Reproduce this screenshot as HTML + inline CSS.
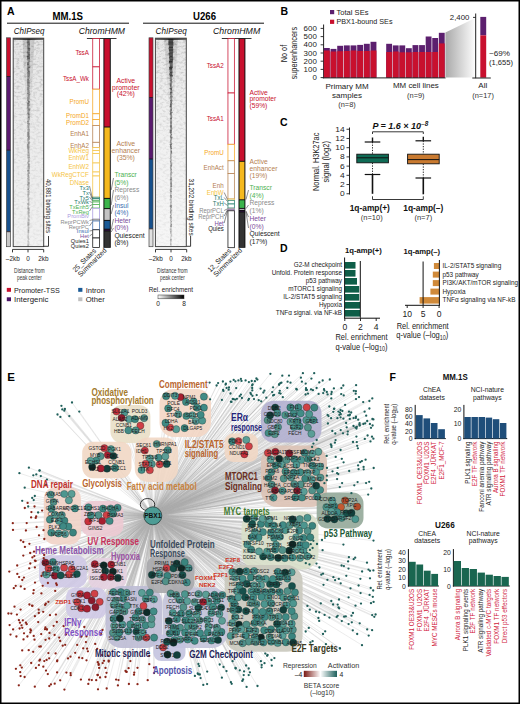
<!DOCTYPE html>
<html><head><meta charset="utf-8"><style>
html,body{margin:0;padding:0;background:#fff;width:520px;height:704px;overflow:hidden}
svg{display:block;font-family:"Liberation Sans",sans-serif}
</style></head><body>
<svg width="520" height="704" viewBox="0 0 520 704" font-family="'Liberation Sans', sans-serif">
<defs><filter id="noise3" x="0" y="0" width="1" height="1" filterUnits="objectBoundingBox">
<feTurbulence type="fractalNoise" baseFrequency="0.3 0.5" numOctaves="2" seed="3" result="t"/>
<feColorMatrix in="t" type="matrix" values="0 0 0 0 0  0 0 0 0 0  0 0 0 0 0  0.55 0 0 0 -0.24"/>
</filter><linearGradient id="nmg3" x1="0" y1="0" x2="0" y2="1"><stop offset="0" stop-color="#fff" stop-opacity="0.8"/><stop offset="0.3" stop-color="#fff" stop-opacity="0.6"/><stop offset="0.6" stop-color="#fff" stop-opacity="0.35"/><stop offset="1" stop-color="#fff" stop-opacity="0.25"/></linearGradient><mask id="nmask3" maskUnits="userSpaceOnUse" x="13.2" y="37.8" width="30.500000000000004" height="208.8"><rect x="13.2" y="37.8" width="30.500000000000004" height="208.8" fill="url(#nmg3)"/></mask><linearGradient id="halo3" x1="0" y1="0" x2="0" y2="1"><stop offset="0" stop-color="#000" stop-opacity="0.13"/><stop offset="1" stop-color="#000" stop-opacity="0"/></linearGradient><linearGradient id="hmtop3" x1="0" y1="0" x2="0" y2="1">
<stop offset="0" stop-color="#000" stop-opacity="0.05"/><stop offset="0.3" stop-color="#000" stop-opacity="0.03"/><stop offset="1" stop-color="#000" stop-opacity="0"/></linearGradient><linearGradient id="topband" x1="0" y1="0" x2="1" y2="0"><stop offset="0" stop-color="#555"/><stop offset="0.45" stop-color="#111"/><stop offset="0.55" stop-color="#111"/><stop offset="1" stop-color="#555"/></linearGradient><filter id="noise7" x="0" y="0" width="1" height="1" filterUnits="objectBoundingBox">
<feTurbulence type="fractalNoise" baseFrequency="0.3 0.5" numOctaves="2" seed="7" result="t"/>
<feColorMatrix in="t" type="matrix" values="0 0 0 0 0  0 0 0 0 0  0 0 0 0 0  0.55 0 0 0 -0.24"/>
</filter><linearGradient id="nmg7" x1="0" y1="0" x2="0" y2="1"><stop offset="0" stop-color="#fff" stop-opacity="0.8"/><stop offset="0.3" stop-color="#fff" stop-opacity="0.6"/><stop offset="0.6" stop-color="#fff" stop-opacity="0.35"/><stop offset="1" stop-color="#fff" stop-opacity="0.25"/></linearGradient><mask id="nmask7" maskUnits="userSpaceOnUse" x="155.4" y="37.8" width="30.900000000000006" height="208.8"><rect x="155.4" y="37.8" width="30.900000000000006" height="208.8" fill="url(#nmg7)"/></mask><linearGradient id="halo7" x1="0" y1="0" x2="0" y2="1"><stop offset="0" stop-color="#000" stop-opacity="0.13"/><stop offset="1" stop-color="#000" stop-opacity="0"/></linearGradient><linearGradient id="hmtop7" x1="0" y1="0" x2="0" y2="1">
<stop offset="0" stop-color="#000" stop-opacity="0.06"/><stop offset="0.3" stop-color="#000" stop-opacity="0.03"/><stop offset="1" stop-color="#000" stop-opacity="0"/></linearGradient><linearGradient id="cbar" x1="0" y1="0" x2="1" y2="0"><stop offset="0" stop-color="#fff"/><stop offset="1" stop-color="#000"/></linearGradient><linearGradient id="trap" x1="0" y1="0" x2="1" y2="0"><stop offset="0" stop-color="#a9a9a9"/><stop offset="1" stop-color="#fcfcfc"/></linearGradient><linearGradient id="beta" x1="0" y1="0" x2="1" y2="0"><stop offset="0" stop-color="#7a1a14"/><stop offset="0.5" stop-color="#ffffff"/><stop offset="1" stop-color="#1d5f5b"/></linearGradient></defs>
<rect x="0" y="0" width="520" height="704" fill="#fff"/>
<path d="M153 516L116.5 411.5M153 516L128.4 430.3M153 516L140.4 425.7M153 516L124.4 412.6M153 516L121.5 417.8M153 516L129.0 419.2M153 516L135.7 430.4M153 516L135.0 419.2M153 516L144.1 418.1M153 516L176.2 429.2M153 516L180.7 397.2M153 516L192.3 415.3M153 516L195.7 421.1M153 516L178.3 414.3M153 516L170.1 427.5M153 516L184.6 428.1M153 516L193.7 401.5M153 516L168.2 408.4M153 516L166.1 396.2M153 516L203.9 407.7M153 516L165.5 422.9M153 516L197.0 407.7M153 516L175.0 395.8M153 516L186.4 416.0M153 516L202.2 420.7M153 516L200.7 414.8M153 516L186.0 401.9M153 516L203.9 396.7M153 516L107.8 454.9M153 516L104.4 448.2M153 516L115.1 467.9M153 516L113.4 456.0M153 516L92.2 466.9M153 516L107.0 468.7M153 516L100.5 456.2M153 516L96.0 460.7M153 516L100.8 468.4M153 516L90.6 460.8M153 516L111.0 449.2M153 516L144.8 450.5M153 516L166.6 463.9M153 516L156.7 444.0M153 516L141.6 470.0M153 516L158.5 457.6M153 516L149.9 458.4M153 516L167.7 450.1M153 516L165.3 456.4M153 516L151.8 464.1M153 516L149.8 470.2M153 516L145.6 463.8M153 516L159.7 464.3M153 516L246.3 439.9M153 516L232.1 441.3M153 516L248.9 446.3M153 516L238.4 441.2M153 516L244.4 454.3M153 516L307.9 427.5M153 516L306.3 420.1M153 516L290.4 407.4M153 516L293.6 413.6M153 516L299.6 426.3M153 516L275.2 407.6M153 516L294.0 427.0M153 516L274.8 434.2M153 516L298.3 407.4M153 516L313.4 420.2M153 516L267.7 420.2M153 516L306.7 407.3M153 516L277.4 413.1M153 516L290.5 421.7M153 516L314.3 407.6M153 516L297.4 420.9M153 516L311.4 433.8M153 516L300.7 413.3M153 516L268.5 433.0M153 516L278.0 427.1M153 516L309.2 414.2M153 516L270.1 415.3M153 516L285.3 415.1M153 516L305.2 478.7M153 516L297.1 490.7M153 516L270.6 459.4M153 516L282.0 464.4M153 516L316.2 471.9M153 516L267.9 452.8M153 516L311.8 479.4M153 516L302.0 497.5M153 516L320.4 477.6M153 516L294.3 484.1M153 516L285.5 471.4M153 516L283.7 478.6M153 516L271.3 472.1M153 516L279.2 458.8M153 516L317.1 496.7M153 516L282.5 490.8M153 516L293.7 472.7M153 516L301.3 460.0M153 516L312.2 490.5M153 516L291.1 477.5M153 516L320.1 466.6M153 516L300.7 484.4M153 516L312.5 465.6M153 516L320.1 490.0M153 516L271.7 484.7M153 516L275.7 465.4M153 516L318.3 451.8M153 516L273.5 497.6M153 516L308.1 459.0M153 516L268.4 478.0M153 516L294.2 459.2M153 516L316.2 485.6M153 516L289.3 453.4M153 516L295.4 497.4M153 516L303.8 491.6M153 516L275.3 451.8M153 516L296.4 464.8M153 516L286.5 460.0M153 516L307.6 472.9M153 516L275.0 490.3M153 516L312.2 453.6M153 516L300.3 472.3M153 516L304.5 452.8M153 516L326.4 507.1M153 516L345.1 500.5M153 516L341.0 507.0M153 516L334.1 506.0M153 516L337.4 512.3M153 516L355.3 519.1M153 516L346.2 513.3M153 516L357.2 506.6M153 516L331.4 511.4M153 516L341.7 517.8M153 516L332.2 500.7M153 516L351.5 512.9M153 516L327.5 518.8M153 516L334.4 519.3M153 516L285.3 530.2M153 516L246.6 518.8M153 516L289.2 550.7M153 516L307.4 517.8M153 516L292.5 557.5M153 516L296.2 550.2M153 516L275.2 549.7M153 516L282.5 550.1M153 516L307.6 530.9M153 516L292.5 544.3M153 516L296.5 524.0M153 516L251.1 549.5M153 516L312.3 525.8M153 516L303.5 550.3M153 516L300.1 558.0M153 516L276.0 544.8M153 516L260.9 523.9M153 516L282.9 525.1M153 516L300.2 545.0M153 516L305.8 545.1M153 516L303.4 537.8M153 516L279.9 536.7M153 516L296.1 537.3M153 516L255.0 532.0M153 516L299.2 530.6M153 516L304.0 525.3M153 516L251.9 537.1M153 516L289.7 525.1M153 516L278.3 531.6M153 516L299.8 519.1M153 516L254.0 518.0M153 516L268.1 524.0M153 516L278.2 557.8M153 516L263.1 556.4M153 516L271.0 532.5M153 516L292.5 519.3M153 516L259.0 551.4M153 516L269.4 519.7M153 516L252.2 524.1M153 516L307.5 556.3M153 516L274.1 538.0M153 516L270.8 557.1M153 516L262.9 532.1M153 516L273.8 525.5M153 516L284.8 558.1M153 516L247.3 544.5M153 516L258.5 537.4M153 516L262.8 518.6M153 516L267.1 551.5M153 516L310.3 537.3M153 516L232.3 571.8M153 516L248.7 641.6M153 516L269.6 637.1M153 516L236.8 590.9M153 516L256.5 604.1M153 516L245.6 635.3M153 516L294.9 592.4M153 516L253.9 585.3M153 516L277.7 643.0M153 516L250.9 577.4M153 516L238.5 609.6M153 516L291.6 572.3M153 516L278.5 616.6M153 516L235.2 617.0M153 516L292.0 636.3M153 516L238.9 624.5M153 516L271.8 591.7M153 516L269.4 611.1M153 516L279.6 629.7M153 516L277.9 571.9M153 516L251.4 591.3M153 516L282.7 635.6M153 516L261.0 585.1M153 516L286.4 605.3M153 516L271.2 641.7M153 516L270.0 584.0M153 516L283.1 623.8M153 516L230.7 635.8M153 516L234.3 603.6M153 516L246.4 624.6M153 516L265.0 592.2M153 516L265.5 578.8M153 516L287.5 591.1M153 516L291.0 598.5M153 516L292.0 586.0M153 516L249.4 630.2M153 516L242.8 591.1M153 516L239.6 571.7M153 516L258.9 578.4M153 516L285.1 572.6M153 516L246.0 611.1M153 516L285.8 617.0M153 516L279.8 577.2M153 516L235.5 630.6M153 516L235.2 577.5M153 516L276.4 584.5M153 516L260.9 622.8M153 516L233.2 609.9M153 516L255.5 630.9M153 516L279.7 592.0M153 516L242.6 578.8M153 516L257.0 591.7M153 516L255.4 611.4M153 516L292.8 629.7M153 516L293.3 642.7M153 516L264.6 616.9M153 516L231.3 598.9M153 516L238.1 597.3M153 516L264.5 604.1M153 516L241.3 629.2M153 516L271.0 629.3M153 516L283.3 609.8M153 516L287.3 578.6M153 516L294.3 616.2M153 516L254.2 571.0M153 516L253.2 597.6M153 516L293.2 603.4M153 516L273.0 579.0M153 516L261.0 637.5M153 516L251.1 603.1M153 516L246.3 571.3M153 516L254.9 637.3M153 516L291.7 623.7M153 516L232.3 623.0M153 516L291.7 611.1M153 516L271.8 617.2M153 516L286.2 630.4M153 516L242.6 643.2M153 516L283.5 597.6M153 516L254.5 623.0M153 516L245.3 597.3M153 516L264.2 630.3M153 516L271.2 603.3M153 516L246.8 583.8M153 516L261.6 597.0M153 516L277.0 623.8M153 516L268.3 597.6M153 516L285.9 642.3M153 516L255.7 641.9M153 516L263.4 642.5M153 516L239.4 585.5M153 516L262.7 611.8M153 516L257.0 617.6M153 516L50.8 494.7M153 516L53.5 502.0M153 516L65.1 533.9M153 516L51.4 508.4M153 516L71.6 493.9M153 516L64.3 494.0M153 516L64.4 520.7M153 516L61.8 515.1M153 516L54.9 514.7M153 516L49.9 519.6M153 516L58.5 533.4M153 516L68.9 500.3M153 516L68.4 526.6M153 516L75.0 508.4M153 516L63.0 526.2M153 516L51.3 532.6M153 516L59.0 521.0M153 516L73.0 532.6M153 516L117.6 507.8M153 516L110.7 508.5M153 516L106.6 515.1M153 516L88.2 521.4M153 516L109.6 521.0M153 516L90.9 515.4M153 516L113.0 513.7M153 516L102.9 508.6M153 516L98.5 515.2M153 516L102.2 521.0M153 516L88.5 507.3M153 516L46.5 574.6M153 516L76.8 574.0M153 516L69.0 574.4M153 516L45.4 562.6M153 516L52.9 562.0M153 516L64.1 567.7M153 516L54.8 575.6M153 516L48.5 568.4M153 516L71.8 569.1M153 516L56.1 569.1M153 516L60.7 575.3M153 516L112.8 571.7M153 516L117.9 577.9M153 516L105.3 571.1M153 516L111.2 564.6M153 516L103.7 565.3M153 516L94.8 564.2M153 516L103.8 577.1M153 516L110.7 577.0M153 516L94.5 593.7M153 516L91.7 600.5M153 516L77.2 602.1M153 516L81.2 608.2M153 516L87.1 595.4M153 516L99.7 601.8M153 516L87.0 608.7M153 516L80.2 594.0M153 516L95.4 607.2M153 516L145.6 625.3M153 516L141.9 592.9M153 516L113.0 632.8M153 516L135.4 617.6M153 516L151.4 624.3M153 516L119.4 606.8M153 516L123.3 598.7M153 516L146.3 637.6M153 516L115.7 600.6M153 516L146.9 612.3M153 516L120.8 592.1M153 516L149.8 592.6M153 516L138.6 611.6M153 516L124.5 611.3M153 516L117.3 611.8M153 516L151.6 618.8M153 516L137.5 625.8M153 516L113.4 592.1M153 516L145.9 598.7M153 516L128.3 631.1M153 516L127.1 605.5M153 516L153.9 599.3M153 516L116.9 637.3M153 516L153.6 611.4M153 516L143.5 605.9M153 516L113.7 604.8M153 516L114.2 625.8M153 516L130.3 624.4M153 516L119.4 632.4M153 516L136.3 631.5M153 516L126.7 592.9M153 516L142.2 619.5M153 516L113.6 618.7M153 516L154.1 637.6M153 516L138.5 637.5M153 516L142.2 632.4M153 516L122.3 624.6M153 516L120.0 618.3M153 516L194.7 640.8M153 516L194.3 626.5M153 516L222.3 595.0M153 516L208.4 601.8M153 516L174.4 640.1M153 516L172.8 612.8M153 516L180.0 639.6M153 516L170.7 593.5M153 516L221.1 607.5M153 516L221.4 631.9M153 516L198.3 607.7M153 516L213.0 606.7M153 516L199.3 620.3M153 516L191.2 620.1M153 516L185.4 620.4M153 516L207.2 619.9M153 516L176.9 619.2M153 516L176.3 595.1M153 516L203.6 638.6M153 516L205.9 594.6M153 516L184.9 594.2M153 516L168.9 621.0M153 516L187.9 626.5M153 516L207.8 632.4M153 516L180.0 627.7M153 516L208.5 626.4M153 516L218.0 640.0M153 516L181.1 613.7M153 516L194.6 602.1M153 516L200.0 633.1M153 516L211.5 640.5M153 516L196.7 614.4M153 516L176.4 632.4M153 516L219.4 613.9M153 516L169.8 633.3M153 516L187.1 601.2M153 516L173.5 627.5M153 516L179.7 600.0M153 516L214.5 594.8M153 516L222.0 620.8M153 516L187.7 639.5M153 516L203.1 602.0M153 516L198.6 594.0M153 516L216.9 600.6M153 516L183.4 607.2M153 516L211.4 613.0M153 516L192.7 633.0M153 516L215.6 633.8M153 516L185.1 632.7M153 516L216.9 627.7M153 516L189.0 613.4M153 516L163.1 647.3M153 516L177.0 655.0M153 516L167.0 641.7M153 516L167.5 654.6M153 516L173.5 642.7M153 516L188.6 568.0M153 516L173.4 568.3M153 516L186.8 582.4M153 516L167.4 575.9M153 516L181.4 568.1M153 516L182.5 575.1M153 516L159.4 574.2M153 516L184.7 562.2M153 516L166.5 568.1M153 516L151.9 574.8M153 516L176.7 563.6M153 516L165.7 581.3M153 516L60.4 416.9M153 516L64.9 409.0M153 516L62.3 409.4M153 516L61.4 405.8M153 516L57.5 414.5M153 516L72.0 402.5M153 516L64.3 410.7M153 516L79.3 411.6M153 516L69.3 416.1M153 516L252.2 388.0M153 516L236.9 398.8M153 516L233.6 399.2M153 516L233.7 379.9M153 516L256.7 395.1M153 516L235.1 399.6M153 516L251.2 394.3M153 516L241.5 380.9M153 516L248.9 382.1M153 516L261.2 401.3M153 516L251.7 381.0M153 516L230.9 401.7M153 516L231.5 401.9M153 516L241.9 398.0M153 516L221.9 399.9M153 516L257.4 379.6M153 516L229.0 387.5M153 516L225.6 384.6M153 516L232.7 399.0M153 516L250.5 393.0M153 516L236.2 388.1M153 516L230.4 381.6M153 516L239.7 396.2M153 516L258.7 400.2M153 516L238.4 380.4M153 516L223.4 390.9M153 516L226.6 387.9M153 516L228.7 389.7M153 516L240.9 378.9M153 516L222.9 381.5M153 516L240.9 394.6M153 516L210.1 399.3M153 516L225.9 383.7M153 516L248.3 400.1M153 516L256.4 378.5M153 516L252.1 385.3M153 516L223.1 389.8M153 516L245.6 380.4M153 516L254.9 381.2M153 516L260.6 388.6M153 516L252.6 384.5M153 516L230.5 393.5M153 516L218.1 383.1M153 516L252.5 395.8M153 516L249.0 398.8M153 516L252.3 390.4M153 516L216.6 385.5M153 516L235.4 381.3M153 516L254.0 399.1M153 516L209.6 382.6M153 516L318.6 393.9M153 516L279.0 384.4M153 516L324.4 390.6M153 516L280.6 393.6M153 516L296.3 388.9M153 516L270.4 373.8M153 516L287.3 387.9M153 516L274.1 394.8M153 516L301.9 381.7M153 516L273.1 395.4M153 516L312.9 390.2M153 516L281.4 382.7M153 516L273.1 387.3M153 516L327.6 394.4M153 516L306.0 389.9M153 516L280.3 383.2M153 516L263.4 392.5M153 516L314.2 373.2M153 516L324.0 389.2M153 516L302.9 373.2M153 516L279.2 393.1M153 516L282.8 397.2M153 516L305.7 383.6M153 516L287.6 381.7M153 516L279.1 384.7M153 516L308.0 393.6M153 516L289.0 375.6M153 516L296.8 389.6M153 516L319.3 382.4M153 516L306.0 388.2M153 516L282.3 375.7M153 516L266.3 397.7M153 516L305.6 394.5M153 516L279.8 390.8M153 516L322.7 380.5M153 516L272.2 392.1M153 516L323.2 393.1M153 516L316.6 388.0M153 516L306.9 390.0M153 516L311.0 389.4M153 516L329.8 379.5M153 516L290.5 382.7M153 516L264.4 390.7M153 516L300.9 377.7M153 516L311.4 378.6M153 516L351.2 412.5M153 516L369.4 408.5M153 516L349.9 414.6M153 516L366.2 415.7M153 516L333.9 388.4M153 516L331.3 394.1M153 516L364.6 411.7M153 516L334.0 408.8M153 516L341.4 388.1M153 516L342.4 411.0M153 516L340.0 412.6M153 516L341.2 394.1M153 516L339.4 414.8M153 516L348.1 415.3M153 516L353.6 418.1M153 516L328.5 416.1M153 516L349.5 415.4M153 516L343.7 395.4M153 516L327.6 414.9M153 516L331.7 392.0M153 516L345.1 404.9M153 516L369.4 401.0M153 516L340.5 410.0M153 516L363.2 402.1M153 516L355.9 391.2M153 516L356.1 385.2M153 516L338.4 411.6M153 516L333.3 411.8M153 516L349.0 411.7M153 516L329.3 406.5M153 516L356.0 399.1M153 516L372.3 398.4M153 516L326.8 392.0M153 516L343.3 385.5M153 516L340.8 414.2M153 516L334.3 408.7M153 516L355.7 393.7M153 516L359.0 397.1M153 516L331.3 398.4M153 516L353.8 390.8M153 516L364.8 438.9M153 516L337.1 473.2M153 516L353.0 442.0M153 516L368.2 494.6M153 516L339.8 487.1M153 516L340.7 430.1M153 516L371.3 488.5M153 516L343.0 433.3M153 516L359.8 425.5M153 516L360.2 462.2M153 516L330.8 444.3M153 516L355.8 418.0M153 516L367.6 435.5M153 516L349.8 418.9M153 516L373.7 468.0M153 516L356.0 416.6M153 516L357.9 448.3M153 516L341.8 458.8M153 516L346.7 427.3M153 516L358.1 465.4M153 516L337.7 467.9M153 516L356.4 436.6M153 516L353.5 426.0M153 516L365.2 423.4M153 516L359.4 424.4M153 516L327.9 423.5M153 516L332.3 431.0M153 516L335.7 456.9M153 516L332.5 471.3M153 516L337.4 418.2M153 516L347.8 431.6M153 516L370.5 441.4M153 516L322.1 468.7M153 516L369.2 481.8M153 516L356.8 426.9M153 516L326.7 455.9M153 516L359.6 423.1M153 516L335.3 433.5M153 516L373.4 438.7M153 516L346.1 423.0M153 516L331.1 418.2M153 516L337.1 479.1M153 516L338.3 474.1M153 516L326.9 475.7M153 516L324.4 483.2M153 516L356.5 428.6M153 516L340.6 450.0M153 516L354.3 485.3M153 516L326.8 480.2M153 516L331.5 447.1M153 516L372.0 436.7M153 516L342.1 483.1M153 516L363.6 466.9M153 516L363.4 424.0M153 516L358.2 419.7M153 516L371.0 427.8M153 516L343.6 462.3M153 516L363.7 469.3M153 516L331.4 445.4M153 516L340.6 417.3M153 516L357.6 482.1M153 516L372.6 425.5M153 516L369.9 424.0M153 516L343.4 418.7M153 516L335.6 440.1M153 516L358.6 469.2M153 516L361.9 461.1M153 516L351.4 493.2M153 516L356.8 442.1M153 516L349.2 471.0M153 516L327.0 467.9M153 516L334.9 442.7M153 516L357.2 445.8M153 516L365.6 459.7M153 516L373.4 419.4M153 516L355.5 427.6M153 516L366.1 483.1M153 516L367.2 421.0M153 516L347.6 434.3M153 516L372.4 419.0M153 516L306.7 459.3M153 516L312.1 447.0M153 516L313.8 464.0M153 516L313.4 465.7M153 516L313.4 443.6M153 516L314.9 459.6M153 516L303.1 452.4M153 516L316.7 440.0M153 516L302.7 458.1M153 516L318.6 449.1M153 516L33.3 475.3M153 516L38.1 512.5M153 516L28.9 467.7M153 516L24.7 487.7M153 516L34.8 496.0M153 516L32.2 497.9M153 516L39.5 470.7M153 516L40.8 476.1M153 516L28.2 506.5M153 516L46.9 479.6M153 516L33.7 500.1M153 516L19.4 473.2M153 516L22.2 500.8M153 516L39.6 470.3M153 516L36.3 474.4M153 516L45.9 484.6M153 516L24.9 546.9M153 516L34.5 506.5M153 516L23.3 555.6M153 516L39.0 535.3M153 516L36.6 527.0M153 516L32.4 557.4M153 516L13.0 529.9M153 516L27.6 502.9M153 516L42.6 550.3M153 516L25.9 530.5M153 516L42.1 510.6M153 516L29.4 543.8M153 516L12.8 523.2M153 516L30.2 553.0M153 516L26.7 523.1M153 516L44.2 555.0M153 516L36.2 516.4M153 516L43.7 558.2M153 516L24.8 508.0M153 516L23.3 542.0M153 516L35.7 517.9M153 516L34.0 551.6M153 516L34.3 556.1M153 516L31.4 512.1M153 516L31.1 517.4M153 516L20.8 540.3M153 516L44.3 539.0M153 516L43.5 530.2M153 516L42.7 585.8M153 516L13.8 588.2M153 516L32.0 605.7M153 516L41.4 593.4M153 516L45.4 627.3M153 516L22.3 627.8M153 516L48.4 601.8M153 516L9.3 571.6M153 516L41.5 576.0M153 516L45.5 572.9M153 516L22.3 580.0M153 516L50.0 615.2M153 516L22.8 620.3M153 516L9.6 625.1M153 516L13.1 629.4M153 516L45.0 629.2M153 516L45.1 604.9M153 516L19.9 622.7M153 516L47.9 583.0M153 516L41.2 634.1M153 516L27.4 636.5M153 516L56.8 585.0M153 516L35.6 561.0M153 516L20.6 609.6M153 516L47.0 629.6M153 516L49.5 632.9M153 516L43.2 611.8M153 516L45.8 603.7M153 516L38.2 622.1M153 516L56.2 583.5M153 516L16.9 614.6M153 516L17.3 573.9M153 516L33.7 590.2M153 516L29.4 604.5M153 516L14.5 606.7M153 516L20.8 586.4M153 516L43.5 572.4M153 516L15.7 585.8M153 516L10.5 634.6M153 516L38.8 613.0M153 516L32.5 605.8M153 516L25.9 622.7M153 516L23.9 577.6M153 516L17.2 565.5M153 516L33.3 593.3M153 516L34.9 567.4M153 516L19.1 577.1M153 516L24.6 588.9M153 516L18.9 620.2M153 516L34.5 639.7M153 516L49.2 638.5M153 516L8.4 613.5M153 516L30.3 632.4M153 516L38.7 609.7M153 516L55.9 614.6M153 516L24.0 633.3M153 516L55.2 590.9M153 516L35.0 582.6M153 516L53.6 625.8M153 516L26.7 624.2M153 516L30.3 563.5M153 516L52.9 575.4M153 516L33.7 635.9M153 516L16.4 636.5M153 516L34.9 560.6M153 516L11.3 613.6M153 516L46.7 629.2M153 516L29.2 568.3M153 516L34.9 616.2M153 516L56.8 622.0M153 516L49.3 686.1M153 516L54.6 635.0M153 516L39.3 646.6M153 516L19.6 628.5M153 516L57.1 661.3M153 516L45.5 639.8M153 516L28.7 650.2M153 516L48.4 653.1M153 516L15.9 668.8M153 516L43.3 666.7M153 516L47.8 674.1M153 516L46.0 670.6M153 516L18.8 685.3M153 516L20.6 676.1M153 516L31.0 630.6M153 516L55.6 653.4M153 516L35.9 667.9M153 516L40.1 659.7M153 516L22.2 650.4M153 516L57.3 660.5M153 516L65.9 634.4M153 516L50.9 684.4M153 516L57.1 672.4M153 516L34.8 686.7M153 516L44.3 661.1M153 516L21.5 625.3M153 516L46.6 659.9M153 516L65.2 644.8M153 516L54.7 683.7M153 516L33.2 651.8M153 516L49.2 658.3M153 516L23.5 639.4M153 516L59.2 637.6M153 516L24.6 677.0M153 516L60.2 680.3M153 516L64.4 689.6M153 516L39.4 660.7M153 516L30.4 629.4M153 516L20.2 672.2M153 516L40.8 646.5M153 516L21.8 667.6M153 516L20.3 665.3M153 516L62.7 645.7M153 516L38.9 665.1M153 516L31.2 663.0M153 516L87.1 648.7M153 516L75.2 652.8M153 516L60.2 641.0M153 516L70.6 673.1M153 516L80.9 679.6M153 516L66.4 672.6M153 516L102.1 655.1M153 516L77.2 644.9M153 516L86.5 636.4M153 516L89.1 679.7M153 516L101.2 634.1M153 516L85.9 642.1M153 516L102.5 630.0M153 516L63.6 626.2M153 516L84.3 627.0M153 516L87.9 651.3M153 516L88.3 683.9M153 516L86.5 660.3M153 516L107.9 655.7M153 516L97.2 648.8M153 516L70.7 675.2M153 516L95.2 643.9M153 516L82.3 658.2M153 516L79.0 657.6M153 516L91.8 680.1M153 516L98.7 664.9M153 516L68.0 658.4M153 516L81.4 636.6M153 516L105.5 667.9M153 516L106.5 672.8M153 516L83.2 648.3M153 516L70.5 656.7M153 516L99.1 667.9M153 516L97.8 662.2M153 516L154.0 667.6M153 516L125.5 670.9M153 516L98.0 689.3M153 516L116.1 679.6M153 516L128.9 684.0M153 516L149.3 664.2M153 516L130.4 661.1M153 516L137.5 667.8M153 516L137.5 684.2M153 516L128.6 668.2M153 516L154.0 673.1M153 516L117.9 685.4M153 516L126.6 671.9M153 516L134.3 672.6M153 516L104.0 660.8M153 516L100.0 677.5M153 516L108.7 661.5M153 516L118.5 680.1M153 516L102.7 663.1M153 516L147.7 680.2M153 516L126.3 671.8M153 516L108.7 660.6M153 516L149.2 655.8M153 516L97.8 675.1M153 516L105.5 677.0M153 516L97.5 675.0M153 516L98.6 664.0M153 516L106.7 688.5M153 516L134.0 674.7M153 516L96.2 680.2M153 516L235.7 668.5M153 516L197.7 673.5M153 516L257.5 686.0M153 516L203.3 684.9M153 516L231.7 683.8M153 516L246.1 665.5M153 516L235.5 667.9M153 516L239.8 670.3M153 516L221.9 677.7M153 516L207.2 671.6M153 516L199.2 666.1M153 516L248.7 675.1M153 516L219.7 664.5M153 516L198.4 674.3M153 516L232.6 661.2M153 516L243.7 675.1M153 516L199.8 674.5M153 516L200.6 678.1M153 516L246.6 686.9M153 516L243.1 679.5M153 516L226.5 671.1M153 516L194.9 675.9M153 516L207.1 684.1M153 516L244.1 671.4M153 516L230.9 682.2M153 516L242.3 680.9M153 516L198.4 664.0M153 516L223.5 667.0M153 516L248.7 668.5M153 516L249.9 672.3M153 516L318.4 618.0M153 516L361.0 603.6M153 516L313.4 540.8M153 516L351.5 615.7M153 516L327.4 579.8M153 516L316.0 611.7M153 516L323.0 634.0M153 516L335.1 580.2M153 516L324.6 614.9M153 516L358.6 585.5M153 516L360.6 593.1M153 516L331.3 601.0M153 516L323.0 573.7M153 516L329.4 617.6M153 516L357.2 634.0M153 516L351.8 622.3M153 516L336.7 616.9M153 516L316.5 563.6M153 516L333.4 577.2M153 516L344.1 616.7M153 516L355.2 557.7M153 516L373.5 540.6M153 516L311.5 556.0M153 516L370.7 587.9M153 516L309.5 564.4M153 516L310.7 544.2M153 516L332.3 648.3M153 516L348.6 597.3M153 516L355.5 605.7M153 516L372.1 630.2M153 516L350.5 588.3M153 516L319.3 612.3M153 516L362.1 571.5M153 516L307.4 605.9M153 516L341.6 565.5M153 516L317.0 544.0M153 516L322.0 540.0M153 516L316.2 649.6M153 516L360.4 578.8M153 516L333.1 604.5M153 516L341.8 621.1M153 516L309.9 549.9M153 516L325.2 631.3M153 516L370.0 578.3M153 516L373.4 570.4M153 516L348.1 561.4M153 516L371.0 603.2M153 516L323.5 584.8M153 516L312.6 548.0M153 516L325.9 644.2M153 516L362.0 645.2M153 516L367.2 629.4M153 516L345.8 616.4M153 516L373.6 601.9M153 516L359.7 623.3M153 516L373.2 590.5M153 516L337.7 604.6M153 516L306.9 552.8M153 516L309.8 609.7M153 516L375.6 614.5M153 516L321.3 574.7M153 516L372.8 596.8M153 516L305.7 631.5M153 516L322.6 550.2M153 516L352.8 630.3M153 516L310.4 642.5M153 516L338.8 578.9M153 516L368.5 569.6M153 516L372.2 615.1M153 516L369.6 594.9M153 516L319.2 620.9M153 516L367.0 562.7M153 516L319.4 567.5M153 516L348.9 557.2M153 516L312.6 641.2M153 516L353.0 613.0M153 516L348.6 624.1M153 516L343.4 544.6M153 516L339.2 608.3M153 516L340.0 648.4M153 516L368.7 635.6M153 516L339.8 648.3M153 516L370.0 570.8M153 516L320.8 603.4M153 516L308.8 627.9M153 516L339.0 599.5M153 516L340.7 583.3M153 516L353.7 559.2M153 516L374.3 616.8M153 516L337.7 615.8M153 516L305.8 563.2M153 516L346.3 575.8M153 516L348.5 568.6M153 516L343.9 566.1M153 516L338.5 607.4M153 516L271.5 660.0M153 516L264.5 663.2M153 516L271.8 665.7M153 516L267.6 654.9M153 516L260.9 661.2M153 516L265.3 653.6M153 516L267.1 655.8M153 516L274.4 658.1M153 516L261.6 667.3M153 516L261.7 664.9" stroke="#b0b0b0" stroke-width="0.3" fill="none" opacity="0.8"/>
<rect x="110.4" y="405.0" width="40.0" height="38.0" rx="11.4" fill="#e9dfc6" opacity="0.9"/>
<rect x="159.5" y="389.0" width="51.5" height="48.0" rx="14.4" fill="#f3d6c4" opacity="0.9"/>
<rect x="82.2" y="441.8" width="49.3" height="36.4" rx="10.9" fill="#f1d7c4" opacity="0.9"/>
<rect x="134.8" y="437.4" width="43.2" height="44.5" rx="13.0" fill="#f1d7c4" opacity="0.9"/>
<rect x="224.6" y="433.5" width="33.4" height="28.5" rx="8.5" fill="#f1d7c4" opacity="0.9"/>
<rect x="261.0" y="400.8" width="60.5" height="41.7" rx="12.5" fill="#b1afcf" opacity="0.9"/>
<rect x="261.0" y="445.5" width="66.0" height="61.5" rx="16.0" fill="#dbc2b5" opacity="0.9"/>
<rect x="316.7" y="492.6" width="46.8" height="35.9" rx="10.8" fill="#93a999" opacity="0.9"/>
<rect x="241.5" y="511.5" width="77.0" height="58.0" rx="16.0" fill="#d8dfc9" opacity="0.9"/>
<rect x="224.6" y="565.0" width="78.0" height="86.8" rx="16.0" fill="#c9c8bc" opacity="0.9"/>
<rect x="43.8" y="487.6" width="37.1" height="56.9" rx="11.1" fill="#f1d3c6" opacity="0.9"/>
<rect x="80.9" y="501.0" width="42.5" height="35.4" rx="10.6" fill="#ecc9d2" opacity="0.9"/>
<rect x="39.0" y="555.3" width="47.8" height="32.3" rx="9.7" fill="#cfc9e6" opacity="0.9"/>
<rect x="88.4" y="558.0" width="38.3" height="31.0" rx="9.3" fill="#e6d0e0" opacity="0.9"/>
<rect x="66.0" y="587.6" width="40.5" height="31.0" rx="9.3" fill="#cfc9e6" opacity="0.9"/>
<rect x="105.5" y="586.0" width="56.5" height="62.0" rx="16.0" fill="#bcbbd4" opacity="0.9"/>
<rect x="162.5" y="587.5" width="65.5" height="60.5" rx="16.0" fill="#c3c3d9" opacity="0.9"/>
<rect x="153.4" y="634.5" width="32.1" height="26.5" rx="7.9" fill="#c3c3df" opacity="0.9"/>
<rect x="146.4" y="555.5" width="48.1" height="37.5" rx="11.2" fill="#a8a8ac" opacity="0.9"/>
<circle cx="60.4" cy="416.9" r="1.15" fill="#1f5f5a"/>
<circle cx="64.9" cy="409.0" r="1.15" fill="#1f5f5a"/>
<circle cx="62.3" cy="409.4" r="1.15" fill="#1f5f5a"/>
<circle cx="61.4" cy="405.8" r="1.15" fill="#1f5f5a"/>
<circle cx="57.5" cy="414.5" r="1.15" fill="#1f5f5a"/>
<circle cx="72.0" cy="402.5" r="1.15" fill="#1f5f5a"/>
<circle cx="64.3" cy="410.7" r="1.15" fill="#1f5f5a"/>
<circle cx="79.3" cy="411.6" r="1.15" fill="#1f5f5a"/>
<circle cx="69.3" cy="416.1" r="1.15" fill="#1f5f5a"/>
<circle cx="252.2" cy="388.0" r="1.15" fill="#1f5f5a"/>
<circle cx="236.9" cy="398.8" r="1.15" fill="#1f5f5a"/>
<circle cx="233.6" cy="399.2" r="1.15" fill="#1f5f5a"/>
<circle cx="233.7" cy="379.9" r="1.15" fill="#1f5f5a"/>
<circle cx="256.7" cy="395.1" r="1.15" fill="#1f5f5a"/>
<circle cx="235.1" cy="399.6" r="1.15" fill="#1f5f5a"/>
<circle cx="251.2" cy="394.3" r="1.15" fill="#1f5f5a"/>
<circle cx="241.5" cy="380.9" r="1.15" fill="#1f5f5a"/>
<circle cx="248.9" cy="382.1" r="1.15" fill="#1f5f5a"/>
<circle cx="261.2" cy="401.3" r="1.15" fill="#1f5f5a"/>
<circle cx="251.7" cy="381.0" r="1.15" fill="#1f5f5a"/>
<circle cx="230.9" cy="401.7" r="1.15" fill="#1f5f5a"/>
<circle cx="231.5" cy="401.9" r="1.15" fill="#1f5f5a"/>
<circle cx="241.9" cy="398.0" r="1.15" fill="#1f5f5a"/>
<circle cx="221.9" cy="399.9" r="1.15" fill="#1f5f5a"/>
<circle cx="257.4" cy="379.6" r="1.15" fill="#1f5f5a"/>
<circle cx="229.0" cy="387.5" r="1.15" fill="#1f5f5a"/>
<circle cx="225.6" cy="384.6" r="1.15" fill="#1f5f5a"/>
<circle cx="232.7" cy="399.0" r="1.15" fill="#1f5f5a"/>
<circle cx="250.5" cy="393.0" r="1.15" fill="#1f5f5a"/>
<circle cx="236.2" cy="388.1" r="1.15" fill="#1f5f5a"/>
<circle cx="230.4" cy="381.6" r="1.15" fill="#1f5f5a"/>
<circle cx="239.7" cy="396.2" r="1.15" fill="#1f5f5a"/>
<circle cx="258.7" cy="400.2" r="1.15" fill="#1f5f5a"/>
<circle cx="238.4" cy="380.4" r="1.15" fill="#1f5f5a"/>
<circle cx="223.4" cy="390.9" r="1.15" fill="#1f5f5a"/>
<circle cx="226.6" cy="387.9" r="1.15" fill="#1f5f5a"/>
<circle cx="228.7" cy="389.7" r="1.15" fill="#1f5f5a"/>
<circle cx="240.9" cy="378.9" r="1.15" fill="#1f5f5a"/>
<circle cx="222.9" cy="381.5" r="1.15" fill="#1f5f5a"/>
<circle cx="240.9" cy="394.6" r="1.15" fill="#1f5f5a"/>
<circle cx="210.1" cy="399.3" r="1.15" fill="#1f5f5a"/>
<circle cx="225.9" cy="383.7" r="1.15" fill="#1f5f5a"/>
<circle cx="248.3" cy="400.1" r="1.15" fill="#1f5f5a"/>
<circle cx="256.4" cy="378.5" r="1.15" fill="#1f5f5a"/>
<circle cx="252.1" cy="385.3" r="1.15" fill="#1f5f5a"/>
<circle cx="223.1" cy="389.8" r="1.15" fill="#1f5f5a"/>
<circle cx="245.6" cy="380.4" r="1.15" fill="#1f5f5a"/>
<circle cx="254.9" cy="381.2" r="1.15" fill="#1f5f5a"/>
<circle cx="260.6" cy="388.6" r="1.15" fill="#1f5f5a"/>
<circle cx="252.6" cy="384.5" r="1.15" fill="#1f5f5a"/>
<circle cx="230.5" cy="393.5" r="1.15" fill="#1f5f5a"/>
<circle cx="218.1" cy="383.1" r="1.15" fill="#1f5f5a"/>
<circle cx="252.5" cy="395.8" r="1.15" fill="#1f5f5a"/>
<circle cx="249.0" cy="398.8" r="1.15" fill="#1f5f5a"/>
<circle cx="252.3" cy="390.4" r="1.15" fill="#1f5f5a"/>
<circle cx="216.6" cy="385.5" r="1.15" fill="#1f5f5a"/>
<circle cx="235.4" cy="381.3" r="1.15" fill="#1f5f5a"/>
<circle cx="254.0" cy="399.1" r="1.15" fill="#1f5f5a"/>
<circle cx="209.6" cy="382.6" r="1.15" fill="#1f5f5a"/>
<circle cx="318.6" cy="393.9" r="1.15" fill="#1f5f5a"/>
<circle cx="279.0" cy="384.4" r="1.15" fill="#1f5f5a"/>
<circle cx="324.4" cy="390.6" r="1.15" fill="#1f5f5a"/>
<circle cx="280.6" cy="393.6" r="1.15" fill="#1f5f5a"/>
<circle cx="296.3" cy="388.9" r="1.15" fill="#1f5f5a"/>
<circle cx="270.4" cy="373.8" r="1.15" fill="#1f5f5a"/>
<circle cx="287.3" cy="387.9" r="1.15" fill="#1f5f5a"/>
<circle cx="274.1" cy="394.8" r="1.15" fill="#1f5f5a"/>
<circle cx="301.9" cy="381.7" r="1.15" fill="#1f5f5a"/>
<circle cx="273.1" cy="395.4" r="1.15" fill="#1f5f5a"/>
<circle cx="312.9" cy="390.2" r="1.15" fill="#1f5f5a"/>
<circle cx="281.4" cy="382.7" r="1.15" fill="#1f5f5a"/>
<circle cx="273.1" cy="387.3" r="1.15" fill="#1f5f5a"/>
<circle cx="327.6" cy="394.4" r="1.15" fill="#1f5f5a"/>
<circle cx="306.0" cy="389.9" r="1.15" fill="#1f5f5a"/>
<circle cx="280.3" cy="383.2" r="1.15" fill="#1f5f5a"/>
<circle cx="263.4" cy="392.5" r="1.15" fill="#1f5f5a"/>
<circle cx="314.2" cy="373.2" r="1.15" fill="#1f5f5a"/>
<circle cx="324.0" cy="389.2" r="1.15" fill="#1f5f5a"/>
<circle cx="302.9" cy="373.2" r="1.15" fill="#1f5f5a"/>
<circle cx="279.2" cy="393.1" r="1.15" fill="#1f5f5a"/>
<circle cx="282.8" cy="397.2" r="1.15" fill="#1f5f5a"/>
<circle cx="305.7" cy="383.6" r="1.15" fill="#1f5f5a"/>
<circle cx="287.6" cy="381.7" r="1.15" fill="#1f5f5a"/>
<circle cx="279.1" cy="384.7" r="1.15" fill="#1f5f5a"/>
<circle cx="308.0" cy="393.6" r="1.15" fill="#1f5f5a"/>
<circle cx="289.0" cy="375.6" r="1.15" fill="#1f5f5a"/>
<circle cx="296.8" cy="389.6" r="1.15" fill="#1f5f5a"/>
<circle cx="319.3" cy="382.4" r="1.15" fill="#1f5f5a"/>
<circle cx="306.0" cy="388.2" r="1.15" fill="#1f5f5a"/>
<circle cx="282.3" cy="375.7" r="1.15" fill="#1f5f5a"/>
<circle cx="266.3" cy="397.7" r="1.15" fill="#1f5f5a"/>
<circle cx="305.6" cy="394.5" r="1.15" fill="#1f5f5a"/>
<circle cx="279.8" cy="390.8" r="1.15" fill="#1f5f5a"/>
<circle cx="322.7" cy="380.5" r="1.15" fill="#1f5f5a"/>
<circle cx="272.2" cy="392.1" r="1.15" fill="#1f5f5a"/>
<circle cx="323.2" cy="393.1" r="1.15" fill="#1f5f5a"/>
<circle cx="316.6" cy="388.0" r="1.15" fill="#1f5f5a"/>
<circle cx="306.9" cy="390.0" r="1.15" fill="#1f5f5a"/>
<circle cx="311.0" cy="389.4" r="1.15" fill="#1f5f5a"/>
<circle cx="329.8" cy="379.5" r="1.15" fill="#1f5f5a"/>
<circle cx="290.5" cy="382.7" r="1.15" fill="#1f5f5a"/>
<circle cx="264.4" cy="390.7" r="1.15" fill="#1f5f5a"/>
<circle cx="300.9" cy="377.7" r="1.15" fill="#1f5f5a"/>
<circle cx="311.4" cy="378.6" r="1.15" fill="#1f5f5a"/>
<circle cx="351.2" cy="412.5" r="1.15" fill="#1f5f5a"/>
<circle cx="369.4" cy="408.5" r="1.15" fill="#1f5f5a"/>
<circle cx="349.9" cy="414.6" r="1.15" fill="#1f5f5a"/>
<circle cx="366.2" cy="415.7" r="1.15" fill="#1f5f5a"/>
<circle cx="333.9" cy="388.4" r="1.15" fill="#1f5f5a"/>
<circle cx="331.3" cy="394.1" r="1.15" fill="#1f5f5a"/>
<circle cx="364.6" cy="411.7" r="1.15" fill="#1f5f5a"/>
<circle cx="334.0" cy="408.8" r="1.15" fill="#1f5f5a"/>
<circle cx="341.4" cy="388.1" r="1.15" fill="#1f5f5a"/>
<circle cx="342.4" cy="411.0" r="1.15" fill="#1f5f5a"/>
<circle cx="340.0" cy="412.6" r="1.15" fill="#1f5f5a"/>
<circle cx="341.2" cy="394.1" r="1.15" fill="#1f5f5a"/>
<circle cx="339.4" cy="414.8" r="1.15" fill="#1f5f5a"/>
<circle cx="348.1" cy="415.3" r="1.15" fill="#1f5f5a"/>
<circle cx="353.6" cy="418.1" r="1.15" fill="#1f5f5a"/>
<circle cx="328.5" cy="416.1" r="1.15" fill="#1f5f5a"/>
<circle cx="349.5" cy="415.4" r="1.15" fill="#1f5f5a"/>
<circle cx="343.7" cy="395.4" r="1.15" fill="#1f5f5a"/>
<circle cx="327.6" cy="414.9" r="1.15" fill="#1f5f5a"/>
<circle cx="331.7" cy="392.0" r="1.15" fill="#1f5f5a"/>
<circle cx="345.1" cy="404.9" r="1.15" fill="#1f5f5a"/>
<circle cx="369.4" cy="401.0" r="1.15" fill="#1f5f5a"/>
<circle cx="340.5" cy="410.0" r="1.15" fill="#1f5f5a"/>
<circle cx="363.2" cy="402.1" r="1.15" fill="#1f5f5a"/>
<circle cx="355.9" cy="391.2" r="1.15" fill="#1f5f5a"/>
<circle cx="356.1" cy="385.2" r="1.15" fill="#1f5f5a"/>
<circle cx="338.4" cy="411.6" r="1.15" fill="#1f5f5a"/>
<circle cx="333.3" cy="411.8" r="1.15" fill="#1f5f5a"/>
<circle cx="349.0" cy="411.7" r="1.15" fill="#1f5f5a"/>
<circle cx="329.3" cy="406.5" r="1.15" fill="#1f5f5a"/>
<circle cx="356.0" cy="399.1" r="1.15" fill="#1f5f5a"/>
<circle cx="372.3" cy="398.4" r="1.15" fill="#1f5f5a"/>
<circle cx="326.8" cy="392.0" r="1.15" fill="#1f5f5a"/>
<circle cx="343.3" cy="385.5" r="1.15" fill="#1f5f5a"/>
<circle cx="340.8" cy="414.2" r="1.15" fill="#1f5f5a"/>
<circle cx="334.3" cy="408.7" r="1.15" fill="#1f5f5a"/>
<circle cx="355.7" cy="393.7" r="1.15" fill="#1f5f5a"/>
<circle cx="359.0" cy="397.1" r="1.15" fill="#1f5f5a"/>
<circle cx="331.3" cy="398.4" r="1.15" fill="#1f5f5a"/>
<circle cx="353.8" cy="390.8" r="1.15" fill="#1f5f5a"/>
<circle cx="364.8" cy="438.9" r="1.15" fill="#1f5f5a"/>
<circle cx="337.1" cy="473.2" r="1.15" fill="#1f5f5a"/>
<circle cx="353.0" cy="442.0" r="1.15" fill="#1f5f5a"/>
<circle cx="368.2" cy="494.6" r="1.15" fill="#1f5f5a"/>
<circle cx="339.8" cy="487.1" r="1.15" fill="#1f5f5a"/>
<circle cx="340.7" cy="430.1" r="1.15" fill="#1f5f5a"/>
<circle cx="371.3" cy="488.5" r="1.15" fill="#1f5f5a"/>
<circle cx="343.0" cy="433.3" r="1.15" fill="#1f5f5a"/>
<circle cx="359.8" cy="425.5" r="1.15" fill="#1f5f5a"/>
<circle cx="360.2" cy="462.2" r="1.15" fill="#1f5f5a"/>
<circle cx="330.8" cy="444.3" r="1.15" fill="#1f5f5a"/>
<circle cx="355.8" cy="418.0" r="1.15" fill="#1f5f5a"/>
<circle cx="367.6" cy="435.5" r="1.15" fill="#1f5f5a"/>
<circle cx="349.8" cy="418.9" r="1.15" fill="#1f5f5a"/>
<circle cx="373.7" cy="468.0" r="1.15" fill="#1f5f5a"/>
<circle cx="356.0" cy="416.6" r="1.15" fill="#1f5f5a"/>
<circle cx="357.9" cy="448.3" r="1.15" fill="#1f5f5a"/>
<circle cx="341.8" cy="458.8" r="1.15" fill="#1f5f5a"/>
<circle cx="346.7" cy="427.3" r="1.15" fill="#1f5f5a"/>
<circle cx="358.1" cy="465.4" r="1.15" fill="#1f5f5a"/>
<circle cx="337.7" cy="467.9" r="1.15" fill="#1f5f5a"/>
<circle cx="356.4" cy="436.6" r="1.15" fill="#1f5f5a"/>
<circle cx="353.5" cy="426.0" r="1.15" fill="#1f5f5a"/>
<circle cx="365.2" cy="423.4" r="1.15" fill="#1f5f5a"/>
<circle cx="359.4" cy="424.4" r="1.15" fill="#1f5f5a"/>
<circle cx="327.9" cy="423.5" r="1.15" fill="#1f5f5a"/>
<circle cx="332.3" cy="431.0" r="1.15" fill="#1f5f5a"/>
<circle cx="335.7" cy="456.9" r="1.15" fill="#1f5f5a"/>
<circle cx="332.5" cy="471.3" r="1.15" fill="#1f5f5a"/>
<circle cx="337.4" cy="418.2" r="1.15" fill="#1f5f5a"/>
<circle cx="347.8" cy="431.6" r="1.15" fill="#1f5f5a"/>
<circle cx="370.5" cy="441.4" r="1.15" fill="#1f5f5a"/>
<circle cx="322.1" cy="468.7" r="1.15" fill="#1f5f5a"/>
<circle cx="369.2" cy="481.8" r="1.15" fill="#1f5f5a"/>
<circle cx="356.8" cy="426.9" r="1.15" fill="#1f5f5a"/>
<circle cx="326.7" cy="455.9" r="1.15" fill="#1f5f5a"/>
<circle cx="359.6" cy="423.1" r="1.15" fill="#1f5f5a"/>
<circle cx="335.3" cy="433.5" r="1.15" fill="#1f5f5a"/>
<circle cx="373.4" cy="438.7" r="1.15" fill="#1f5f5a"/>
<circle cx="346.1" cy="423.0" r="1.15" fill="#1f5f5a"/>
<circle cx="331.1" cy="418.2" r="1.15" fill="#1f5f5a"/>
<circle cx="337.1" cy="479.1" r="1.15" fill="#1f5f5a"/>
<circle cx="338.3" cy="474.1" r="1.15" fill="#1f5f5a"/>
<circle cx="326.9" cy="475.7" r="1.15" fill="#1f5f5a"/>
<circle cx="324.4" cy="483.2" r="1.15" fill="#1f5f5a"/>
<circle cx="356.5" cy="428.6" r="1.15" fill="#1f5f5a"/>
<circle cx="340.6" cy="450.0" r="1.15" fill="#1f5f5a"/>
<circle cx="354.3" cy="485.3" r="1.15" fill="#1f5f5a"/>
<circle cx="326.8" cy="480.2" r="1.15" fill="#1f5f5a"/>
<circle cx="331.5" cy="447.1" r="1.15" fill="#1f5f5a"/>
<circle cx="372.0" cy="436.7" r="1.15" fill="#1f5f5a"/>
<circle cx="342.1" cy="483.1" r="1.15" fill="#1f5f5a"/>
<circle cx="363.6" cy="466.9" r="1.15" fill="#1f5f5a"/>
<circle cx="363.4" cy="424.0" r="1.15" fill="#1f5f5a"/>
<circle cx="358.2" cy="419.7" r="1.15" fill="#1f5f5a"/>
<circle cx="371.0" cy="427.8" r="1.15" fill="#1f5f5a"/>
<circle cx="343.6" cy="462.3" r="1.15" fill="#1f5f5a"/>
<circle cx="363.7" cy="469.3" r="1.15" fill="#1f5f5a"/>
<circle cx="331.4" cy="445.4" r="1.15" fill="#1f5f5a"/>
<circle cx="340.6" cy="417.3" r="1.15" fill="#1f5f5a"/>
<circle cx="357.6" cy="482.1" r="1.15" fill="#1f5f5a"/>
<circle cx="372.6" cy="425.5" r="1.15" fill="#1f5f5a"/>
<circle cx="369.9" cy="424.0" r="1.15" fill="#1f5f5a"/>
<circle cx="343.4" cy="418.7" r="1.15" fill="#1f5f5a"/>
<circle cx="335.6" cy="440.1" r="1.15" fill="#1f5f5a"/>
<circle cx="358.6" cy="469.2" r="1.15" fill="#1f5f5a"/>
<circle cx="361.9" cy="461.1" r="1.15" fill="#1f5f5a"/>
<circle cx="351.4" cy="493.2" r="1.15" fill="#1f5f5a"/>
<circle cx="356.8" cy="442.1" r="1.15" fill="#1f5f5a"/>
<circle cx="349.2" cy="471.0" r="1.15" fill="#1f5f5a"/>
<circle cx="327.0" cy="467.9" r="1.15" fill="#1f5f5a"/>
<circle cx="334.9" cy="442.7" r="1.15" fill="#1f5f5a"/>
<circle cx="357.2" cy="445.8" r="1.15" fill="#1f5f5a"/>
<circle cx="365.6" cy="459.7" r="1.15" fill="#1f5f5a"/>
<circle cx="373.4" cy="419.4" r="1.15" fill="#1f5f5a"/>
<circle cx="355.5" cy="427.6" r="1.15" fill="#1f5f5a"/>
<circle cx="366.1" cy="483.1" r="1.15" fill="#1f5f5a"/>
<circle cx="367.2" cy="421.0" r="1.15" fill="#1f5f5a"/>
<circle cx="347.6" cy="434.3" r="1.15" fill="#1f5f5a"/>
<circle cx="372.4" cy="419.0" r="1.15" fill="#1f5f5a"/>
<circle cx="306.7" cy="459.3" r="1.15" fill="#1f5f5a"/>
<circle cx="312.1" cy="447.0" r="1.15" fill="#1f5f5a"/>
<circle cx="313.8" cy="464.0" r="1.15" fill="#1f5f5a"/>
<circle cx="313.4" cy="465.7" r="1.15" fill="#1f5f5a"/>
<circle cx="313.4" cy="443.6" r="1.15" fill="#1f5f5a"/>
<circle cx="314.9" cy="459.6" r="1.15" fill="#1f5f5a"/>
<circle cx="303.1" cy="452.4" r="1.15" fill="#1f5f5a"/>
<circle cx="316.7" cy="440.0" r="1.15" fill="#1f5f5a"/>
<circle cx="302.7" cy="458.1" r="1.15" fill="#1f5f5a"/>
<circle cx="318.6" cy="449.1" r="1.15" fill="#1f5f5a"/>
<circle cx="33.3" cy="475.3" r="1.15" fill="#1f5f5a"/>
<circle cx="38.1" cy="512.5" r="1.15" fill="#1f5f5a"/>
<circle cx="28.9" cy="467.7" r="1.15" fill="#1f5f5a"/>
<circle cx="24.7" cy="487.7" r="1.15" fill="#1f5f5a"/>
<circle cx="34.8" cy="496.0" r="1.15" fill="#1f5f5a"/>
<circle cx="32.2" cy="497.9" r="1.15" fill="#1f5f5a"/>
<circle cx="39.5" cy="470.7" r="1.15" fill="#1f5f5a"/>
<circle cx="40.8" cy="476.1" r="1.15" fill="#1f5f5a"/>
<circle cx="28.2" cy="506.5" r="1.15" fill="#1f5f5a"/>
<circle cx="46.9" cy="479.6" r="1.15" fill="#1f5f5a"/>
<circle cx="33.7" cy="500.1" r="1.15" fill="#1f5f5a"/>
<circle cx="19.4" cy="473.2" r="1.15" fill="#1f5f5a"/>
<circle cx="22.2" cy="500.8" r="1.15" fill="#1f5f5a"/>
<circle cx="39.6" cy="470.3" r="1.15" fill="#1f5f5a"/>
<circle cx="36.3" cy="474.4" r="1.15" fill="#1f5f5a"/>
<circle cx="45.9" cy="484.6" r="1.15" fill="#1f5f5a"/>
<circle cx="24.9" cy="546.9" r="1.15" fill="#8a2418"/>
<circle cx="34.5" cy="506.5" r="1.15" fill="#8a2418"/>
<circle cx="23.3" cy="555.6" r="1.15" fill="#8a2418"/>
<circle cx="39.0" cy="535.3" r="1.15" fill="#8a2418"/>
<circle cx="36.6" cy="527.0" r="1.15" fill="#8a2418"/>
<circle cx="32.4" cy="557.4" r="1.15" fill="#8a2418"/>
<circle cx="13.0" cy="529.9" r="1.15" fill="#8a2418"/>
<circle cx="27.6" cy="502.9" r="1.15" fill="#8a2418"/>
<circle cx="42.6" cy="550.3" r="1.15" fill="#8a2418"/>
<circle cx="25.9" cy="530.5" r="1.15" fill="#8a2418"/>
<circle cx="42.1" cy="510.6" r="1.15" fill="#8a2418"/>
<circle cx="29.4" cy="543.8" r="1.15" fill="#8a2418"/>
<circle cx="12.8" cy="523.2" r="1.15" fill="#8a2418"/>
<circle cx="30.2" cy="553.0" r="1.15" fill="#8a2418"/>
<circle cx="26.7" cy="523.1" r="1.15" fill="#8a2418"/>
<circle cx="44.2" cy="555.0" r="1.15" fill="#8a2418"/>
<circle cx="36.2" cy="516.4" r="1.15" fill="#8a2418"/>
<circle cx="43.7" cy="558.2" r="1.15" fill="#8a2418"/>
<circle cx="24.8" cy="508.0" r="1.15" fill="#8a2418"/>
<circle cx="23.3" cy="542.0" r="1.15" fill="#8a2418"/>
<circle cx="35.7" cy="517.9" r="1.15" fill="#8a2418"/>
<circle cx="34.0" cy="551.6" r="1.15" fill="#8a2418"/>
<circle cx="34.3" cy="556.1" r="1.15" fill="#8a2418"/>
<circle cx="31.4" cy="512.1" r="1.15" fill="#8a2418"/>
<circle cx="31.1" cy="517.4" r="1.15" fill="#8a2418"/>
<circle cx="20.8" cy="540.3" r="1.15" fill="#8a2418"/>
<circle cx="44.3" cy="539.0" r="1.15" fill="#8a2418"/>
<circle cx="43.5" cy="530.2" r="1.15" fill="#8a2418"/>
<circle cx="42.7" cy="585.8" r="1.15" fill="#8a2418"/>
<circle cx="13.8" cy="588.2" r="1.15" fill="#8a2418"/>
<circle cx="32.0" cy="605.7" r="1.15" fill="#8a2418"/>
<circle cx="41.4" cy="593.4" r="1.15" fill="#8a2418"/>
<circle cx="45.4" cy="627.3" r="1.15" fill="#8a2418"/>
<circle cx="22.3" cy="627.8" r="1.15" fill="#8a2418"/>
<circle cx="48.4" cy="601.8" r="1.15" fill="#8a2418"/>
<circle cx="9.3" cy="571.6" r="1.15" fill="#8a2418"/>
<circle cx="41.5" cy="576.0" r="1.15" fill="#8a2418"/>
<circle cx="45.5" cy="572.9" r="1.15" fill="#8a2418"/>
<circle cx="22.3" cy="580.0" r="1.15" fill="#8a2418"/>
<circle cx="50.0" cy="615.2" r="1.15" fill="#8a2418"/>
<circle cx="22.8" cy="620.3" r="1.15" fill="#8a2418"/>
<circle cx="9.6" cy="625.1" r="1.15" fill="#8a2418"/>
<circle cx="13.1" cy="629.4" r="1.15" fill="#8a2418"/>
<circle cx="45.0" cy="629.2" r="1.15" fill="#8a2418"/>
<circle cx="45.1" cy="604.9" r="1.15" fill="#8a2418"/>
<circle cx="19.9" cy="622.7" r="1.15" fill="#8a2418"/>
<circle cx="47.9" cy="583.0" r="1.15" fill="#8a2418"/>
<circle cx="41.2" cy="634.1" r="1.15" fill="#8a2418"/>
<circle cx="27.4" cy="636.5" r="1.15" fill="#8a2418"/>
<circle cx="56.8" cy="585.0" r="1.15" fill="#8a2418"/>
<circle cx="35.6" cy="561.0" r="1.15" fill="#8a2418"/>
<circle cx="20.6" cy="609.6" r="1.15" fill="#8a2418"/>
<circle cx="47.0" cy="629.6" r="1.15" fill="#8a2418"/>
<circle cx="49.5" cy="632.9" r="1.15" fill="#8a2418"/>
<circle cx="43.2" cy="611.8" r="1.15" fill="#8a2418"/>
<circle cx="45.8" cy="603.7" r="1.15" fill="#8a2418"/>
<circle cx="38.2" cy="622.1" r="1.15" fill="#8a2418"/>
<circle cx="56.2" cy="583.5" r="1.15" fill="#8a2418"/>
<circle cx="16.9" cy="614.6" r="1.15" fill="#8a2418"/>
<circle cx="17.3" cy="573.9" r="1.15" fill="#8a2418"/>
<circle cx="33.7" cy="590.2" r="1.15" fill="#8a2418"/>
<circle cx="29.4" cy="604.5" r="1.15" fill="#8a2418"/>
<circle cx="14.5" cy="606.7" r="1.15" fill="#8a2418"/>
<circle cx="20.8" cy="586.4" r="1.15" fill="#8a2418"/>
<circle cx="43.5" cy="572.4" r="1.15" fill="#8a2418"/>
<circle cx="15.7" cy="585.8" r="1.15" fill="#8a2418"/>
<circle cx="10.5" cy="634.6" r="1.15" fill="#8a2418"/>
<circle cx="38.8" cy="613.0" r="1.15" fill="#8a2418"/>
<circle cx="32.5" cy="605.8" r="1.15" fill="#8a2418"/>
<circle cx="25.9" cy="622.7" r="1.15" fill="#8a2418"/>
<circle cx="23.9" cy="577.6" r="1.15" fill="#8a2418"/>
<circle cx="17.2" cy="565.5" r="1.15" fill="#8a2418"/>
<circle cx="33.3" cy="593.3" r="1.15" fill="#8a2418"/>
<circle cx="34.9" cy="567.4" r="1.15" fill="#8a2418"/>
<circle cx="19.1" cy="577.1" r="1.15" fill="#8a2418"/>
<circle cx="24.6" cy="588.9" r="1.15" fill="#8a2418"/>
<circle cx="18.9" cy="620.2" r="1.15" fill="#8a2418"/>
<circle cx="34.5" cy="639.7" r="1.15" fill="#8a2418"/>
<circle cx="49.2" cy="638.5" r="1.15" fill="#8a2418"/>
<circle cx="8.4" cy="613.5" r="1.15" fill="#8a2418"/>
<circle cx="30.3" cy="632.4" r="1.15" fill="#8a2418"/>
<circle cx="38.7" cy="609.7" r="1.15" fill="#8a2418"/>
<circle cx="55.9" cy="614.6" r="1.15" fill="#8a2418"/>
<circle cx="24.0" cy="633.3" r="1.15" fill="#8a2418"/>
<circle cx="55.2" cy="590.9" r="1.15" fill="#8a2418"/>
<circle cx="35.0" cy="582.6" r="1.15" fill="#8a2418"/>
<circle cx="53.6" cy="625.8" r="1.15" fill="#8a2418"/>
<circle cx="26.7" cy="624.2" r="1.15" fill="#8a2418"/>
<circle cx="30.3" cy="563.5" r="1.15" fill="#8a2418"/>
<circle cx="52.9" cy="575.4" r="1.15" fill="#8a2418"/>
<circle cx="33.7" cy="635.9" r="1.15" fill="#8a2418"/>
<circle cx="16.4" cy="636.5" r="1.15" fill="#8a2418"/>
<circle cx="34.9" cy="560.6" r="1.15" fill="#8a2418"/>
<circle cx="11.3" cy="613.6" r="1.15" fill="#8a2418"/>
<circle cx="46.7" cy="629.2" r="1.15" fill="#8a2418"/>
<circle cx="29.2" cy="568.3" r="1.15" fill="#8a2418"/>
<circle cx="34.9" cy="616.2" r="1.15" fill="#8a2418"/>
<circle cx="56.8" cy="622.0" r="1.15" fill="#8a2418"/>
<circle cx="49.3" cy="686.1" r="1.15" fill="#8a2418"/>
<circle cx="54.6" cy="635.0" r="1.15" fill="#8a2418"/>
<circle cx="39.3" cy="646.6" r="1.15" fill="#8a2418"/>
<circle cx="19.6" cy="628.5" r="1.15" fill="#8a2418"/>
<circle cx="57.1" cy="661.3" r="1.15" fill="#8a2418"/>
<circle cx="45.5" cy="639.8" r="1.15" fill="#8a2418"/>
<circle cx="28.7" cy="650.2" r="1.15" fill="#8a2418"/>
<circle cx="48.4" cy="653.1" r="1.15" fill="#8a2418"/>
<circle cx="15.9" cy="668.8" r="1.15" fill="#8a2418"/>
<circle cx="43.3" cy="666.7" r="1.15" fill="#8a2418"/>
<circle cx="47.8" cy="674.1" r="1.15" fill="#8a2418"/>
<circle cx="46.0" cy="670.6" r="1.15" fill="#8a2418"/>
<circle cx="18.8" cy="685.3" r="1.15" fill="#8a2418"/>
<circle cx="20.6" cy="676.1" r="1.15" fill="#8a2418"/>
<circle cx="31.0" cy="630.6" r="1.15" fill="#8a2418"/>
<circle cx="55.6" cy="653.4" r="1.15" fill="#8a2418"/>
<circle cx="35.9" cy="667.9" r="1.15" fill="#8a2418"/>
<circle cx="40.1" cy="659.7" r="1.15" fill="#8a2418"/>
<circle cx="22.2" cy="650.4" r="1.15" fill="#8a2418"/>
<circle cx="57.3" cy="660.5" r="1.15" fill="#8a2418"/>
<circle cx="65.9" cy="634.4" r="1.15" fill="#8a2418"/>
<circle cx="50.9" cy="684.4" r="1.15" fill="#8a2418"/>
<circle cx="57.1" cy="672.4" r="1.15" fill="#8a2418"/>
<circle cx="34.8" cy="686.7" r="1.15" fill="#8a2418"/>
<circle cx="44.3" cy="661.1" r="1.15" fill="#8a2418"/>
<circle cx="21.5" cy="625.3" r="1.15" fill="#8a2418"/>
<circle cx="46.6" cy="659.9" r="1.15" fill="#8a2418"/>
<circle cx="65.2" cy="644.8" r="1.15" fill="#8a2418"/>
<circle cx="54.7" cy="683.7" r="1.15" fill="#8a2418"/>
<circle cx="33.2" cy="651.8" r="1.15" fill="#8a2418"/>
<circle cx="49.2" cy="658.3" r="1.15" fill="#8a2418"/>
<circle cx="23.5" cy="639.4" r="1.15" fill="#8a2418"/>
<circle cx="59.2" cy="637.6" r="1.15" fill="#8a2418"/>
<circle cx="24.6" cy="677.0" r="1.15" fill="#8a2418"/>
<circle cx="60.2" cy="680.3" r="1.15" fill="#8a2418"/>
<circle cx="64.4" cy="689.6" r="1.15" fill="#8a2418"/>
<circle cx="39.4" cy="660.7" r="1.15" fill="#8a2418"/>
<circle cx="30.4" cy="629.4" r="1.15" fill="#8a2418"/>
<circle cx="20.2" cy="672.2" r="1.15" fill="#8a2418"/>
<circle cx="40.8" cy="646.5" r="1.15" fill="#8a2418"/>
<circle cx="21.8" cy="667.6" r="1.15" fill="#8a2418"/>
<circle cx="20.3" cy="665.3" r="1.15" fill="#8a2418"/>
<circle cx="62.7" cy="645.7" r="1.15" fill="#8a2418"/>
<circle cx="38.9" cy="665.1" r="1.15" fill="#8a2418"/>
<circle cx="31.2" cy="663.0" r="1.15" fill="#8a2418"/>
<circle cx="87.1" cy="648.7" r="1.15" fill="#8a2418"/>
<circle cx="75.2" cy="652.8" r="1.15" fill="#8a2418"/>
<circle cx="60.2" cy="641.0" r="1.15" fill="#8a2418"/>
<circle cx="70.6" cy="673.1" r="1.15" fill="#8a2418"/>
<circle cx="80.9" cy="679.6" r="1.15" fill="#8a2418"/>
<circle cx="66.4" cy="672.6" r="1.15" fill="#8a2418"/>
<circle cx="102.1" cy="655.1" r="1.15" fill="#8a2418"/>
<circle cx="77.2" cy="644.9" r="1.15" fill="#8a2418"/>
<circle cx="86.5" cy="636.4" r="1.15" fill="#8a2418"/>
<circle cx="89.1" cy="679.7" r="1.15" fill="#8a2418"/>
<circle cx="101.2" cy="634.1" r="1.15" fill="#8a2418"/>
<circle cx="85.9" cy="642.1" r="1.15" fill="#8a2418"/>
<circle cx="102.5" cy="630.0" r="1.15" fill="#8a2418"/>
<circle cx="63.6" cy="626.2" r="1.15" fill="#8a2418"/>
<circle cx="84.3" cy="627.0" r="1.15" fill="#8a2418"/>
<circle cx="87.9" cy="651.3" r="1.15" fill="#8a2418"/>
<circle cx="88.3" cy="683.9" r="1.15" fill="#8a2418"/>
<circle cx="86.5" cy="660.3" r="1.15" fill="#8a2418"/>
<circle cx="107.9" cy="655.7" r="1.15" fill="#8a2418"/>
<circle cx="97.2" cy="648.8" r="1.15" fill="#8a2418"/>
<circle cx="70.7" cy="675.2" r="1.15" fill="#8a2418"/>
<circle cx="95.2" cy="643.9" r="1.15" fill="#8a2418"/>
<circle cx="82.3" cy="658.2" r="1.15" fill="#8a2418"/>
<circle cx="79.0" cy="657.6" r="1.15" fill="#8a2418"/>
<circle cx="91.8" cy="680.1" r="1.15" fill="#8a2418"/>
<circle cx="98.7" cy="664.9" r="1.15" fill="#8a2418"/>
<circle cx="68.0" cy="658.4" r="1.15" fill="#8a2418"/>
<circle cx="81.4" cy="636.6" r="1.15" fill="#8a2418"/>
<circle cx="105.5" cy="667.9" r="1.15" fill="#8a2418"/>
<circle cx="106.5" cy="672.8" r="1.15" fill="#8a2418"/>
<circle cx="83.2" cy="648.3" r="1.15" fill="#8a2418"/>
<circle cx="70.5" cy="656.7" r="1.15" fill="#8a2418"/>
<circle cx="99.1" cy="667.9" r="1.15" fill="#8a2418"/>
<circle cx="97.8" cy="662.2" r="1.15" fill="#8a2418"/>
<circle cx="154.0" cy="667.6" r="1.15" fill="#8a2418"/>
<circle cx="125.5" cy="670.9" r="1.15" fill="#8a2418"/>
<circle cx="98.0" cy="689.3" r="1.15" fill="#8a2418"/>
<circle cx="116.1" cy="679.6" r="1.15" fill="#8a2418"/>
<circle cx="128.9" cy="684.0" r="1.15" fill="#8a2418"/>
<circle cx="149.3" cy="664.2" r="1.15" fill="#8a2418"/>
<circle cx="130.4" cy="661.1" r="1.15" fill="#8a2418"/>
<circle cx="137.5" cy="667.8" r="1.15" fill="#8a2418"/>
<circle cx="137.5" cy="684.2" r="1.15" fill="#8a2418"/>
<circle cx="128.6" cy="668.2" r="1.15" fill="#8a2418"/>
<circle cx="154.0" cy="673.1" r="1.15" fill="#8a2418"/>
<circle cx="117.9" cy="685.4" r="1.15" fill="#8a2418"/>
<circle cx="126.6" cy="671.9" r="1.15" fill="#8a2418"/>
<circle cx="134.3" cy="672.6" r="1.15" fill="#8a2418"/>
<circle cx="104.0" cy="660.8" r="1.15" fill="#8a2418"/>
<circle cx="100.0" cy="677.5" r="1.15" fill="#8a2418"/>
<circle cx="108.7" cy="661.5" r="1.15" fill="#8a2418"/>
<circle cx="118.5" cy="680.1" r="1.15" fill="#8a2418"/>
<circle cx="102.7" cy="663.1" r="1.15" fill="#8a2418"/>
<circle cx="147.7" cy="680.2" r="1.15" fill="#8a2418"/>
<circle cx="126.3" cy="671.8" r="1.15" fill="#8a2418"/>
<circle cx="108.7" cy="660.6" r="1.15" fill="#8a2418"/>
<circle cx="149.2" cy="655.8" r="1.15" fill="#8a2418"/>
<circle cx="97.8" cy="675.1" r="1.15" fill="#8a2418"/>
<circle cx="105.5" cy="677.0" r="1.15" fill="#8a2418"/>
<circle cx="97.5" cy="675.0" r="1.15" fill="#8a2418"/>
<circle cx="98.6" cy="664.0" r="1.15" fill="#8a2418"/>
<circle cx="106.7" cy="688.5" r="1.15" fill="#8a2418"/>
<circle cx="134.0" cy="674.7" r="1.15" fill="#8a2418"/>
<circle cx="96.2" cy="680.2" r="1.15" fill="#8a2418"/>
<circle cx="235.7" cy="668.5" r="1.15" fill="#1f5f5a"/>
<circle cx="197.7" cy="673.5" r="1.15" fill="#1f5f5a"/>
<circle cx="257.5" cy="686.0" r="1.15" fill="#1f5f5a"/>
<circle cx="203.3" cy="684.9" r="1.15" fill="#1f5f5a"/>
<circle cx="231.7" cy="683.8" r="1.15" fill="#1f5f5a"/>
<circle cx="246.1" cy="665.5" r="1.15" fill="#1f5f5a"/>
<circle cx="235.5" cy="667.9" r="1.15" fill="#1f5f5a"/>
<circle cx="239.8" cy="670.3" r="1.15" fill="#1f5f5a"/>
<circle cx="221.9" cy="677.7" r="1.15" fill="#1f5f5a"/>
<circle cx="207.2" cy="671.6" r="1.15" fill="#1f5f5a"/>
<circle cx="199.2" cy="666.1" r="1.15" fill="#1f5f5a"/>
<circle cx="248.7" cy="675.1" r="1.15" fill="#1f5f5a"/>
<circle cx="219.7" cy="664.5" r="1.15" fill="#1f5f5a"/>
<circle cx="198.4" cy="674.3" r="1.15" fill="#1f5f5a"/>
<circle cx="232.6" cy="661.2" r="1.15" fill="#1f5f5a"/>
<circle cx="243.7" cy="675.1" r="1.15" fill="#1f5f5a"/>
<circle cx="199.8" cy="674.5" r="1.15" fill="#1f5f5a"/>
<circle cx="200.6" cy="678.1" r="1.15" fill="#1f5f5a"/>
<circle cx="246.6" cy="686.9" r="1.15" fill="#1f5f5a"/>
<circle cx="243.1" cy="679.5" r="1.15" fill="#1f5f5a"/>
<circle cx="226.5" cy="671.1" r="1.15" fill="#1f5f5a"/>
<circle cx="194.9" cy="675.9" r="1.15" fill="#1f5f5a"/>
<circle cx="207.1" cy="684.1" r="1.15" fill="#1f5f5a"/>
<circle cx="244.1" cy="671.4" r="1.15" fill="#1f5f5a"/>
<circle cx="230.9" cy="682.2" r="1.15" fill="#1f5f5a"/>
<circle cx="242.3" cy="680.9" r="1.15" fill="#1f5f5a"/>
<circle cx="198.4" cy="664.0" r="1.15" fill="#1f5f5a"/>
<circle cx="223.5" cy="667.0" r="1.15" fill="#1f5f5a"/>
<circle cx="248.7" cy="668.5" r="1.15" fill="#1f5f5a"/>
<circle cx="249.9" cy="672.3" r="1.15" fill="#1f5f5a"/>
<circle cx="318.4" cy="618.0" r="1.15" fill="#1f5f5a"/>
<circle cx="361.0" cy="603.6" r="1.15" fill="#1f5f5a"/>
<circle cx="313.4" cy="540.8" r="1.15" fill="#1f5f5a"/>
<circle cx="351.5" cy="615.7" r="1.15" fill="#1f5f5a"/>
<circle cx="327.4" cy="579.8" r="1.15" fill="#1f5f5a"/>
<circle cx="316.0" cy="611.7" r="1.15" fill="#1f5f5a"/>
<circle cx="323.0" cy="634.0" r="1.15" fill="#1f5f5a"/>
<circle cx="335.1" cy="580.2" r="1.15" fill="#1f5f5a"/>
<circle cx="324.6" cy="614.9" r="1.15" fill="#1f5f5a"/>
<circle cx="358.6" cy="585.5" r="1.15" fill="#1f5f5a"/>
<circle cx="360.6" cy="593.1" r="1.15" fill="#1f5f5a"/>
<circle cx="331.3" cy="601.0" r="1.15" fill="#1f5f5a"/>
<circle cx="323.0" cy="573.7" r="1.15" fill="#1f5f5a"/>
<circle cx="329.4" cy="617.6" r="1.15" fill="#1f5f5a"/>
<circle cx="357.2" cy="634.0" r="1.15" fill="#1f5f5a"/>
<circle cx="351.8" cy="622.3" r="1.15" fill="#1f5f5a"/>
<circle cx="336.7" cy="616.9" r="1.15" fill="#1f5f5a"/>
<circle cx="316.5" cy="563.6" r="1.15" fill="#1f5f5a"/>
<circle cx="333.4" cy="577.2" r="1.15" fill="#1f5f5a"/>
<circle cx="344.1" cy="616.7" r="1.15" fill="#1f5f5a"/>
<circle cx="355.2" cy="557.7" r="1.15" fill="#1f5f5a"/>
<circle cx="373.5" cy="540.6" r="1.15" fill="#1f5f5a"/>
<circle cx="311.5" cy="556.0" r="1.15" fill="#1f5f5a"/>
<circle cx="370.7" cy="587.9" r="1.15" fill="#1f5f5a"/>
<circle cx="309.5" cy="564.4" r="1.15" fill="#1f5f5a"/>
<circle cx="310.7" cy="544.2" r="1.15" fill="#1f5f5a"/>
<circle cx="332.3" cy="648.3" r="1.15" fill="#1f5f5a"/>
<circle cx="348.6" cy="597.3" r="1.15" fill="#1f5f5a"/>
<circle cx="355.5" cy="605.7" r="1.15" fill="#1f5f5a"/>
<circle cx="372.1" cy="630.2" r="1.15" fill="#1f5f5a"/>
<circle cx="350.5" cy="588.3" r="1.15" fill="#1f5f5a"/>
<circle cx="319.3" cy="612.3" r="1.15" fill="#1f5f5a"/>
<circle cx="362.1" cy="571.5" r="1.15" fill="#1f5f5a"/>
<circle cx="307.4" cy="605.9" r="1.15" fill="#1f5f5a"/>
<circle cx="341.6" cy="565.5" r="1.15" fill="#1f5f5a"/>
<circle cx="317.0" cy="544.0" r="1.15" fill="#1f5f5a"/>
<circle cx="322.0" cy="540.0" r="1.15" fill="#1f5f5a"/>
<circle cx="316.2" cy="649.6" r="1.15" fill="#1f5f5a"/>
<circle cx="360.4" cy="578.8" r="1.15" fill="#1f5f5a"/>
<circle cx="333.1" cy="604.5" r="1.15" fill="#1f5f5a"/>
<circle cx="341.8" cy="621.1" r="1.15" fill="#1f5f5a"/>
<circle cx="309.9" cy="549.9" r="1.15" fill="#1f5f5a"/>
<circle cx="325.2" cy="631.3" r="1.15" fill="#1f5f5a"/>
<circle cx="370.0" cy="578.3" r="1.15" fill="#1f5f5a"/>
<circle cx="373.4" cy="570.4" r="1.15" fill="#1f5f5a"/>
<circle cx="348.1" cy="561.4" r="1.15" fill="#1f5f5a"/>
<circle cx="371.0" cy="603.2" r="1.15" fill="#1f5f5a"/>
<circle cx="323.5" cy="584.8" r="1.15" fill="#1f5f5a"/>
<circle cx="312.6" cy="548.0" r="1.15" fill="#1f5f5a"/>
<circle cx="325.9" cy="644.2" r="1.15" fill="#1f5f5a"/>
<circle cx="362.0" cy="645.2" r="1.15" fill="#1f5f5a"/>
<circle cx="367.2" cy="629.4" r="1.15" fill="#1f5f5a"/>
<circle cx="345.8" cy="616.4" r="1.15" fill="#1f5f5a"/>
<circle cx="373.6" cy="601.9" r="1.15" fill="#1f5f5a"/>
<circle cx="359.7" cy="623.3" r="1.15" fill="#1f5f5a"/>
<circle cx="373.2" cy="590.5" r="1.15" fill="#1f5f5a"/>
<circle cx="337.7" cy="604.6" r="1.15" fill="#1f5f5a"/>
<circle cx="306.9" cy="552.8" r="1.15" fill="#1f5f5a"/>
<circle cx="309.8" cy="609.7" r="1.15" fill="#1f5f5a"/>
<circle cx="375.6" cy="614.5" r="1.15" fill="#1f5f5a"/>
<circle cx="321.3" cy="574.7" r="1.15" fill="#1f5f5a"/>
<circle cx="372.8" cy="596.8" r="1.15" fill="#1f5f5a"/>
<circle cx="305.7" cy="631.5" r="1.15" fill="#1f5f5a"/>
<circle cx="322.6" cy="550.2" r="1.15" fill="#1f5f5a"/>
<circle cx="352.8" cy="630.3" r="1.15" fill="#1f5f5a"/>
<circle cx="310.4" cy="642.5" r="1.15" fill="#1f5f5a"/>
<circle cx="338.8" cy="578.9" r="1.15" fill="#1f5f5a"/>
<circle cx="368.5" cy="569.6" r="1.15" fill="#1f5f5a"/>
<circle cx="372.2" cy="615.1" r="1.15" fill="#1f5f5a"/>
<circle cx="369.6" cy="594.9" r="1.15" fill="#1f5f5a"/>
<circle cx="319.2" cy="620.9" r="1.15" fill="#1f5f5a"/>
<circle cx="367.0" cy="562.7" r="1.15" fill="#1f5f5a"/>
<circle cx="319.4" cy="567.5" r="1.15" fill="#1f5f5a"/>
<circle cx="348.9" cy="557.2" r="1.15" fill="#1f5f5a"/>
<circle cx="312.6" cy="641.2" r="1.15" fill="#1f5f5a"/>
<circle cx="353.0" cy="613.0" r="1.15" fill="#1f5f5a"/>
<circle cx="348.6" cy="624.1" r="1.15" fill="#1f5f5a"/>
<circle cx="343.4" cy="544.6" r="1.15" fill="#1f5f5a"/>
<circle cx="339.2" cy="608.3" r="1.15" fill="#1f5f5a"/>
<circle cx="340.0" cy="648.4" r="1.15" fill="#1f5f5a"/>
<circle cx="368.7" cy="635.6" r="1.15" fill="#1f5f5a"/>
<circle cx="339.8" cy="648.3" r="1.15" fill="#1f5f5a"/>
<circle cx="370.0" cy="570.8" r="1.15" fill="#1f5f5a"/>
<circle cx="320.8" cy="603.4" r="1.15" fill="#1f5f5a"/>
<circle cx="308.8" cy="627.9" r="1.15" fill="#1f5f5a"/>
<circle cx="339.0" cy="599.5" r="1.15" fill="#1f5f5a"/>
<circle cx="340.7" cy="583.3" r="1.15" fill="#1f5f5a"/>
<circle cx="353.7" cy="559.2" r="1.15" fill="#1f5f5a"/>
<circle cx="374.3" cy="616.8" r="1.15" fill="#1f5f5a"/>
<circle cx="337.7" cy="615.8" r="1.15" fill="#1f5f5a"/>
<circle cx="305.8" cy="563.2" r="1.15" fill="#1f5f5a"/>
<circle cx="346.3" cy="575.8" r="1.15" fill="#1f5f5a"/>
<circle cx="348.5" cy="568.6" r="1.15" fill="#1f5f5a"/>
<circle cx="343.9" cy="566.1" r="1.15" fill="#1f5f5a"/>
<circle cx="338.5" cy="607.4" r="1.15" fill="#1f5f5a"/>
<circle cx="271.5" cy="660.0" r="1.15" fill="#1f5f5a"/>
<circle cx="264.5" cy="663.2" r="1.15" fill="#1f5f5a"/>
<circle cx="271.8" cy="665.7" r="1.15" fill="#1f5f5a"/>
<circle cx="267.6" cy="654.9" r="1.15" fill="#1f5f5a"/>
<circle cx="260.9" cy="661.2" r="1.15" fill="#1f5f5a"/>
<circle cx="265.3" cy="653.6" r="1.15" fill="#1f5f5a"/>
<circle cx="267.1" cy="655.8" r="1.15" fill="#1f5f5a"/>
<circle cx="274.4" cy="658.1" r="1.15" fill="#1f5f5a"/>
<circle cx="261.6" cy="667.3" r="1.15" fill="#1f5f5a"/>
<circle cx="261.7" cy="664.9" r="1.15" fill="#1f5f5a"/>
<circle cx="116.5" cy="411.5" r="3.6" fill="#c8303c" stroke="#1a302e" stroke-width="0.35"/>
<circle cx="128.4" cy="430.3" r="3.6" fill="#428c86" stroke="#1a302e" stroke-width="0.35"/>
<circle cx="140.4" cy="425.7" r="3.6" fill="#d04046" stroke="#1a302e" stroke-width="0.35"/>
<circle cx="124.4" cy="412.6" r="3.6" fill="#4d968f" stroke="#1a302e" stroke-width="0.35"/>
<circle cx="121.5" cy="417.8" r="3.6" fill="#8c1a2c" stroke="#1a302e" stroke-width="0.35"/>
<circle cx="129.0" cy="419.2" r="3.6" fill="#5a9e96" stroke="#1a302e" stroke-width="0.35"/>
<circle cx="135.7" cy="430.4" r="3.6" fill="#529189" stroke="#1a302e" stroke-width="0.35"/>
<circle cx="135.0" cy="419.2" r="3.6" fill="#3a847e" stroke="#1a302e" stroke-width="0.35"/>
<circle cx="144.1" cy="418.1" r="3.6" fill="#529189" stroke="#1a302e" stroke-width="0.35"/>
<circle cx="176.2" cy="429.2" r="3.6" fill="#5a9e96" stroke="#1a302e" stroke-width="0.35"/>
<circle cx="180.7" cy="397.2" r="3.6" fill="#a81e30" stroke="#1a302e" stroke-width="0.35"/>
<circle cx="192.3" cy="415.3" r="3.6" fill="#5a9e96" stroke="#1a302e" stroke-width="0.35"/>
<circle cx="195.7" cy="421.1" r="3.6" fill="#5a9e96" stroke="#1a302e" stroke-width="0.35"/>
<circle cx="178.3" cy="414.3" r="3.6" fill="#529189" stroke="#1a302e" stroke-width="0.35"/>
<circle cx="170.1" cy="427.5" r="3.6" fill="#d04046" stroke="#1a302e" stroke-width="0.35"/>
<circle cx="184.6" cy="428.1" r="3.6" fill="#3a847e" stroke="#1a302e" stroke-width="0.35"/>
<circle cx="193.7" cy="401.5" r="3.6" fill="#428c86" stroke="#1a302e" stroke-width="0.35"/>
<circle cx="168.2" cy="408.4" r="3.6" fill="#3f8a84" stroke="#1a302e" stroke-width="0.35"/>
<circle cx="166.1" cy="396.2" r="3.6" fill="#3a847e" stroke="#1a302e" stroke-width="0.35"/>
<circle cx="203.9" cy="407.7" r="3.6" fill="#3f8a84" stroke="#1a302e" stroke-width="0.35"/>
<circle cx="165.5" cy="422.9" r="3.6" fill="#3f8a84" stroke="#1a302e" stroke-width="0.35"/>
<circle cx="197.0" cy="407.7" r="3.6" fill="#3f8a84" stroke="#1a302e" stroke-width="0.35"/>
<circle cx="175.0" cy="395.8" r="3.6" fill="#4d968f" stroke="#1a302e" stroke-width="0.35"/>
<circle cx="186.4" cy="416.0" r="3.6" fill="#428c86" stroke="#1a302e" stroke-width="0.35"/>
<circle cx="202.2" cy="420.7" r="3.6" fill="#4d968f" stroke="#1a302e" stroke-width="0.35"/>
<circle cx="200.7" cy="414.8" r="3.6" fill="#3f8a84" stroke="#1a302e" stroke-width="0.35"/>
<circle cx="186.0" cy="401.9" r="3.6" fill="#3f8a84" stroke="#1a302e" stroke-width="0.35"/>
<circle cx="203.9" cy="396.7" r="3.6" fill="#428c86" stroke="#1a302e" stroke-width="0.35"/>
<circle cx="107.8" cy="454.9" r="3.6" fill="#a81e30" stroke="#1a302e" stroke-width="0.35"/>
<circle cx="104.4" cy="448.2" r="3.6" fill="#c8303c" stroke="#1a302e" stroke-width="0.35"/>
<circle cx="115.1" cy="467.9" r="3.6" fill="#3a847e" stroke="#1a302e" stroke-width="0.35"/>
<circle cx="113.4" cy="456.0" r="3.6" fill="#123f3b" stroke="#1a302e" stroke-width="0.35"/>
<circle cx="92.2" cy="466.9" r="3.6" fill="#0d2b28" stroke="#1a302e" stroke-width="0.35"/>
<circle cx="107.0" cy="468.7" r="3.6" fill="#123f3b" stroke="#1a302e" stroke-width="0.35"/>
<circle cx="100.5" cy="456.2" r="3.6" fill="#529189" stroke="#1a302e" stroke-width="0.35"/>
<circle cx="96.0" cy="460.7" r="3.6" fill="#428c86" stroke="#1a302e" stroke-width="0.35"/>
<circle cx="100.8" cy="468.4" r="3.6" fill="#a81e30" stroke="#1a302e" stroke-width="0.35"/>
<circle cx="90.6" cy="460.8" r="3.6" fill="#5a9e96" stroke="#1a302e" stroke-width="0.35"/>
<circle cx="111.0" cy="449.2" r="3.6" fill="#4d968f" stroke="#1a302e" stroke-width="0.35"/>
<circle cx="144.8" cy="450.5" r="3.6" fill="#c8303c" stroke="#1a302e" stroke-width="0.35"/>
<circle cx="166.6" cy="463.9" r="3.6" fill="#17504b" stroke="#1a302e" stroke-width="0.35"/>
<circle cx="156.7" cy="444.0" r="3.6" fill="#529189" stroke="#1a302e" stroke-width="0.35"/>
<circle cx="141.6" cy="470.0" r="3.6" fill="#428c86" stroke="#1a302e" stroke-width="0.35"/>
<circle cx="158.5" cy="457.6" r="3.6" fill="#428c86" stroke="#1a302e" stroke-width="0.35"/>
<circle cx="149.9" cy="458.4" r="3.6" fill="#5a9e96" stroke="#1a302e" stroke-width="0.35"/>
<circle cx="167.7" cy="450.1" r="3.6" fill="#3f8a84" stroke="#1a302e" stroke-width="0.35"/>
<circle cx="165.3" cy="456.4" r="3.6" fill="#5a9e96" stroke="#1a302e" stroke-width="0.35"/>
<circle cx="151.8" cy="464.1" r="3.6" fill="#529189" stroke="#1a302e" stroke-width="0.35"/>
<circle cx="149.8" cy="470.2" r="3.6" fill="#d04046" stroke="#1a302e" stroke-width="0.35"/>
<circle cx="145.6" cy="463.8" r="3.6" fill="#d04046" stroke="#1a302e" stroke-width="0.35"/>
<circle cx="159.7" cy="464.3" r="3.6" fill="#d04046" stroke="#1a302e" stroke-width="0.35"/>
<circle cx="246.3" cy="439.9" r="3.6" fill="#5a9e96" stroke="#1a302e" stroke-width="0.35"/>
<circle cx="232.1" cy="441.3" r="3.6" fill="#3a847e" stroke="#1a302e" stroke-width="0.35"/>
<circle cx="248.9" cy="446.3" r="3.6" fill="#d04046" stroke="#1a302e" stroke-width="0.35"/>
<circle cx="238.4" cy="441.2" r="3.6" fill="#d04046" stroke="#1a302e" stroke-width="0.35"/>
<circle cx="244.4" cy="454.3" r="3.6" fill="#c8303c" stroke="#1a302e" stroke-width="0.35"/>
<circle cx="307.9" cy="427.5" r="3.6" fill="#529189" stroke="#1a302e" stroke-width="0.35"/>
<circle cx="306.3" cy="420.1" r="3.6" fill="#4d968f" stroke="#1a302e" stroke-width="0.35"/>
<circle cx="290.4" cy="407.4" r="3.6" fill="#3a847e" stroke="#1a302e" stroke-width="0.35"/>
<circle cx="293.6" cy="413.6" r="3.6" fill="#3f8a84" stroke="#1a302e" stroke-width="0.35"/>
<circle cx="299.6" cy="426.3" r="3.6" fill="#428c86" stroke="#1a302e" stroke-width="0.35"/>
<circle cx="275.2" cy="407.6" r="3.6" fill="#123f3b" stroke="#1a302e" stroke-width="0.35"/>
<circle cx="294.0" cy="427.0" r="3.6" fill="#4d968f" stroke="#1a302e" stroke-width="0.35"/>
<circle cx="274.8" cy="434.2" r="3.6" fill="#529189" stroke="#1a302e" stroke-width="0.35"/>
<circle cx="298.3" cy="407.4" r="3.6" fill="#3a847e" stroke="#1a302e" stroke-width="0.35"/>
<circle cx="313.4" cy="420.2" r="3.6" fill="#428c86" stroke="#1a302e" stroke-width="0.35"/>
<circle cx="267.7" cy="420.2" r="3.6" fill="#529189" stroke="#1a302e" stroke-width="0.35"/>
<circle cx="306.7" cy="407.3" r="3.6" fill="#d04046" stroke="#1a302e" stroke-width="0.35"/>
<circle cx="277.4" cy="413.1" r="3.6" fill="#428c86" stroke="#1a302e" stroke-width="0.35"/>
<circle cx="290.5" cy="421.7" r="3.6" fill="#5a9e96" stroke="#1a302e" stroke-width="0.35"/>
<circle cx="314.3" cy="407.6" r="3.6" fill="#3a847e" stroke="#1a302e" stroke-width="0.35"/>
<circle cx="297.4" cy="420.9" r="3.6" fill="#428c86" stroke="#1a302e" stroke-width="0.35"/>
<circle cx="311.4" cy="433.8" r="3.6" fill="#5a9e96" stroke="#1a302e" stroke-width="0.35"/>
<circle cx="300.7" cy="413.3" r="3.6" fill="#428c86" stroke="#1a302e" stroke-width="0.35"/>
<circle cx="268.5" cy="433.0" r="3.6" fill="#428c86" stroke="#1a302e" stroke-width="0.35"/>
<circle cx="278.0" cy="427.1" r="3.6" fill="#529189" stroke="#1a302e" stroke-width="0.35"/>
<circle cx="309.2" cy="414.2" r="3.6" fill="#4d968f" stroke="#1a302e" stroke-width="0.35"/>
<circle cx="270.1" cy="415.3" r="3.6" fill="#123f3b" stroke="#1a302e" stroke-width="0.35"/>
<circle cx="285.3" cy="415.1" r="3.6" fill="#4d968f" stroke="#1a302e" stroke-width="0.35"/>
<circle cx="305.2" cy="478.7" r="3.6" fill="#3a847e" stroke="#1a302e" stroke-width="0.35"/>
<circle cx="297.1" cy="490.7" r="3.6" fill="#8c1a2c" stroke="#1a302e" stroke-width="0.35"/>
<circle cx="270.6" cy="459.4" r="3.6" fill="#5a9e96" stroke="#1a302e" stroke-width="0.35"/>
<circle cx="282.0" cy="464.4" r="3.6" fill="#5a9e96" stroke="#1a302e" stroke-width="0.35"/>
<circle cx="316.2" cy="471.9" r="3.6" fill="#4d968f" stroke="#1a302e" stroke-width="0.35"/>
<circle cx="267.9" cy="452.8" r="3.6" fill="#d04046" stroke="#1a302e" stroke-width="0.35"/>
<circle cx="311.8" cy="479.4" r="3.6" fill="#5a9e96" stroke="#1a302e" stroke-width="0.35"/>
<circle cx="302.0" cy="497.5" r="3.6" fill="#3f8a84" stroke="#1a302e" stroke-width="0.35"/>
<circle cx="320.4" cy="477.6" r="3.6" fill="#529189" stroke="#1a302e" stroke-width="0.35"/>
<circle cx="294.3" cy="484.1" r="3.6" fill="#529189" stroke="#1a302e" stroke-width="0.35"/>
<circle cx="285.5" cy="471.4" r="3.6" fill="#428c86" stroke="#1a302e" stroke-width="0.35"/>
<circle cx="283.7" cy="478.6" r="3.6" fill="#529189" stroke="#1a302e" stroke-width="0.35"/>
<circle cx="271.3" cy="472.1" r="3.6" fill="#428c86" stroke="#1a302e" stroke-width="0.35"/>
<circle cx="279.2" cy="458.8" r="3.6" fill="#0d2b28" stroke="#1a302e" stroke-width="0.35"/>
<circle cx="317.1" cy="496.7" r="3.6" fill="#3a847e" stroke="#1a302e" stroke-width="0.35"/>
<circle cx="282.5" cy="490.8" r="3.6" fill="#4d968f" stroke="#1a302e" stroke-width="0.35"/>
<circle cx="293.7" cy="472.7" r="3.6" fill="#3a847e" stroke="#1a302e" stroke-width="0.35"/>
<circle cx="301.3" cy="460.0" r="3.6" fill="#4d968f" stroke="#1a302e" stroke-width="0.35"/>
<circle cx="312.2" cy="490.5" r="3.6" fill="#529189" stroke="#1a302e" stroke-width="0.35"/>
<circle cx="291.1" cy="477.5" r="3.6" fill="#529189" stroke="#1a302e" stroke-width="0.35"/>
<circle cx="320.1" cy="466.6" r="3.6" fill="#4d968f" stroke="#1a302e" stroke-width="0.35"/>
<circle cx="300.7" cy="484.4" r="3.6" fill="#529189" stroke="#1a302e" stroke-width="0.35"/>
<circle cx="312.5" cy="465.6" r="3.6" fill="#3a847e" stroke="#1a302e" stroke-width="0.35"/>
<circle cx="320.1" cy="490.0" r="3.6" fill="#428c86" stroke="#1a302e" stroke-width="0.35"/>
<circle cx="271.7" cy="484.7" r="3.6" fill="#529189" stroke="#1a302e" stroke-width="0.35"/>
<circle cx="275.7" cy="465.4" r="3.6" fill="#3a847e" stroke="#1a302e" stroke-width="0.35"/>
<circle cx="318.3" cy="451.8" r="3.6" fill="#5a9e96" stroke="#1a302e" stroke-width="0.35"/>
<circle cx="273.5" cy="497.6" r="3.6" fill="#4d968f" stroke="#1a302e" stroke-width="0.35"/>
<circle cx="308.1" cy="459.0" r="3.6" fill="#3a847e" stroke="#1a302e" stroke-width="0.35"/>
<circle cx="268.4" cy="478.0" r="3.6" fill="#3a847e" stroke="#1a302e" stroke-width="0.35"/>
<circle cx="294.2" cy="459.2" r="3.6" fill="#3a847e" stroke="#1a302e" stroke-width="0.35"/>
<circle cx="316.2" cy="485.6" r="3.6" fill="#123f3b" stroke="#1a302e" stroke-width="0.35"/>
<circle cx="289.3" cy="453.4" r="3.6" fill="#8c1a2c" stroke="#1a302e" stroke-width="0.35"/>
<circle cx="295.4" cy="497.4" r="3.6" fill="#3a847e" stroke="#1a302e" stroke-width="0.35"/>
<circle cx="303.8" cy="491.6" r="3.6" fill="#5a9e96" stroke="#1a302e" stroke-width="0.35"/>
<circle cx="275.3" cy="451.8" r="3.6" fill="#a81e30" stroke="#1a302e" stroke-width="0.35"/>
<circle cx="296.4" cy="464.8" r="3.6" fill="#4d968f" stroke="#1a302e" stroke-width="0.35"/>
<circle cx="286.5" cy="460.0" r="3.6" fill="#529189" stroke="#1a302e" stroke-width="0.35"/>
<circle cx="307.6" cy="472.9" r="3.6" fill="#5a9e96" stroke="#1a302e" stroke-width="0.35"/>
<circle cx="275.0" cy="490.3" r="3.6" fill="#8c1a2c" stroke="#1a302e" stroke-width="0.35"/>
<circle cx="312.2" cy="453.6" r="3.6" fill="#5a9e96" stroke="#1a302e" stroke-width="0.35"/>
<circle cx="300.3" cy="472.3" r="3.6" fill="#3f8a84" stroke="#1a302e" stroke-width="0.35"/>
<circle cx="304.5" cy="452.8" r="3.6" fill="#3a847e" stroke="#1a302e" stroke-width="0.35"/>
<circle cx="326.4" cy="507.1" r="3.6" fill="#4d968f" stroke="#1a302e" stroke-width="0.35"/>
<circle cx="345.1" cy="500.5" r="3.6" fill="#b04a2a" stroke="#1a302e" stroke-width="0.35"/>
<circle cx="341.0" cy="507.0" r="3.6" fill="#c45a32" stroke="#1a302e" stroke-width="0.35"/>
<circle cx="334.1" cy="506.0" r="3.6" fill="#3a847e" stroke="#1a302e" stroke-width="0.35"/>
<circle cx="337.4" cy="512.3" r="3.6" fill="#428c86" stroke="#1a302e" stroke-width="0.35"/>
<circle cx="355.3" cy="519.1" r="3.6" fill="#4d968f" stroke="#1a302e" stroke-width="0.35"/>
<circle cx="346.2" cy="513.3" r="3.6" fill="#17504b" stroke="#1a302e" stroke-width="0.35"/>
<circle cx="357.2" cy="506.6" r="3.6" fill="#b04a2a" stroke="#1a302e" stroke-width="0.35"/>
<circle cx="331.4" cy="511.4" r="3.6" fill="#5a9e96" stroke="#1a302e" stroke-width="0.35"/>
<circle cx="341.7" cy="517.8" r="3.6" fill="#428c86" stroke="#1a302e" stroke-width="0.35"/>
<circle cx="332.2" cy="500.7" r="3.6" fill="#5a9e96" stroke="#1a302e" stroke-width="0.35"/>
<circle cx="351.5" cy="512.9" r="3.6" fill="#123f3b" stroke="#1a302e" stroke-width="0.35"/>
<circle cx="327.5" cy="518.8" r="3.6" fill="#123f3b" stroke="#1a302e" stroke-width="0.35"/>
<circle cx="334.4" cy="519.3" r="3.6" fill="#123f3b" stroke="#1a302e" stroke-width="0.35"/>
<circle cx="285.3" cy="530.2" r="3.6" fill="#4d968f" stroke="#1a302e" stroke-width="0.35"/>
<circle cx="246.6" cy="518.8" r="3.6" fill="#123f3b" stroke="#1a302e" stroke-width="0.35"/>
<circle cx="289.2" cy="550.7" r="3.6" fill="#0d2b28" stroke="#1a302e" stroke-width="0.35"/>
<circle cx="307.4" cy="517.8" r="3.6" fill="#4d968f" stroke="#1a302e" stroke-width="0.35"/>
<circle cx="292.5" cy="557.5" r="3.6" fill="#428c86" stroke="#1a302e" stroke-width="0.35"/>
<circle cx="296.2" cy="550.2" r="3.6" fill="#5a9e96" stroke="#1a302e" stroke-width="0.35"/>
<circle cx="275.2" cy="549.7" r="3.6" fill="#3a847e" stroke="#1a302e" stroke-width="0.35"/>
<circle cx="282.5" cy="550.1" r="3.6" fill="#529189" stroke="#1a302e" stroke-width="0.35"/>
<circle cx="307.6" cy="530.9" r="3.6" fill="#529189" stroke="#1a302e" stroke-width="0.35"/>
<circle cx="292.5" cy="544.3" r="3.6" fill="#0d2b28" stroke="#1a302e" stroke-width="0.35"/>
<circle cx="296.5" cy="524.0" r="3.6" fill="#529189" stroke="#1a302e" stroke-width="0.35"/>
<circle cx="251.1" cy="549.5" r="3.6" fill="#3a847e" stroke="#1a302e" stroke-width="0.35"/>
<circle cx="312.3" cy="525.8" r="3.6" fill="#3a847e" stroke="#1a302e" stroke-width="0.35"/>
<circle cx="303.5" cy="550.3" r="3.6" fill="#4d968f" stroke="#1a302e" stroke-width="0.35"/>
<circle cx="300.1" cy="558.0" r="3.6" fill="#5a9e96" stroke="#1a302e" stroke-width="0.35"/>
<circle cx="276.0" cy="544.8" r="3.6" fill="#4d968f" stroke="#1a302e" stroke-width="0.35"/>
<circle cx="260.9" cy="523.9" r="3.6" fill="#3a847e" stroke="#1a302e" stroke-width="0.35"/>
<circle cx="282.9" cy="525.1" r="3.6" fill="#428c86" stroke="#1a302e" stroke-width="0.35"/>
<circle cx="300.2" cy="545.0" r="3.6" fill="#3f8a84" stroke="#1a302e" stroke-width="0.35"/>
<circle cx="305.8" cy="545.1" r="3.6" fill="#3f8a84" stroke="#1a302e" stroke-width="0.35"/>
<circle cx="303.4" cy="537.8" r="3.6" fill="#3a847e" stroke="#1a302e" stroke-width="0.35"/>
<circle cx="279.9" cy="536.7" r="3.6" fill="#3f8a84" stroke="#1a302e" stroke-width="0.35"/>
<circle cx="296.1" cy="537.3" r="3.6" fill="#5a9e96" stroke="#1a302e" stroke-width="0.35"/>
<circle cx="255.0" cy="532.0" r="3.6" fill="#4d968f" stroke="#1a302e" stroke-width="0.35"/>
<circle cx="299.2" cy="530.6" r="3.6" fill="#3f8a84" stroke="#1a302e" stroke-width="0.35"/>
<circle cx="304.0" cy="525.3" r="3.6" fill="#4d968f" stroke="#1a302e" stroke-width="0.35"/>
<circle cx="251.9" cy="537.1" r="3.6" fill="#428c86" stroke="#1a302e" stroke-width="0.35"/>
<circle cx="289.7" cy="525.1" r="3.6" fill="#529189" stroke="#1a302e" stroke-width="0.35"/>
<circle cx="278.3" cy="531.6" r="3.6" fill="#5a9e96" stroke="#1a302e" stroke-width="0.35"/>
<circle cx="299.8" cy="519.1" r="3.6" fill="#529189" stroke="#1a302e" stroke-width="0.35"/>
<circle cx="254.0" cy="518.0" r="3.6" fill="#4d968f" stroke="#1a302e" stroke-width="0.35"/>
<circle cx="268.1" cy="524.0" r="3.6" fill="#3a847e" stroke="#1a302e" stroke-width="0.35"/>
<circle cx="278.2" cy="557.8" r="3.6" fill="#123f3b" stroke="#1a302e" stroke-width="0.35"/>
<circle cx="263.1" cy="556.4" r="3.6" fill="#17504b" stroke="#1a302e" stroke-width="0.35"/>
<circle cx="271.0" cy="532.5" r="3.6" fill="#3f8a84" stroke="#1a302e" stroke-width="0.35"/>
<circle cx="292.5" cy="519.3" r="3.6" fill="#123f3b" stroke="#1a302e" stroke-width="0.35"/>
<circle cx="259.0" cy="551.4" r="3.6" fill="#5a9e96" stroke="#1a302e" stroke-width="0.35"/>
<circle cx="269.4" cy="519.7" r="3.6" fill="#5a9e96" stroke="#1a302e" stroke-width="0.35"/>
<circle cx="252.2" cy="524.1" r="3.6" fill="#17504b" stroke="#1a302e" stroke-width="0.35"/>
<circle cx="307.5" cy="556.3" r="3.6" fill="#4d968f" stroke="#1a302e" stroke-width="0.35"/>
<circle cx="274.1" cy="538.0" r="3.6" fill="#428c86" stroke="#1a302e" stroke-width="0.35"/>
<circle cx="270.8" cy="557.1" r="3.6" fill="#3a847e" stroke="#1a302e" stroke-width="0.35"/>
<circle cx="262.9" cy="532.1" r="3.6" fill="#428c86" stroke="#1a302e" stroke-width="0.35"/>
<circle cx="273.8" cy="525.5" r="3.6" fill="#3f8a84" stroke="#1a302e" stroke-width="0.35"/>
<circle cx="284.8" cy="558.1" r="3.6" fill="#3a847e" stroke="#1a302e" stroke-width="0.35"/>
<circle cx="247.3" cy="544.5" r="3.6" fill="#4d968f" stroke="#1a302e" stroke-width="0.35"/>
<circle cx="258.5" cy="537.4" r="3.6" fill="#3f8a84" stroke="#1a302e" stroke-width="0.35"/>
<circle cx="262.8" cy="518.6" r="3.6" fill="#5a9e96" stroke="#1a302e" stroke-width="0.35"/>
<circle cx="267.1" cy="551.5" r="3.6" fill="#4d968f" stroke="#1a302e" stroke-width="0.35"/>
<circle cx="310.3" cy="537.3" r="3.6" fill="#3a847e" stroke="#1a302e" stroke-width="0.35"/>
<circle cx="232.3" cy="571.8" r="3.6" fill="#3a847e" stroke="#1a302e" stroke-width="0.35"/>
<circle cx="248.7" cy="641.6" r="3.6" fill="#529189" stroke="#1a302e" stroke-width="0.35"/>
<circle cx="269.6" cy="637.1" r="3.6" fill="#529189" stroke="#1a302e" stroke-width="0.35"/>
<circle cx="236.8" cy="590.9" r="3.6" fill="#5a9e96" stroke="#1a302e" stroke-width="0.35"/>
<circle cx="256.5" cy="604.1" r="3.6" fill="#529189" stroke="#1a302e" stroke-width="0.35"/>
<circle cx="245.6" cy="635.3" r="3.6" fill="#428c86" stroke="#1a302e" stroke-width="0.35"/>
<circle cx="294.9" cy="592.4" r="3.6" fill="#3f8a84" stroke="#1a302e" stroke-width="0.35"/>
<circle cx="253.9" cy="585.3" r="3.6" fill="#5a9e96" stroke="#1a302e" stroke-width="0.35"/>
<circle cx="277.7" cy="643.0" r="3.6" fill="#4d968f" stroke="#1a302e" stroke-width="0.35"/>
<circle cx="250.9" cy="577.4" r="3.6" fill="#3a847e" stroke="#1a302e" stroke-width="0.35"/>
<circle cx="238.5" cy="609.6" r="3.6" fill="#17504b" stroke="#1a302e" stroke-width="0.35"/>
<circle cx="291.6" cy="572.3" r="3.6" fill="#5a9e96" stroke="#1a302e" stroke-width="0.35"/>
<circle cx="278.5" cy="616.6" r="3.6" fill="#529189" stroke="#1a302e" stroke-width="0.35"/>
<circle cx="235.2" cy="617.0" r="3.6" fill="#4d968f" stroke="#1a302e" stroke-width="0.35"/>
<circle cx="292.0" cy="636.3" r="3.6" fill="#3a847e" stroke="#1a302e" stroke-width="0.35"/>
<circle cx="238.9" cy="624.5" r="3.6" fill="#0d2b28" stroke="#1a302e" stroke-width="0.35"/>
<circle cx="271.8" cy="591.7" r="3.6" fill="#428c86" stroke="#1a302e" stroke-width="0.35"/>
<circle cx="269.4" cy="611.1" r="3.6" fill="#3f8a84" stroke="#1a302e" stroke-width="0.35"/>
<circle cx="279.6" cy="629.7" r="3.6" fill="#428c86" stroke="#1a302e" stroke-width="0.35"/>
<circle cx="277.9" cy="571.9" r="3.6" fill="#3f8a84" stroke="#1a302e" stroke-width="0.35"/>
<circle cx="251.4" cy="591.3" r="3.6" fill="#4d968f" stroke="#1a302e" stroke-width="0.35"/>
<circle cx="282.7" cy="635.6" r="3.6" fill="#5a9e96" stroke="#1a302e" stroke-width="0.35"/>
<circle cx="261.0" cy="585.1" r="3.6" fill="#5a9e96" stroke="#1a302e" stroke-width="0.35"/>
<circle cx="286.4" cy="605.3" r="3.6" fill="#4d968f" stroke="#1a302e" stroke-width="0.35"/>
<circle cx="271.2" cy="641.7" r="3.6" fill="#3f8a84" stroke="#1a302e" stroke-width="0.35"/>
<circle cx="270.0" cy="584.0" r="3.6" fill="#17504b" stroke="#1a302e" stroke-width="0.35"/>
<circle cx="283.1" cy="623.8" r="3.6" fill="#5a9e96" stroke="#1a302e" stroke-width="0.35"/>
<circle cx="230.7" cy="635.8" r="3.6" fill="#4d968f" stroke="#1a302e" stroke-width="0.35"/>
<circle cx="234.3" cy="603.6" r="3.6" fill="#3a847e" stroke="#1a302e" stroke-width="0.35"/>
<circle cx="246.4" cy="624.6" r="3.6" fill="#529189" stroke="#1a302e" stroke-width="0.35"/>
<circle cx="265.0" cy="592.2" r="3.6" fill="#428c86" stroke="#1a302e" stroke-width="0.35"/>
<circle cx="265.5" cy="578.8" r="3.6" fill="#4d968f" stroke="#1a302e" stroke-width="0.35"/>
<circle cx="287.5" cy="591.1" r="3.6" fill="#529189" stroke="#1a302e" stroke-width="0.35"/>
<circle cx="291.0" cy="598.5" r="3.6" fill="#428c86" stroke="#1a302e" stroke-width="0.35"/>
<circle cx="292.0" cy="586.0" r="3.6" fill="#17504b" stroke="#1a302e" stroke-width="0.35"/>
<circle cx="249.4" cy="630.2" r="3.6" fill="#4d968f" stroke="#1a302e" stroke-width="0.35"/>
<circle cx="242.8" cy="591.1" r="3.6" fill="#17504b" stroke="#1a302e" stroke-width="0.35"/>
<circle cx="239.6" cy="571.7" r="3.6" fill="#123f3b" stroke="#1a302e" stroke-width="0.35"/>
<circle cx="258.9" cy="578.4" r="3.6" fill="#4d968f" stroke="#1a302e" stroke-width="0.35"/>
<circle cx="285.1" cy="572.6" r="3.6" fill="#123f3b" stroke="#1a302e" stroke-width="0.35"/>
<circle cx="246.0" cy="611.1" r="3.6" fill="#17504b" stroke="#1a302e" stroke-width="0.35"/>
<circle cx="285.8" cy="617.0" r="3.6" fill="#3f8a84" stroke="#1a302e" stroke-width="0.35"/>
<circle cx="279.8" cy="577.2" r="3.6" fill="#3a847e" stroke="#1a302e" stroke-width="0.35"/>
<circle cx="235.5" cy="630.6" r="3.6" fill="#529189" stroke="#1a302e" stroke-width="0.35"/>
<circle cx="235.2" cy="577.5" r="3.6" fill="#5a9e96" stroke="#1a302e" stroke-width="0.35"/>
<circle cx="276.4" cy="584.5" r="3.6" fill="#17504b" stroke="#1a302e" stroke-width="0.35"/>
<circle cx="260.9" cy="622.8" r="3.6" fill="#5a9e96" stroke="#1a302e" stroke-width="0.35"/>
<circle cx="233.2" cy="609.9" r="3.6" fill="#428c86" stroke="#1a302e" stroke-width="0.35"/>
<circle cx="255.5" cy="630.9" r="3.6" fill="#529189" stroke="#1a302e" stroke-width="0.35"/>
<circle cx="279.7" cy="592.0" r="3.6" fill="#3a847e" stroke="#1a302e" stroke-width="0.35"/>
<circle cx="242.6" cy="578.8" r="3.6" fill="#428c86" stroke="#1a302e" stroke-width="0.35"/>
<circle cx="257.0" cy="591.7" r="3.6" fill="#3a847e" stroke="#1a302e" stroke-width="0.35"/>
<circle cx="255.4" cy="611.4" r="3.6" fill="#4d968f" stroke="#1a302e" stroke-width="0.35"/>
<circle cx="292.8" cy="629.7" r="3.6" fill="#529189" stroke="#1a302e" stroke-width="0.35"/>
<circle cx="293.3" cy="642.7" r="3.6" fill="#123f3b" stroke="#1a302e" stroke-width="0.35"/>
<circle cx="264.6" cy="616.9" r="3.6" fill="#428c86" stroke="#1a302e" stroke-width="0.35"/>
<circle cx="231.3" cy="598.9" r="3.6" fill="#428c86" stroke="#1a302e" stroke-width="0.35"/>
<circle cx="238.1" cy="597.3" r="3.6" fill="#4d968f" stroke="#1a302e" stroke-width="0.35"/>
<circle cx="264.5" cy="604.1" r="3.6" fill="#4d968f" stroke="#1a302e" stroke-width="0.35"/>
<circle cx="241.3" cy="629.2" r="3.6" fill="#5a9e96" stroke="#1a302e" stroke-width="0.35"/>
<circle cx="271.0" cy="629.3" r="3.6" fill="#3a847e" stroke="#1a302e" stroke-width="0.35"/>
<circle cx="283.3" cy="609.8" r="3.6" fill="#123f3b" stroke="#1a302e" stroke-width="0.35"/>
<circle cx="287.3" cy="578.6" r="3.6" fill="#3f8a84" stroke="#1a302e" stroke-width="0.35"/>
<circle cx="294.3" cy="616.2" r="3.6" fill="#529189" stroke="#1a302e" stroke-width="0.35"/>
<circle cx="254.2" cy="571.0" r="3.6" fill="#4d968f" stroke="#1a302e" stroke-width="0.35"/>
<circle cx="253.2" cy="597.6" r="3.6" fill="#428c86" stroke="#1a302e" stroke-width="0.35"/>
<circle cx="293.2" cy="603.4" r="3.6" fill="#4d968f" stroke="#1a302e" stroke-width="0.35"/>
<circle cx="273.0" cy="579.0" r="3.6" fill="#3f8a84" stroke="#1a302e" stroke-width="0.35"/>
<circle cx="261.0" cy="637.5" r="3.6" fill="#0d2b28" stroke="#1a302e" stroke-width="0.35"/>
<circle cx="251.1" cy="603.1" r="3.6" fill="#529189" stroke="#1a302e" stroke-width="0.35"/>
<circle cx="246.3" cy="571.3" r="3.6" fill="#3a847e" stroke="#1a302e" stroke-width="0.35"/>
<circle cx="254.9" cy="637.3" r="3.6" fill="#4d968f" stroke="#1a302e" stroke-width="0.35"/>
<circle cx="291.7" cy="623.7" r="3.6" fill="#4d968f" stroke="#1a302e" stroke-width="0.35"/>
<circle cx="232.3" cy="623.0" r="3.6" fill="#5a9e96" stroke="#1a302e" stroke-width="0.35"/>
<circle cx="291.7" cy="611.1" r="3.6" fill="#3f8a84" stroke="#1a302e" stroke-width="0.35"/>
<circle cx="271.8" cy="617.2" r="3.6" fill="#529189" stroke="#1a302e" stroke-width="0.35"/>
<circle cx="286.2" cy="630.4" r="3.6" fill="#5a9e96" stroke="#1a302e" stroke-width="0.35"/>
<circle cx="242.6" cy="643.2" r="3.6" fill="#529189" stroke="#1a302e" stroke-width="0.35"/>
<circle cx="283.5" cy="597.6" r="3.6" fill="#4d968f" stroke="#1a302e" stroke-width="0.35"/>
<circle cx="254.5" cy="623.0" r="3.6" fill="#3f8a84" stroke="#1a302e" stroke-width="0.35"/>
<circle cx="245.3" cy="597.3" r="3.6" fill="#17504b" stroke="#1a302e" stroke-width="0.35"/>
<circle cx="264.2" cy="630.3" r="3.6" fill="#3f8a84" stroke="#1a302e" stroke-width="0.35"/>
<circle cx="271.2" cy="603.3" r="3.6" fill="#428c86" stroke="#1a302e" stroke-width="0.35"/>
<circle cx="246.8" cy="583.8" r="3.6" fill="#17504b" stroke="#1a302e" stroke-width="0.35"/>
<circle cx="261.6" cy="597.0" r="3.6" fill="#3f8a84" stroke="#1a302e" stroke-width="0.35"/>
<circle cx="277.0" cy="623.8" r="3.6" fill="#17504b" stroke="#1a302e" stroke-width="0.35"/>
<circle cx="268.3" cy="597.6" r="3.6" fill="#4d968f" stroke="#1a302e" stroke-width="0.35"/>
<circle cx="285.9" cy="642.3" r="3.6" fill="#3f8a84" stroke="#1a302e" stroke-width="0.35"/>
<circle cx="255.7" cy="641.9" r="3.6" fill="#529189" stroke="#1a302e" stroke-width="0.35"/>
<circle cx="263.4" cy="642.5" r="3.6" fill="#3f8a84" stroke="#1a302e" stroke-width="0.35"/>
<circle cx="239.4" cy="585.5" r="3.6" fill="#3f8a84" stroke="#1a302e" stroke-width="0.35"/>
<circle cx="262.7" cy="611.8" r="3.6" fill="#428c86" stroke="#1a302e" stroke-width="0.35"/>
<circle cx="257.0" cy="617.6" r="3.6" fill="#3f8a84" stroke="#1a302e" stroke-width="0.35"/>
<circle cx="50.8" cy="494.7" r="3.6" fill="#4d968f" stroke="#1a302e" stroke-width="0.35"/>
<circle cx="53.5" cy="502.0" r="3.6" fill="#529189" stroke="#1a302e" stroke-width="0.35"/>
<circle cx="65.1" cy="533.9" r="3.6" fill="#5a9e96" stroke="#1a302e" stroke-width="0.35"/>
<circle cx="51.4" cy="508.4" r="3.6" fill="#3f8a84" stroke="#1a302e" stroke-width="0.35"/>
<circle cx="71.6" cy="493.9" r="3.6" fill="#5a9e96" stroke="#1a302e" stroke-width="0.35"/>
<circle cx="64.3" cy="494.0" r="3.6" fill="#4d968f" stroke="#1a302e" stroke-width="0.35"/>
<circle cx="64.4" cy="520.7" r="3.6" fill="#3a847e" stroke="#1a302e" stroke-width="0.35"/>
<circle cx="61.8" cy="515.1" r="3.6" fill="#529189" stroke="#1a302e" stroke-width="0.35"/>
<circle cx="54.9" cy="514.7" r="3.6" fill="#5a9e96" stroke="#1a302e" stroke-width="0.35"/>
<circle cx="49.9" cy="519.6" r="3.6" fill="#428c86" stroke="#1a302e" stroke-width="0.35"/>
<circle cx="58.5" cy="533.4" r="3.6" fill="#4d968f" stroke="#1a302e" stroke-width="0.35"/>
<circle cx="68.9" cy="500.3" r="3.6" fill="#5a9e96" stroke="#1a302e" stroke-width="0.35"/>
<circle cx="68.4" cy="526.6" r="3.6" fill="#3f8a84" stroke="#1a302e" stroke-width="0.35"/>
<circle cx="75.0" cy="508.4" r="3.6" fill="#428c86" stroke="#1a302e" stroke-width="0.35"/>
<circle cx="63.0" cy="526.2" r="3.6" fill="#3f8a84" stroke="#1a302e" stroke-width="0.35"/>
<circle cx="51.3" cy="532.6" r="3.6" fill="#3f8a84" stroke="#1a302e" stroke-width="0.35"/>
<circle cx="59.0" cy="521.0" r="3.6" fill="#4d968f" stroke="#1a302e" stroke-width="0.35"/>
<circle cx="73.0" cy="532.6" r="3.6" fill="#3a847e" stroke="#1a302e" stroke-width="0.35"/>
<circle cx="117.6" cy="507.8" r="3.6" fill="#3f8a84" stroke="#1a302e" stroke-width="0.35"/>
<circle cx="110.7" cy="508.5" r="3.6" fill="#428c86" stroke="#1a302e" stroke-width="0.35"/>
<circle cx="106.6" cy="515.1" r="3.6" fill="#d04046" stroke="#1a302e" stroke-width="0.35"/>
<circle cx="88.2" cy="521.4" r="3.6" fill="#c8303c" stroke="#1a302e" stroke-width="0.35"/>
<circle cx="109.6" cy="521.0" r="3.6" fill="#3f8a84" stroke="#1a302e" stroke-width="0.35"/>
<circle cx="90.9" cy="515.4" r="3.6" fill="#428c86" stroke="#1a302e" stroke-width="0.35"/>
<circle cx="113.0" cy="513.7" r="3.6" fill="#3a847e" stroke="#1a302e" stroke-width="0.35"/>
<circle cx="102.9" cy="508.6" r="3.6" fill="#3a847e" stroke="#1a302e" stroke-width="0.35"/>
<circle cx="98.5" cy="515.2" r="3.6" fill="#529189" stroke="#1a302e" stroke-width="0.35"/>
<circle cx="102.2" cy="521.0" r="3.6" fill="#a81e30" stroke="#1a302e" stroke-width="0.35"/>
<circle cx="88.5" cy="507.3" r="3.6" fill="#428c86" stroke="#1a302e" stroke-width="0.35"/>
<circle cx="46.5" cy="574.6" r="3.6" fill="#5a9e96" stroke="#1a302e" stroke-width="0.35"/>
<circle cx="76.8" cy="574.0" r="3.6" fill="#17504b" stroke="#1a302e" stroke-width="0.35"/>
<circle cx="69.0" cy="574.4" r="3.6" fill="#d04046" stroke="#1a302e" stroke-width="0.35"/>
<circle cx="45.4" cy="562.6" r="3.6" fill="#8c1a2c" stroke="#1a302e" stroke-width="0.35"/>
<circle cx="52.9" cy="562.0" r="3.6" fill="#3a847e" stroke="#1a302e" stroke-width="0.35"/>
<circle cx="64.1" cy="567.7" r="3.6" fill="#d04046" stroke="#1a302e" stroke-width="0.35"/>
<circle cx="54.8" cy="575.6" r="3.6" fill="#8c1a2c" stroke="#1a302e" stroke-width="0.35"/>
<circle cx="48.5" cy="568.4" r="3.6" fill="#d04046" stroke="#1a302e" stroke-width="0.35"/>
<circle cx="71.8" cy="569.1" r="3.6" fill="#d04046" stroke="#1a302e" stroke-width="0.35"/>
<circle cx="56.1" cy="569.1" r="3.6" fill="#3f8a84" stroke="#1a302e" stroke-width="0.35"/>
<circle cx="60.7" cy="575.3" r="3.6" fill="#17504b" stroke="#1a302e" stroke-width="0.35"/>
<circle cx="112.8" cy="571.7" r="3.6" fill="#0d2b28" stroke="#1a302e" stroke-width="0.35"/>
<circle cx="117.9" cy="577.9" r="3.6" fill="#123f3b" stroke="#1a302e" stroke-width="0.35"/>
<circle cx="105.3" cy="571.1" r="3.6" fill="#123f3b" stroke="#1a302e" stroke-width="0.35"/>
<circle cx="111.2" cy="564.6" r="3.6" fill="#a81e30" stroke="#1a302e" stroke-width="0.35"/>
<circle cx="103.7" cy="565.3" r="3.6" fill="#0d2b28" stroke="#1a302e" stroke-width="0.35"/>
<circle cx="94.8" cy="564.2" r="3.6" fill="#a81e30" stroke="#1a302e" stroke-width="0.35"/>
<circle cx="103.8" cy="577.1" r="3.6" fill="#a81e30" stroke="#1a302e" stroke-width="0.35"/>
<circle cx="110.7" cy="577.0" r="3.6" fill="#8c1a2c" stroke="#1a302e" stroke-width="0.35"/>
<circle cx="94.5" cy="593.7" r="3.6" fill="#d04046" stroke="#1a302e" stroke-width="0.35"/>
<circle cx="91.7" cy="600.5" r="3.6" fill="#8c1a2c" stroke="#1a302e" stroke-width="0.35"/>
<circle cx="77.2" cy="602.1" r="3.6" fill="#d04046" stroke="#1a302e" stroke-width="0.35"/>
<circle cx="81.2" cy="608.2" r="3.6" fill="#c8303c" stroke="#1a302e" stroke-width="0.35"/>
<circle cx="87.1" cy="595.4" r="3.6" fill="#a81e30" stroke="#1a302e" stroke-width="0.35"/>
<circle cx="99.7" cy="601.8" r="3.6" fill="#d04046" stroke="#1a302e" stroke-width="0.35"/>
<circle cx="87.0" cy="608.7" r="3.6" fill="#a81e30" stroke="#1a302e" stroke-width="0.35"/>
<circle cx="80.2" cy="594.0" r="3.6" fill="#c8303c" stroke="#1a302e" stroke-width="0.35"/>
<circle cx="95.4" cy="607.2" r="3.6" fill="#8c1a2c" stroke="#1a302e" stroke-width="0.35"/>
<circle cx="145.6" cy="625.3" r="3.6" fill="#3f8a84" stroke="#1a302e" stroke-width="0.35"/>
<circle cx="141.9" cy="592.9" r="3.6" fill="#5a9e96" stroke="#1a302e" stroke-width="0.35"/>
<circle cx="113.0" cy="632.8" r="3.6" fill="#529189" stroke="#1a302e" stroke-width="0.35"/>
<circle cx="135.4" cy="617.6" r="3.6" fill="#428c86" stroke="#1a302e" stroke-width="0.35"/>
<circle cx="151.4" cy="624.3" r="3.6" fill="#5a9e96" stroke="#1a302e" stroke-width="0.35"/>
<circle cx="119.4" cy="606.8" r="3.6" fill="#4d968f" stroke="#1a302e" stroke-width="0.35"/>
<circle cx="123.3" cy="598.7" r="3.6" fill="#428c86" stroke="#1a302e" stroke-width="0.35"/>
<circle cx="146.3" cy="637.6" r="3.6" fill="#d04046" stroke="#1a302e" stroke-width="0.35"/>
<circle cx="115.7" cy="600.6" r="3.6" fill="#529189" stroke="#1a302e" stroke-width="0.35"/>
<circle cx="146.9" cy="612.3" r="3.6" fill="#0d2b28" stroke="#1a302e" stroke-width="0.35"/>
<circle cx="120.8" cy="592.1" r="3.6" fill="#3a847e" stroke="#1a302e" stroke-width="0.35"/>
<circle cx="149.8" cy="592.6" r="3.6" fill="#3a847e" stroke="#1a302e" stroke-width="0.35"/>
<circle cx="138.6" cy="611.6" r="3.6" fill="#3a847e" stroke="#1a302e" stroke-width="0.35"/>
<circle cx="124.5" cy="611.3" r="3.6" fill="#529189" stroke="#1a302e" stroke-width="0.35"/>
<circle cx="117.3" cy="611.8" r="3.6" fill="#5a9e96" stroke="#1a302e" stroke-width="0.35"/>
<circle cx="151.6" cy="618.8" r="3.6" fill="#529189" stroke="#1a302e" stroke-width="0.35"/>
<circle cx="137.5" cy="625.8" r="3.6" fill="#4d968f" stroke="#1a302e" stroke-width="0.35"/>
<circle cx="113.4" cy="592.1" r="3.6" fill="#428c86" stroke="#1a302e" stroke-width="0.35"/>
<circle cx="145.9" cy="598.7" r="3.6" fill="#428c86" stroke="#1a302e" stroke-width="0.35"/>
<circle cx="128.3" cy="631.1" r="3.6" fill="#428c86" stroke="#1a302e" stroke-width="0.35"/>
<circle cx="127.1" cy="605.5" r="3.6" fill="#4d968f" stroke="#1a302e" stroke-width="0.35"/>
<circle cx="153.9" cy="599.3" r="3.6" fill="#5a9e96" stroke="#1a302e" stroke-width="0.35"/>
<circle cx="116.9" cy="637.3" r="3.6" fill="#529189" stroke="#1a302e" stroke-width="0.35"/>
<circle cx="153.6" cy="611.4" r="3.6" fill="#428c86" stroke="#1a302e" stroke-width="0.35"/>
<circle cx="143.5" cy="605.9" r="3.6" fill="#d04046" stroke="#1a302e" stroke-width="0.35"/>
<circle cx="113.7" cy="604.8" r="3.6" fill="#5a9e96" stroke="#1a302e" stroke-width="0.35"/>
<circle cx="114.2" cy="625.8" r="3.6" fill="#5a9e96" stroke="#1a302e" stroke-width="0.35"/>
<circle cx="130.3" cy="624.4" r="3.6" fill="#428c86" stroke="#1a302e" stroke-width="0.35"/>
<circle cx="119.4" cy="632.4" r="3.6" fill="#3a847e" stroke="#1a302e" stroke-width="0.35"/>
<circle cx="136.3" cy="631.5" r="3.6" fill="#17504b" stroke="#1a302e" stroke-width="0.35"/>
<circle cx="126.7" cy="592.9" r="3.6" fill="#4d968f" stroke="#1a302e" stroke-width="0.35"/>
<circle cx="142.2" cy="619.5" r="3.6" fill="#529189" stroke="#1a302e" stroke-width="0.35"/>
<circle cx="113.6" cy="618.7" r="3.6" fill="#3f8a84" stroke="#1a302e" stroke-width="0.35"/>
<circle cx="154.1" cy="637.6" r="3.6" fill="#3f8a84" stroke="#1a302e" stroke-width="0.35"/>
<circle cx="138.5" cy="637.5" r="3.6" fill="#5a9e96" stroke="#1a302e" stroke-width="0.35"/>
<circle cx="142.2" cy="632.4" r="3.6" fill="#4d968f" stroke="#1a302e" stroke-width="0.35"/>
<circle cx="122.3" cy="624.6" r="3.6" fill="#4d968f" stroke="#1a302e" stroke-width="0.35"/>
<circle cx="120.0" cy="618.3" r="3.6" fill="#0d2b28" stroke="#1a302e" stroke-width="0.35"/>
<circle cx="194.7" cy="640.8" r="3.6" fill="#3f8a84" stroke="#1a302e" stroke-width="0.35"/>
<circle cx="194.3" cy="626.5" r="3.6" fill="#4d968f" stroke="#1a302e" stroke-width="0.35"/>
<circle cx="222.3" cy="595.0" r="3.6" fill="#428c86" stroke="#1a302e" stroke-width="0.35"/>
<circle cx="208.4" cy="601.8" r="3.6" fill="#4d968f" stroke="#1a302e" stroke-width="0.35"/>
<circle cx="174.4" cy="640.1" r="3.6" fill="#428c86" stroke="#1a302e" stroke-width="0.35"/>
<circle cx="172.8" cy="612.8" r="3.6" fill="#4d968f" stroke="#1a302e" stroke-width="0.35"/>
<circle cx="180.0" cy="639.6" r="3.6" fill="#5a9e96" stroke="#1a302e" stroke-width="0.35"/>
<circle cx="170.7" cy="593.5" r="3.6" fill="#529189" stroke="#1a302e" stroke-width="0.35"/>
<circle cx="221.1" cy="607.5" r="3.6" fill="#17504b" stroke="#1a302e" stroke-width="0.35"/>
<circle cx="221.4" cy="631.9" r="3.6" fill="#3a847e" stroke="#1a302e" stroke-width="0.35"/>
<circle cx="198.3" cy="607.7" r="3.6" fill="#17504b" stroke="#1a302e" stroke-width="0.35"/>
<circle cx="213.0" cy="606.7" r="3.6" fill="#428c86" stroke="#1a302e" stroke-width="0.35"/>
<circle cx="199.3" cy="620.3" r="3.6" fill="#529189" stroke="#1a302e" stroke-width="0.35"/>
<circle cx="191.2" cy="620.1" r="3.6" fill="#4d968f" stroke="#1a302e" stroke-width="0.35"/>
<circle cx="185.4" cy="620.4" r="3.6" fill="#3a847e" stroke="#1a302e" stroke-width="0.35"/>
<circle cx="207.2" cy="619.9" r="3.6" fill="#5a9e96" stroke="#1a302e" stroke-width="0.35"/>
<circle cx="176.9" cy="619.2" r="3.6" fill="#3f8a84" stroke="#1a302e" stroke-width="0.35"/>
<circle cx="176.3" cy="595.1" r="3.6" fill="#529189" stroke="#1a302e" stroke-width="0.35"/>
<circle cx="203.6" cy="638.6" r="3.6" fill="#428c86" stroke="#1a302e" stroke-width="0.35"/>
<circle cx="205.9" cy="594.6" r="3.6" fill="#5a9e96" stroke="#1a302e" stroke-width="0.35"/>
<circle cx="184.9" cy="594.2" r="3.6" fill="#4d968f" stroke="#1a302e" stroke-width="0.35"/>
<circle cx="168.9" cy="621.0" r="3.6" fill="#123f3b" stroke="#1a302e" stroke-width="0.35"/>
<circle cx="187.9" cy="626.5" r="3.6" fill="#4d968f" stroke="#1a302e" stroke-width="0.35"/>
<circle cx="207.8" cy="632.4" r="3.6" fill="#3f8a84" stroke="#1a302e" stroke-width="0.35"/>
<circle cx="180.0" cy="627.7" r="3.6" fill="#529189" stroke="#1a302e" stroke-width="0.35"/>
<circle cx="208.5" cy="626.4" r="3.6" fill="#5a9e96" stroke="#1a302e" stroke-width="0.35"/>
<circle cx="218.0" cy="640.0" r="3.6" fill="#123f3b" stroke="#1a302e" stroke-width="0.35"/>
<circle cx="181.1" cy="613.7" r="3.6" fill="#3a847e" stroke="#1a302e" stroke-width="0.35"/>
<circle cx="194.6" cy="602.1" r="3.6" fill="#5a9e96" stroke="#1a302e" stroke-width="0.35"/>
<circle cx="200.0" cy="633.1" r="3.6" fill="#3f8a84" stroke="#1a302e" stroke-width="0.35"/>
<circle cx="211.5" cy="640.5" r="3.6" fill="#3f8a84" stroke="#1a302e" stroke-width="0.35"/>
<circle cx="196.7" cy="614.4" r="3.6" fill="#5a9e96" stroke="#1a302e" stroke-width="0.35"/>
<circle cx="176.4" cy="632.4" r="3.6" fill="#3a847e" stroke="#1a302e" stroke-width="0.35"/>
<circle cx="219.4" cy="613.9" r="3.6" fill="#5a9e96" stroke="#1a302e" stroke-width="0.35"/>
<circle cx="169.8" cy="633.3" r="3.6" fill="#3f8a84" stroke="#1a302e" stroke-width="0.35"/>
<circle cx="187.1" cy="601.2" r="3.6" fill="#5a9e96" stroke="#1a302e" stroke-width="0.35"/>
<circle cx="173.5" cy="627.5" r="3.6" fill="#428c86" stroke="#1a302e" stroke-width="0.35"/>
<circle cx="179.7" cy="600.0" r="3.6" fill="#4d968f" stroke="#1a302e" stroke-width="0.35"/>
<circle cx="214.5" cy="594.8" r="3.6" fill="#3a847e" stroke="#1a302e" stroke-width="0.35"/>
<circle cx="222.0" cy="620.8" r="3.6" fill="#5a9e96" stroke="#1a302e" stroke-width="0.35"/>
<circle cx="187.7" cy="639.5" r="3.6" fill="#3f8a84" stroke="#1a302e" stroke-width="0.35"/>
<circle cx="203.1" cy="602.0" r="3.6" fill="#a81e30" stroke="#1a302e" stroke-width="0.35"/>
<circle cx="198.6" cy="594.0" r="3.6" fill="#529189" stroke="#1a302e" stroke-width="0.35"/>
<circle cx="216.9" cy="600.6" r="3.6" fill="#3f8a84" stroke="#1a302e" stroke-width="0.35"/>
<circle cx="183.4" cy="607.2" r="3.6" fill="#529189" stroke="#1a302e" stroke-width="0.35"/>
<circle cx="211.4" cy="613.0" r="3.6" fill="#4d968f" stroke="#1a302e" stroke-width="0.35"/>
<circle cx="192.7" cy="633.0" r="3.6" fill="#5a9e96" stroke="#1a302e" stroke-width="0.35"/>
<circle cx="215.6" cy="633.8" r="3.6" fill="#4d968f" stroke="#1a302e" stroke-width="0.35"/>
<circle cx="185.1" cy="632.7" r="3.6" fill="#3f8a84" stroke="#1a302e" stroke-width="0.35"/>
<circle cx="216.9" cy="627.7" r="3.6" fill="#529189" stroke="#1a302e" stroke-width="0.35"/>
<circle cx="189.0" cy="613.4" r="3.6" fill="#3f8a84" stroke="#1a302e" stroke-width="0.35"/>
<circle cx="163.1" cy="647.3" r="3.6" fill="#d04046" stroke="#1a302e" stroke-width="0.35"/>
<circle cx="177.0" cy="655.0" r="3.6" fill="#123f3b" stroke="#1a302e" stroke-width="0.35"/>
<circle cx="167.0" cy="641.7" r="3.6" fill="#17504b" stroke="#1a302e" stroke-width="0.35"/>
<circle cx="167.5" cy="654.6" r="3.6" fill="#0d2b28" stroke="#1a302e" stroke-width="0.35"/>
<circle cx="173.5" cy="642.7" r="3.6" fill="#0d2b28" stroke="#1a302e" stroke-width="0.35"/>
<circle cx="188.6" cy="568.0" r="3.6" fill="#3f8a84" stroke="#1a302e" stroke-width="0.35"/>
<circle cx="173.4" cy="568.3" r="3.6" fill="#17504b" stroke="#1a302e" stroke-width="0.35"/>
<circle cx="186.8" cy="582.4" r="3.6" fill="#428c86" stroke="#1a302e" stroke-width="0.35"/>
<circle cx="167.4" cy="575.9" r="3.6" fill="#3a847e" stroke="#1a302e" stroke-width="0.35"/>
<circle cx="181.4" cy="568.1" r="3.6" fill="#0d2b28" stroke="#1a302e" stroke-width="0.35"/>
<circle cx="182.5" cy="575.1" r="3.6" fill="#17504b" stroke="#1a302e" stroke-width="0.35"/>
<circle cx="159.4" cy="574.2" r="3.6" fill="#4d968f" stroke="#1a302e" stroke-width="0.35"/>
<circle cx="184.7" cy="562.2" r="3.6" fill="#3a847e" stroke="#1a302e" stroke-width="0.35"/>
<circle cx="166.5" cy="568.1" r="3.6" fill="#d04046" stroke="#1a302e" stroke-width="0.35"/>
<circle cx="151.9" cy="574.8" r="3.6" fill="#123f3b" stroke="#1a302e" stroke-width="0.35"/>
<circle cx="176.7" cy="563.6" r="3.6" fill="#123f3b" stroke="#1a302e" stroke-width="0.35"/>
<circle cx="165.7" cy="581.3" r="3.6" fill="#529189" stroke="#1a302e" stroke-width="0.35"/>
<text x="111.6" y="413.3" font-size="4.8" fill="#1a1a1a">SLC2A1</text>
<text x="131.7" y="413.0" font-size="4.8" fill="#1a1a1a">POLD3</text>
<text x="112.5" y="421.0" font-size="4.8" fill="#1a1a1a">ALAS2</text>
<text x="131.2" y="419.6" font-size="4.8" fill="#1a1a1a">ADAM9</text>
<text x="115.7" y="427.3" font-size="4.8" fill="#1a1a1a">CCNB1</text>
<text x="114.0" y="432.9" font-size="4.8" fill="#1a1a1a">HBB</text>
<text x="131.6" y="432.7" font-size="4.8" fill="#1a1a1a">FECH</text>
<text x="163.5" y="397.1" font-size="4.8" fill="#1a1a1a">DDIT3</text>
<text x="182.5" y="398.6" font-size="4.8" fill="#1a1a1a">NPM1</text>
<text x="167.2" y="404.8" font-size="4.8" fill="#1a1a1a">POLE</text>
<text x="185.3" y="404.2" font-size="4.8" fill="#1a1a1a">ACSL1</text>
<text x="167.0" y="411.3" font-size="4.8" fill="#1a1a1a">RFC4</text>
<text x="189.7" y="410.4" font-size="4.8" fill="#1a1a1a">PDK1</text>
<text x="166.6" y="417.0" font-size="4.8" fill="#1a1a1a">STAT1</text>
<text x="184.3" y="417.2" font-size="4.8" fill="#1a1a1a">ISG15</text>
<text x="164.9" y="423.1" font-size="4.8" fill="#1a1a1a">LDHA</text>
<text x="188.2" y="424.1" font-size="4.8" fill="#1a1a1a">BAX</text>
<text x="163.5" y="429.9" font-size="4.8" fill="#1a1a1a">HK2</text>
<text x="183.3" y="430.4" font-size="4.8" fill="#1a1a1a">DLGAP5</text>
<text x="88.5" y="449.9" font-size="4.8" fill="#1a1a1a">GSTCD</text>
<text x="108.1" y="451.4" font-size="4.8" fill="#1a1a1a">PGK1</text>
<text x="90.1" y="457.3" font-size="4.8" fill="#1a1a1a">MYB</text>
<text x="106.2" y="457.5" font-size="4.8" fill="#1a1a1a">PDK1</text>
<text x="85.0" y="463.5" font-size="4.8" fill="#1a1a1a">ECHS1</text>
<text x="108.3" y="464.0" font-size="4.8" fill="#1a1a1a">CCNB1</text>
<text x="89.4" y="470.6" font-size="4.8" fill="#1a1a1a">HK2</text>
<text x="109.7" y="470.4" font-size="4.8" fill="#1a1a1a">ERCC1</text>
<text x="136.0" y="446.8" font-size="4.8" fill="#1a1a1a">SEC61</text>
<text x="154.1" y="446.3" font-size="4.8" fill="#1a1a1a">HNRNPA1</text>
<text x="136.1" y="452.5" font-size="4.8" fill="#1a1a1a">IDH1</text>
<text x="156.3" y="453.1" font-size="4.8" fill="#1a1a1a">TP53I3</text>
<text x="142.1" y="459.1" font-size="4.8" fill="#1a1a1a">TP53I3</text>
<text x="138.6" y="466.0" font-size="4.8" fill="#1a1a1a">STAT1</text>
<text x="157.1" y="465.1" font-size="4.8" fill="#1a1a1a">STAT1</text>
<text x="140.1" y="471.3" font-size="4.8" fill="#1a1a1a">TTK</text>
<text x="228.7" y="442.6" font-size="4.8" fill="#1a1a1a">PDK1</text>
<text x="228.5" y="448.5" font-size="4.8" fill="#1a1a1a">CCND1</text>
<text x="229.6" y="455.1" font-size="4.8" fill="#1a1a1a">NDUFA2</text>
<text x="267.8" y="409.6" font-size="4.8" fill="#1a1a1a">DDB2</text>
<text x="289.8" y="408.9" font-size="4.8" fill="#1a1a1a">FN1</text>
<text x="263.8" y="415.8" font-size="4.8" fill="#1a1a1a">CCND1</text>
<text x="284.6" y="416.8" font-size="4.8" fill="#1a1a1a">NEK2</text>
<text x="266.8" y="423.0" font-size="4.8" fill="#1a1a1a">NDC80</text>
<text x="289.2" y="422.6" font-size="4.8" fill="#1a1a1a">KRT8</text>
<text x="305.5" y="422.5" font-size="4.8" fill="#1a1a1a">GBP1</text>
<text x="267.4" y="428.9" font-size="4.8" fill="#1a1a1a">GBP1</text>
<text x="290.0" y="429.1" font-size="4.8" fill="#1a1a1a">E2F2</text>
<text x="268.2" y="435.4" font-size="4.8" fill="#1a1a1a">E2F2</text>
<text x="288.3" y="434.9" font-size="4.8" fill="#1a1a1a">FECH</text>
<text x="266.6" y="453.8" font-size="4.8" fill="#1a1a1a">SLC2A1</text>
<text x="284.0" y="453.6" font-size="4.8" fill="#1a1a1a">TNFSF10</text>
<text x="300.0" y="454.2" font-size="4.8" fill="#1a1a1a">MCM2</text>
<text x="267.8" y="460.1" font-size="4.8" fill="#1a1a1a">PLK2</text>
<text x="285.1" y="460.4" font-size="4.8" fill="#1a1a1a">NOP56</text>
<text x="307.1" y="460.8" font-size="4.8" fill="#1a1a1a">NEK2</text>
<text x="266.7" y="466.8" font-size="4.8" fill="#1a1a1a">EPB42</text>
<text x="283.0" y="467.6" font-size="4.8" fill="#1a1a1a">ACSL1</text>
<text x="302.8" y="467.4" font-size="4.8" fill="#1a1a1a">TNFSF10</text>
<text x="265.2" y="473.3" font-size="4.8" fill="#1a1a1a">PDIA6</text>
<text x="283.8" y="474.4" font-size="4.8" fill="#1a1a1a">ERCC1</text>
<text x="303.0" y="473.6" font-size="4.8" fill="#1a1a1a">PFKP</text>
<text x="263.1" y="480.1" font-size="4.8" fill="#1a1a1a">MDM2</text>
<text x="283.5" y="479.4" font-size="4.8" fill="#1a1a1a">TOP2A</text>
<text x="307.5" y="480.7" font-size="4.8" fill="#1a1a1a">MCM2</text>
<text x="263.9" y="487.0" font-size="4.8" fill="#1a1a1a">HADHA</text>
<text x="283.3" y="487.2" font-size="4.8" fill="#1a1a1a">CCNB1</text>
<text x="303.3" y="487.0" font-size="4.8" fill="#1a1a1a">CD59</text>
<text x="267.2" y="493.3" font-size="4.8" fill="#1a1a1a">GABARAP</text>
<text x="289.7" y="492.7" font-size="4.8" fill="#1a1a1a">CDK1</text>
<text x="265.3" y="500.1" font-size="4.8" fill="#1a1a1a">TTK</text>
<text x="284.0" y="499.7" font-size="4.8" fill="#1a1a1a">SRSF2</text>
<text x="305.2" y="499.9" font-size="4.8" fill="#1a1a1a">POLD3</text>
<text x="319.2" y="500.7" font-size="4.8" fill="#1a1a1a">CCNB1</text>
<text x="341.8" y="502.1" font-size="4.8" fill="#1a1a1a">TOP2A</text>
<text x="324.3" y="507.7" font-size="4.8" fill="#1a1a1a">GBP1</text>
<text x="346.3" y="507.3" font-size="4.8" fill="#1a1a1a">XPC</text>
<text x="321.5" y="515.0" font-size="4.8" fill="#1a1a1a">ALDOA</text>
<text x="340.4" y="514.1" font-size="4.8" fill="#1a1a1a">PFKP</text>
<text x="318.2" y="521.1" font-size="4.8" fill="#1a1a1a">GSTCD</text>
<text x="335.8" y="520.3" font-size="4.8" fill="#1a1a1a">SRSF2</text>
<text x="245.7" y="519.9" font-size="4.8" fill="#1a1a1a">EIF4E</text>
<text x="264.4" y="520.2" font-size="4.8" fill="#1a1a1a">NPM1</text>
<text x="283.7" y="519.7" font-size="4.8" fill="#1a1a1a">NPM1</text>
<text x="247.5" y="527.5" font-size="4.8" fill="#1a1a1a">E2F2</text>
<text x="268.4" y="526.5" font-size="4.8" fill="#1a1a1a">PCNA</text>
<text x="289.0" y="526.3" font-size="4.8" fill="#1a1a1a">XBP1</text>
<text x="244.9" y="532.4" font-size="4.8" fill="#1a1a1a">PSMA3</text>
<text x="267.8" y="533.3" font-size="4.8" fill="#1a1a1a">NDC80</text>
<text x="287.0" y="532.6" font-size="4.8" fill="#1a1a1a">E2F8</text>
<text x="247.8" y="539.0" font-size="4.8" fill="#1a1a1a">BAX</text>
<text x="267.2" y="539.3" font-size="4.8" fill="#1a1a1a">PSMA3</text>
<text x="288.7" y="539.6" font-size="4.8" fill="#1a1a1a">GINS2</text>
<text x="242.8" y="545.3" font-size="4.8" fill="#1a1a1a">TNFSF10</text>
<text x="266.2" y="546.6" font-size="4.8" fill="#1a1a1a">TP53I3</text>
<text x="286.8" y="546.2" font-size="4.8" fill="#1a1a1a">SEC61</text>
<text x="243.3" y="552.5" font-size="4.8" fill="#1a1a1a">KIF11</text>
<text x="266.5" y="552.2" font-size="4.8" fill="#1a1a1a">HBB</text>
<text x="288.4" y="553.0" font-size="4.8" fill="#1a1a1a">ERCC1</text>
<text x="243.0" y="558.8" font-size="4.8" fill="#1a1a1a">DDB2</text>
<text x="261.4" y="558.6" font-size="4.8" fill="#1a1a1a">GABARAP</text>
<text x="277.8" y="558.9" font-size="4.8" fill="#1a1a1a">CCNE1</text>
<text x="296.3" y="558.9" font-size="4.8" fill="#1a1a1a">NDUFA2</text>
<text x="231.9" y="573.0" font-size="4.8" fill="#1a1a1a">ANXA5</text>
<text x="249.7" y="573.2" font-size="4.8" fill="#1a1a1a">EXOSC2</text>
<text x="273.2" y="574.0" font-size="4.8" fill="#1a1a1a">SLC7A5</text>
<text x="229.3" y="580.0" font-size="4.8" fill="#1a1a1a">E2F1</text>
<text x="252.9" y="580.3" font-size="4.8" fill="#1a1a1a">PDK1</text>
<text x="275.2" y="580.3" font-size="4.8" fill="#1a1a1a">SEC61</text>
<text x="228.9" y="586.2" font-size="4.8" fill="#1a1a1a">HSPA5</text>
<text x="246.0" y="587.0" font-size="4.8" fill="#1a1a1a">SEC61</text>
<text x="269.6" y="585.9" font-size="4.8" fill="#1a1a1a">PFKP</text>
<text x="228.0" y="592.6" font-size="4.8" fill="#1a1a1a">TFF1</text>
<text x="249.5" y="592.9" font-size="4.8" fill="#1a1a1a">GABARAP</text>
<text x="271.9" y="592.7" font-size="4.8" fill="#1a1a1a">BAX</text>
<text x="226.0" y="599.8" font-size="4.8" fill="#1a1a1a">TPI1</text>
<text x="245.3" y="599.6" font-size="4.8" fill="#1a1a1a">HK2</text>
<text x="267.3" y="599.0" font-size="4.8" fill="#1a1a1a">ENO1</text>
<text x="283.5" y="600.1" font-size="4.8" fill="#1a1a1a">ECHS1</text>
<text x="229.2" y="606.7" font-size="4.8" fill="#1a1a1a">IRF1</text>
<text x="246.2" y="606.4" font-size="4.8" fill="#1a1a1a">LDHA</text>
<text x="267.8" y="605.5" font-size="4.8" fill="#1a1a1a">UQCRC1</text>
<text x="226.8" y="612.2" font-size="4.8" fill="#1a1a1a">BIRC3</text>
<text x="244.6" y="613.2" font-size="4.8" fill="#1a1a1a">BAX</text>
<text x="266.9" y="612.0" font-size="4.8" fill="#1a1a1a">GYPA</text>
<text x="231.4" y="618.9" font-size="4.8" fill="#1a1a1a">BCL2</text>
<text x="252.1" y="619.3" font-size="4.8" fill="#1a1a1a">PFKP</text>
<text x="269.1" y="618.9" font-size="4.8" fill="#1a1a1a">TPI1</text>
<text x="226.8" y="625.5" font-size="4.8" fill="#1a1a1a">IDH1</text>
<text x="250.0" y="625.0" font-size="4.8" fill="#1a1a1a">AURKA</text>
<text x="273.4" y="624.6" font-size="4.8" fill="#1a1a1a">S100A13</text>
<text x="228.9" y="631.5" font-size="4.8" fill="#1a1a1a">PFKP</text>
<text x="246.0" y="632.3" font-size="4.8" fill="#1a1a1a">E2F2</text>
<text x="264.6" y="632.5" font-size="4.8" fill="#1a1a1a">CDKN1A</text>
<text x="283.3" y="631.6" font-size="4.8" fill="#1a1a1a">DUT</text>
<text x="231.8" y="638.2" font-size="4.8" fill="#1a1a1a">EIF4E</text>
<text x="248.5" y="638.0" font-size="4.8" fill="#1a1a1a">HSPA9</text>
<text x="268.1" y="637.8" font-size="4.8" fill="#1a1a1a">PDIA6</text>
<text x="229.4" y="645.1" font-size="4.8" fill="#1a1a1a">MCM2</text>
<text x="250.4" y="644.8" font-size="4.8" fill="#1a1a1a">GINS2</text>
<text x="267.5" y="644.0" font-size="4.8" fill="#1a1a1a">CCNB1</text>
<text x="286.4" y="645.4" font-size="4.8" fill="#1a1a1a">ANXA5</text>
<text x="45.3" y="496.3" font-size="4.8" fill="#1a1a1a">ANXA5</text>
<text x="45.7" y="503.1" font-size="4.8" fill="#1a1a1a">GYPA</text>
<text x="45.7" y="509.9" font-size="4.8" fill="#1a1a1a">GABARAP</text>
<text x="62.7" y="510.1" font-size="4.8" fill="#1a1a1a">UQCRC1</text>
<text x="47.8" y="515.5" font-size="4.8" fill="#1a1a1a">COX7A</text>
<text x="51.0" y="521.7" font-size="4.8" fill="#1a1a1a">E2F1</text>
<text x="48.6" y="529.0" font-size="4.8" fill="#1a1a1a">PLK2</text>
<text x="50.9" y="535.8" font-size="4.8" fill="#1a1a1a">NOP56</text>
<text x="83.6" y="509.5" font-size="4.8" fill="#1a1a1a">ECHS1</text>
<text x="101.8" y="509.7" font-size="4.8" fill="#1a1a1a">HADHA</text>
<text x="84.1" y="515.5" font-size="4.8" fill="#1a1a1a">ZBP1</text>
<text x="107.0" y="516.6" font-size="4.8" fill="#1a1a1a">PSMA3</text>
<text x="88.5" y="522.4" font-size="4.8" fill="#1a1a1a">IRF1</text>
<text x="88.1" y="529.9" font-size="4.8" fill="#1a1a1a">GINS2</text>
<text x="42.1" y="564.6" font-size="4.8" fill="#1a1a1a">ADAM9</text>
<text x="58.7" y="564.9" font-size="4.8" fill="#1a1a1a">HSPA5</text>
<text x="46.8" y="571.2" font-size="4.8" fill="#1a1a1a">ZBP1</text>
<text x="70.2" y="570.1" font-size="4.8" fill="#1a1a1a">SLC2A1</text>
<text x="41.5" y="576.4" font-size="4.8" fill="#1a1a1a">KIF11</text>
<text x="64.0" y="577.5" font-size="4.8" fill="#1a1a1a">BUB1</text>
<text x="91.6" y="566.6" font-size="4.8" fill="#1a1a1a">ACAA1</text>
<text x="109.7" y="566.2" font-size="4.8" fill="#1a1a1a">CCNB1</text>
<text x="91.7" y="573.1" font-size="4.8" fill="#1a1a1a">SEC61</text>
<text x="110.0" y="573.1" font-size="4.8" fill="#1a1a1a">CDK1</text>
<text x="89.8" y="579.6" font-size="4.8" fill="#1a1a1a">ISG15</text>
<text x="109.2" y="579.7" font-size="4.8" fill="#1a1a1a">PRIM1</text>
<text x="70.9" y="596.5" font-size="4.8" fill="#1a1a1a">GYPA</text>
<text x="72.6" y="602.7" font-size="4.8" fill="#1a1a1a">CDK1</text>
<text x="70.5" y="609.9" font-size="4.8" fill="#1a1a1a">CDK1</text>
<text x="108.6" y="595.3" font-size="4.8" fill="#1a1a1a">FECH</text>
<text x="125.5" y="595.4" font-size="4.8" fill="#1a1a1a">DUT</text>
<text x="106.7" y="601.4" font-size="4.8" fill="#1a1a1a">CCND1</text>
<text x="124.3" y="601.4" font-size="4.8" fill="#1a1a1a">FASN</text>
<text x="143.4" y="601.6" font-size="4.8" fill="#1a1a1a">ZBP1</text>
<text x="110.8" y="607.8" font-size="4.8" fill="#1a1a1a">EIF4E</text>
<text x="129.6" y="608.2" font-size="4.8" fill="#1a1a1a">TTK</text>
<text x="109.2" y="613.6" font-size="4.8" fill="#1a1a1a">GAPDH</text>
<text x="130.3" y="614.4" font-size="4.8" fill="#1a1a1a">GINS2</text>
<text x="110.0" y="620.8" font-size="4.8" fill="#1a1a1a">DUT</text>
<text x="129.3" y="621.1" font-size="4.8" fill="#1a1a1a">TP53I3</text>
<text x="111.9" y="627.5" font-size="4.8" fill="#1a1a1a">DDB2</text>
<text x="130.9" y="627.5" font-size="4.8" fill="#1a1a1a">IDH1</text>
<text x="111.9" y="633.0" font-size="4.8" fill="#1a1a1a">S100A13</text>
<text x="134.4" y="633.6" font-size="4.8" fill="#1a1a1a">RFC4</text>
<text x="108.4" y="640.4" font-size="4.8" fill="#1a1a1a">SLC25A</text>
<text x="132.3" y="640.2" font-size="4.8" fill="#1a1a1a">TIMM50</text>
<text x="169.4" y="596.6" font-size="4.8" fill="#1a1a1a">HBB</text>
<text x="187.8" y="596.3" font-size="4.8" fill="#1a1a1a">BCL2</text>
<text x="207.9" y="596.7" font-size="4.8" fill="#1a1a1a">ADAM9</text>
<text x="168.3" y="603.2" font-size="4.8" fill="#1a1a1a">CCND1</text>
<text x="191.9" y="603.2" font-size="4.8" fill="#1a1a1a">MCM2</text>
<text x="208.0" y="602.0" font-size="4.8" fill="#1a1a1a">ECHS1</text>
<text x="166.2" y="609.4" font-size="4.8" fill="#1a1a1a">FECH</text>
<text x="188.9" y="609.5" font-size="4.8" fill="#1a1a1a">SLC25A</text>
<text x="205.4" y="609.5" font-size="4.8" fill="#1a1a1a">DLGAP5</text>
<text x="169.0" y="616.0" font-size="4.8" fill="#1a1a1a">ACSL1</text>
<text x="186.3" y="615.0" font-size="4.8" fill="#1a1a1a">CASP3</text>
<text x="208.6" y="615.2" font-size="4.8" fill="#1a1a1a">FASN</text>
<text x="165.1" y="622.1" font-size="4.8" fill="#1a1a1a">RFC4</text>
<text x="181.5" y="622.6" font-size="4.8" fill="#1a1a1a">SLC25A</text>
<text x="199.4" y="622.0" font-size="4.8" fill="#1a1a1a">BIRC3</text>
<text x="164.8" y="629.0" font-size="4.8" fill="#1a1a1a">PRIM1</text>
<text x="188.6" y="629.2" font-size="4.8" fill="#1a1a1a">MSH2</text>
<text x="205.2" y="628.4" font-size="4.8" fill="#1a1a1a">PCNA</text>
<text x="166.4" y="634.5" font-size="4.8" fill="#1a1a1a">BUB1</text>
<text x="185.1" y="635.5" font-size="4.8" fill="#1a1a1a">EIF4E</text>
<text x="208.2" y="635.6" font-size="4.8" fill="#1a1a1a">RAD51</text>
<text x="166.1" y="642.1" font-size="4.8" fill="#1a1a1a">TIMM50</text>
<text x="182.8" y="640.7" font-size="4.8" fill="#1a1a1a">IRF1</text>
<text x="199.9" y="641.9" font-size="4.8" fill="#1a1a1a">SESN1</text>
<text x="160.6" y="643.3" font-size="4.8" fill="#1a1a1a">RBBP8</text>
<text x="155.8" y="649.1" font-size="4.8" fill="#1a1a1a">DDB2</text>
<text x="160.3" y="656.8" font-size="4.8" fill="#1a1a1a">STAT1</text>
<text x="154.4" y="565.0" font-size="4.8" fill="#1a1a1a">PRIM1</text>
<text x="170.6" y="564.5" font-size="4.8" fill="#1a1a1a">BAX</text>
<text x="152.4" y="571.0" font-size="4.8" fill="#1a1a1a">HSPA9</text>
<text x="175.5" y="570.7" font-size="4.8" fill="#1a1a1a">GSTCD</text>
<text x="151.2" y="576.5" font-size="4.8" fill="#1a1a1a">ATF4</text>
<text x="171.1" y="577.8" font-size="4.8" fill="#1a1a1a">PDIA6</text>
<text x="151.2" y="584.3" font-size="4.8" fill="#1a1a1a">E2F8</text>
<text x="168.0" y="583.8" font-size="4.8" fill="#1a1a1a">CDKN1A</text>
<ellipse cx="147.5" cy="504.5" rx="7.2" ry="6" fill="none" stroke="#222" stroke-width="0.9"/>
<circle cx="152.8" cy="515.8" r="9" fill="#4d9c95" stroke="#1a2f2d" stroke-width="0.7"/>
<text x="152.80" y="518.20" font-size="6.6" fill="#111" text-anchor="middle" font-weight="bold">PBX1</text>
<text x="91.50" y="396.20" font-size="10.2" fill="#a47a2c" font-weight="bold" textLength="36.5" lengthAdjust="spacingAndGlyphs">Oxidative</text>
<text x="91.50" y="404.20" font-size="10.2" fill="#a47a2c" font-weight="bold" textLength="62.1" lengthAdjust="spacingAndGlyphs">phosphorylation</text>
<text x="159.00" y="387.90" font-size="10.2" fill="#b9652e" font-weight="bold" textLength="48.6" lengthAdjust="spacingAndGlyphs">Complement</text>
<text x="82.20" y="487.00" font-size="10.2" fill="#b9652e" font-weight="bold" textLength="39.6" lengthAdjust="spacingAndGlyphs">Glycolysis</text>
<text x="126.70" y="490.20" font-size="10.2" fill="#c8823e" font-weight="bold" textLength="70" lengthAdjust="spacingAndGlyphs">Fatty acid metabol</text>
<text x="184.70" y="447.80" font-size="10.2" fill="#b9652e" font-weight="bold" textLength="39" lengthAdjust="spacingAndGlyphs">IL2/STAT5</text>
<text x="184.70" y="457.20" font-size="10.2" fill="#b9652e" font-weight="bold" textLength="33.5" lengthAdjust="spacingAndGlyphs">signaling</text>
<text x="231.00" y="421.40" font-size="10.2" fill="#23237a" font-weight="bold" textLength="17" lengthAdjust="spacingAndGlyphs">ERα</text>
<text x="231.00" y="431.10" font-size="10.2" fill="#23237a" font-weight="bold" textLength="31" lengthAdjust="spacingAndGlyphs">response</text>
<text x="225.00" y="480.10" font-size="10.2" fill="#6a2e1e" font-weight="bold" textLength="33" lengthAdjust="spacingAndGlyphs">MTORC1</text>
<text x="225.00" y="490.40" font-size="10.2" fill="#6a2e1e" font-weight="bold" textLength="37" lengthAdjust="spacingAndGlyphs">Signaling</text>
<text x="323.80" y="537.30" font-size="10.2" fill="#1b5a36" font-weight="bold" textLength="48.5" lengthAdjust="spacingAndGlyphs">p53 Pathway</text>
<text x="223.70" y="515.40" font-size="10.2" fill="#3f7a2e" font-weight="bold" textLength="46" lengthAdjust="spacingAndGlyphs">MYC targets</text>
<text x="291.50" y="651.90" font-size="10.2" fill="#3a3a1e" font-weight="bold" textLength="46.2" lengthAdjust="spacingAndGlyphs">E2F Targets</text>
<text x="31.00" y="488.00" font-size="10.2" fill="#c0302a" font-weight="bold" textLength="41.8" lengthAdjust="spacingAndGlyphs">DNA repair</text>
<text x="87.60" y="544.90" font-size="10.2" fill="#c8305a" font-weight="bold" textLength="51.2" lengthAdjust="spacingAndGlyphs">UV Response</text>
<text x="35.00" y="553.50" font-size="10.2" fill="#8a52aa" font-weight="bold" textLength="68.8" lengthAdjust="spacingAndGlyphs">Heme Metabolism</text>
<text x="111.00" y="560.20" font-size="10.2" fill="#9a52a2" font-weight="bold" textLength="29" lengthAdjust="spacingAndGlyphs">Hypoxia</text>
<text x="64.30" y="626.40" font-size="10.2" fill="#7f50c4" font-weight="bold" textLength="17" lengthAdjust="spacingAndGlyphs">IFNγ</text>
<text x="64.30" y="635.80" font-size="10.2" fill="#7f50c4" font-weight="bold" textLength="38.4" lengthAdjust="spacingAndGlyphs">Response</text>
<text x="95.00" y="656.60" font-size="10.2" fill="#1e1e58" font-weight="bold" textLength="55" lengthAdjust="spacingAndGlyphs">Mitotic spindle</text>
<text x="189.20" y="657.80" font-size="10.2" fill="#1e1e58" font-weight="bold" textLength="63.8" lengthAdjust="spacingAndGlyphs">G2M Checkpoint</text>
<text x="153.00" y="674.40" font-size="10.2" fill="#5252aa" font-weight="bold" textLength="39.3" lengthAdjust="spacingAndGlyphs">Apoptosis</text>
<text x="149.90" y="547.60" font-size="10.2" fill="#3a4a5c" font-weight="bold" textLength="64.7" lengthAdjust="spacingAndGlyphs">Unfolded Protein</text>
<text x="149.90" y="557.40" font-size="10.2" fill="#3a4a5c" font-weight="bold" textLength="35" lengthAdjust="spacingAndGlyphs">Response</text>
<text x="194.90" y="580.30" font-size="6.2" fill="#d0351f" font-weight="bold">FOXM1</text>
<text x="199.00" y="586.80" font-size="6.2" fill="#d0351f" font-weight="bold">NEK2</text>
<text x="225.30" y="561.50" font-size="6.2" fill="#d0351f" font-weight="bold">E2F8</text>
<text x="218.60" y="568.70" font-size="6.2" fill="#d0351f" font-weight="bold">E2F2</text>
<text x="213.20" y="576.80" font-size="6.2" fill="#d0351f" font-weight="bold">E2F1</text>
<text x="55.30" y="603.80" font-size="6.2" fill="#d0351f" font-weight="bold">ZBP1</text>
<text x="7.20" y="381.30" font-size="11.5" fill="#000" font-weight="bold">E</text>
<rect x="286.00" y="659.00" width="76.00" height="38.00" fill="#fff" opacity="0.85"/>
<text x="283.00" y="667.50" font-size="6.8" fill="#333" textLength="33.8" lengthAdjust="spacingAndGlyphs">Repression</text>
<text x="327.80" y="667.50" font-size="6.8" fill="#333" textLength="31.4" lengthAdjust="spacingAndGlyphs">Activation</text>
<rect x="303.80" y="670.80" width="33.20" height="6.20" fill="url(#beta)"/>
<text x="298.50" y="677.00" font-size="6.8" fill="#222" text-anchor="middle">–4</text>
<text x="341.40" y="677.00" font-size="6.8" fill="#222" text-anchor="middle">4</text>
<text x="321.50" y="687.60" font-size="6.8" fill="#333" text-anchor="middle" textLength="35.4" lengthAdjust="spacingAndGlyphs">BETA score</text>
<text x="322.30" y="695.30" font-size="6.8" fill="#333" text-anchor="middle" textLength="24.6" lengthAdjust="spacingAndGlyphs">(–log10)</text>
<rect x="0.50" y="0.50" width="519.00" height="703.00" fill="none" stroke="#000" stroke-width="2"/>
<text x="7.00" y="15.00" font-size="10.5" fill="#000" font-weight="bold">A</text>
<text x="67.70" y="19.60" font-size="10.6" fill="#000" text-anchor="middle" font-weight="bold" textLength="30.5" lengthAdjust="spacingAndGlyphs">MM.1S</text>
<text x="204.50" y="19.60" font-size="10.6" fill="#000" text-anchor="middle" font-weight="bold" textLength="23" lengthAdjust="spacingAndGlyphs">U266</text>
<line x1="7.00" y1="23.20" x2="129.00" y2="23.20" stroke="#111" stroke-width="1"/>
<line x1="143.00" y1="23.20" x2="264.00" y2="23.20" stroke="#111" stroke-width="1"/>
<text x="13.80" y="34.00" font-size="9.2" fill="#111" font-style="italic" textLength="30.7" lengthAdjust="spacingAndGlyphs">ChIPseq</text>
<text x="78.80" y="34.00" font-size="9.2" fill="#111" font-style="italic" textLength="46.2" lengthAdjust="spacingAndGlyphs">ChromHMM</text>
<text x="155.60" y="34.00" font-size="9.2" fill="#111" font-style="italic" textLength="31.3" lengthAdjust="spacingAndGlyphs">ChIPseq</text>
<text x="213.00" y="34.00" font-size="9.2" fill="#111" font-style="italic" textLength="47.2" lengthAdjust="spacingAndGlyphs">ChromHMM</text>
<rect x="6.50" y="37.80" width="4.00" height="38.70" fill="#c8102e"/>
<rect x="6.50" y="76.50" width="4.00" height="73.70" fill="#5a1a6e"/>
<rect x="6.50" y="150.20" width="4.00" height="81.50" fill="#17508c"/>
<rect x="6.50" y="231.70" width="4.00" height="15.00" fill="#c8c8c8"/>
<line x1="6.50" y1="76.50" x2="10.50" y2="76.50" stroke="#1a0a10" stroke-width="0.8"/>
<line x1="6.50" y1="150.20" x2="10.50" y2="150.20" stroke="#1a0a10" stroke-width="0.8"/>
<line x1="6.50" y1="231.70" x2="10.50" y2="231.70" stroke="#1a0a10" stroke-width="0.8"/>
<rect x="6.50" y="37.80" width="4.00" height="208.90" fill="none" stroke="#444" stroke-width="0.7"/>
<rect x="149.00" y="37.80" width="4.00" height="59.70" fill="#c8102e"/>
<rect x="149.00" y="97.50" width="4.00" height="61.50" fill="#5a1a6e"/>
<rect x="149.00" y="159.00" width="4.00" height="69.80" fill="#17508c"/>
<rect x="149.00" y="228.80" width="4.00" height="17.90" fill="#e0e0e0"/>
<line x1="149.00" y1="97.50" x2="153.00" y2="97.50" stroke="#1a0a10" stroke-width="0.8"/>
<line x1="149.00" y1="159.00" x2="153.00" y2="159.00" stroke="#1a0a10" stroke-width="0.8"/>
<line x1="149.00" y1="228.80" x2="153.00" y2="228.80" stroke="#1a0a10" stroke-width="0.8"/>
<rect x="149.00" y="37.80" width="4.00" height="208.90" fill="none" stroke="#444" stroke-width="0.7"/>
<rect x="13.20" y="38.20" width="30.50" height="208.40" fill="#f1f1f1"/>
<g mask="url(#nmask3)"><rect x="13.2" y="38.2" width="30.500000000000004" height="208.39999999999998" filter="url(#noise3)"/></g>
<rect x="13.20" y="38.20" width="30.50" height="208.40" fill="url(#hmtop3)"/>
<polygon points="22.5,38.2 34.5,38.2 29.7,131.98 27.3,131.98" fill="url(#halo3)"/>
<rect x="27.38" y="38.20" width="2.39" height="1.17" fill="#111" opacity="0.54"/>
<rect x="27.39" y="39.37" width="2.70" height="0.81" fill="#111" opacity="0.41"/>
<rect x="27.28" y="40.18" width="2.40" height="1.80" fill="#111" opacity="0.46"/>
<rect x="26.83" y="41.98" width="2.85" height="1.44" fill="#111" opacity="0.51"/>
<rect x="27.33" y="43.42" width="2.69" height="1.32" fill="#111" opacity="0.61"/>
<rect x="27.21" y="44.74" width="2.71" height="1.56" fill="#111" opacity="0.41"/>
<rect x="27.28" y="46.30" width="2.41" height="1.67" fill="#111" opacity="0.40"/>
<rect x="27.43" y="47.96" width="2.73" height="1.51" fill="#111" opacity="0.61"/>
<rect x="27.57" y="49.48" width="2.47" height="1.24" fill="#111" opacity="0.58"/>
<rect x="26.88" y="50.72" width="2.85" height="0.94" fill="#111" opacity="0.41"/>
<rect x="26.90" y="51.66" width="2.91" height="1.43" fill="#111" opacity="0.49"/>
<rect x="27.29" y="53.09" width="2.54" height="1.15" fill="#111" opacity="0.48"/>
<rect x="27.50" y="54.24" width="2.60" height="1.48" fill="#111" opacity="0.60"/>
<rect x="26.86" y="55.72" width="2.81" height="1.47" fill="#111" opacity="0.62"/>
<rect x="27.15" y="57.19" width="2.81" height="1.70" fill="#111" opacity="0.61"/>
<rect x="27.21" y="58.90" width="2.68" height="1.63" fill="#111" opacity="0.42"/>
<rect x="27.68" y="60.53" width="2.33" height="1.65" fill="#111" opacity="0.38"/>
<rect x="27.17" y="62.18" width="2.17" height="1.21" fill="#111" opacity="0.57"/>
<rect x="27.02" y="63.39" width="2.33" height="1.67" fill="#111" opacity="0.56"/>
<rect x="27.09" y="65.06" width="2.58" height="1.52" fill="#111" opacity="0.37"/>
<rect x="27.46" y="66.58" width="2.78" height="1.31" fill="#111" opacity="0.60"/>
<rect x="27.01" y="67.89" width="2.32" height="1.40" fill="#111" opacity="0.38"/>
<rect x="27.15" y="69.29" width="2.22" height="1.41" fill="#111" opacity="0.46"/>
<rect x="27.77" y="70.70" width="2.09" height="1.11" fill="#111" opacity="0.57"/>
<rect x="27.13" y="71.81" width="2.77" height="1.26" fill="#111" opacity="0.45"/>
<rect x="27.30" y="73.07" width="2.56" height="1.36" fill="#111" opacity="0.50"/>
<rect x="27.26" y="74.43" width="2.80" height="1.23" fill="#111" opacity="0.47"/>
<rect x="27.40" y="75.66" width="2.23" height="1.78" fill="#111" opacity="0.42"/>
<rect x="27.32" y="77.44" width="2.47" height="1.22" fill="#111" opacity="0.35"/>
<rect x="27.17" y="78.66" width="2.04" height="1.43" fill="#111" opacity="0.50"/>
<rect x="27.14" y="80.09" width="2.52" height="1.48" fill="#111" opacity="0.46"/>
<rect x="26.90" y="81.57" width="2.58" height="0.82" fill="#111" opacity="0.52"/>
<rect x="27.19" y="82.39" width="2.55" height="1.05" fill="#111" opacity="0.58"/>
<rect x="27.13" y="83.44" width="2.48" height="1.16" fill="#111" opacity="0.41"/>
<rect x="27.27" y="84.60" width="2.29" height="1.10" fill="#111" opacity="0.48"/>
<rect x="27.36" y="85.70" width="2.61" height="1.37" fill="#111" opacity="0.34"/>
<rect x="27.20" y="87.07" width="2.24" height="1.60" fill="#111" opacity="0.39"/>
<rect x="27.16" y="88.68" width="2.13" height="1.50" fill="#111" opacity="0.44"/>
<rect x="27.34" y="90.18" width="2.23" height="1.63" fill="#111" opacity="0.41"/>
<rect x="27.28" y="91.81" width="2.65" height="1.14" fill="#111" opacity="0.37"/>
<rect x="26.90" y="92.95" width="2.67" height="1.03" fill="#111" opacity="0.43"/>
<rect x="27.55" y="93.97" width="2.38" height="1.61" fill="#111" opacity="0.37"/>
<rect x="27.55" y="95.58" width="2.10" height="1.61" fill="#111" opacity="0.39"/>
<rect x="27.06" y="97.19" width="2.59" height="0.93" fill="#111" opacity="0.40"/>
<rect x="27.15" y="98.11" width="2.58" height="1.15" fill="#111" opacity="0.38"/>
<rect x="27.12" y="99.26" width="2.27" height="1.72" fill="#111" opacity="0.41"/>
<rect x="27.87" y="100.98" width="1.93" height="1.68" fill="#111" opacity="0.55"/>
<rect x="27.17" y="102.66" width="2.27" height="1.73" fill="#111" opacity="0.54"/>
<rect x="27.26" y="104.39" width="2.51" height="1.46" fill="#111" opacity="0.51"/>
<rect x="27.13" y="105.85" width="2.14" height="1.03" fill="#111" opacity="0.39"/>
<rect x="26.99" y="106.88" width="2.37" height="1.61" fill="#111" opacity="0.37"/>
<rect x="27.47" y="108.49" width="2.62" height="1.72" fill="#111" opacity="0.47"/>
<rect x="27.37" y="110.21" width="2.61" height="0.81" fill="#111" opacity="0.44"/>
<rect x="27.51" y="111.03" width="2.02" height="1.46" fill="#111" opacity="0.37"/>
<rect x="27.28" y="112.49" width="2.21" height="1.41" fill="#111" opacity="0.53"/>
<rect x="27.66" y="113.90" width="2.08" height="1.28" fill="#111" opacity="0.51"/>
<rect x="27.65" y="115.18" width="2.15" height="1.33" fill="#111" opacity="0.34"/>
<rect x="27.71" y="116.51" width="2.00" height="1.72" fill="#111" opacity="0.49"/>
<rect x="27.50" y="118.24" width="2.51" height="1.43" fill="#111" opacity="0.29"/>
<rect x="27.58" y="119.66" width="1.89" height="1.07" fill="#111" opacity="0.35"/>
<rect x="27.06" y="120.73" width="2.18" height="1.58" fill="#111" opacity="0.40"/>
<rect x="27.26" y="122.31" width="1.88" height="0.92" fill="#111" opacity="0.31"/>
<rect x="27.20" y="123.23" width="2.61" height="0.89" fill="#111" opacity="0.49"/>
<rect x="27.56" y="124.12" width="2.08" height="1.15" fill="#111" opacity="0.35"/>
<rect x="27.23" y="125.27" width="2.29" height="0.99" fill="#111" opacity="0.36"/>
<rect x="27.46" y="126.26" width="1.92" height="1.52" fill="#111" opacity="0.41"/>
<rect x="27.63" y="127.78" width="1.88" height="1.17" fill="#111" opacity="0.32"/>
<rect x="27.37" y="128.95" width="2.43" height="1.60" fill="#111" opacity="0.36"/>
<rect x="27.57" y="130.55" width="2.15" height="1.30" fill="#111" opacity="0.36"/>
<rect x="27.26" y="131.85" width="2.13" height="1.26" fill="#111" opacity="0.44"/>
<rect x="27.34" y="133.11" width="2.22" height="0.87" fill="#111" opacity="0.44"/>
<rect x="27.35" y="133.98" width="2.13" height="1.74" fill="#111" opacity="0.48"/>
<rect x="27.23" y="135.72" width="2.50" height="1.06" fill="#111" opacity="0.46"/>
<rect x="27.83" y="136.78" width="1.87" height="1.46" fill="#111" opacity="0.46"/>
<rect x="27.34" y="138.24" width="2.40" height="1.53" fill="#111" opacity="0.42"/>
<rect x="27.33" y="139.78" width="1.84" height="0.80" fill="#111" opacity="0.40"/>
<rect x="27.03" y="140.58" width="2.38" height="0.89" fill="#111" opacity="0.26"/>
<rect x="27.51" y="141.47" width="2.46" height="0.82" fill="#111" opacity="0.30"/>
<rect x="27.81" y="142.30" width="1.85" height="1.47" fill="#111" opacity="0.46"/>
<rect x="26.92" y="143.77" width="2.51" height="1.60" fill="#111" opacity="0.39"/>
<rect x="27.05" y="145.37" width="2.35" height="1.52" fill="#111" opacity="0.37"/>
<rect x="27.21" y="146.88" width="2.33" height="0.86" fill="#111" opacity="0.48"/>
<rect x="27.19" y="147.74" width="2.18" height="1.04" fill="#111" opacity="0.45"/>
<rect x="27.46" y="148.79" width="1.92" height="1.55" fill="#111" opacity="0.39"/>
<rect x="27.44" y="150.34" width="2.01" height="1.15" fill="#111" opacity="0.34"/>
<rect x="27.55" y="151.49" width="1.78" height="1.77" fill="#111" opacity="0.36"/>
<rect x="27.53" y="153.26" width="2.30" height="1.49" fill="#111" opacity="0.27"/>
<rect x="27.48" y="154.75" width="2.24" height="1.28" fill="#111" opacity="0.36"/>
<rect x="27.47" y="156.04" width="2.41" height="0.90" fill="#111" opacity="0.27"/>
<rect x="27.44" y="156.93" width="2.42" height="1.24" fill="#111" opacity="0.36"/>
<rect x="27.64" y="158.18" width="1.83" height="1.00" fill="#111" opacity="0.29"/>
<rect x="27.85" y="159.18" width="1.93" height="1.49" fill="#111" opacity="0.28"/>
<rect x="27.79" y="160.67" width="1.91" height="1.21" fill="#111" opacity="0.40"/>
<rect x="27.10" y="161.88" width="2.13" height="1.02" fill="#111" opacity="0.29"/>
<rect x="27.38" y="162.90" width="2.05" height="0.97" fill="#111" opacity="0.32"/>
<rect x="27.89" y="163.87" width="1.91" height="0.94" fill="#111" opacity="0.41"/>
<rect x="27.72" y="164.81" width="2.04" height="1.27" fill="#111" opacity="0.37"/>
<rect x="27.50" y="166.08" width="2.31" height="1.28" fill="#111" opacity="0.36"/>
<rect x="27.66" y="167.36" width="2.33" height="1.53" fill="#111" opacity="0.31"/>
<rect x="27.65" y="168.90" width="2.01" height="1.03" fill="#111" opacity="0.27"/>
<rect x="27.23" y="169.93" width="2.17" height="1.65" fill="#111" opacity="0.45"/>
<rect x="27.76" y="171.59" width="1.78" height="0.99" fill="#111" opacity="0.27"/>
<rect x="27.60" y="172.57" width="2.31" height="1.06" fill="#111" opacity="0.43"/>
<rect x="27.28" y="173.63" width="1.87" height="1.53" fill="#111" opacity="0.31"/>
<rect x="27.56" y="175.16" width="1.68" height="1.09" fill="#111" opacity="0.41"/>
<rect x="27.35" y="176.25" width="2.07" height="0.81" fill="#111" opacity="0.37"/>
<rect x="27.58" y="177.06" width="1.95" height="1.01" fill="#111" opacity="0.32"/>
<rect x="27.05" y="178.07" width="2.36" height="1.34" fill="#111" opacity="0.30"/>
<rect x="27.87" y="179.41" width="1.81" height="0.91" fill="#111" opacity="0.36"/>
<rect x="27.26" y="180.32" width="2.31" height="1.74" fill="#111" opacity="0.22"/>
<rect x="27.52" y="182.06" width="2.20" height="1.10" fill="#111" opacity="0.38"/>
<rect x="27.63" y="183.16" width="2.10" height="1.07" fill="#111" opacity="0.39"/>
<rect x="27.06" y="184.23" width="2.34" height="1.34" fill="#111" opacity="0.36"/>
<rect x="27.65" y="185.56" width="1.96" height="1.52" fill="#111" opacity="0.28"/>
<rect x="27.59" y="187.08" width="2.01" height="1.45" fill="#111" opacity="0.23"/>
<rect x="27.39" y="188.52" width="1.69" height="1.46" fill="#111" opacity="0.41"/>
<rect x="27.51" y="189.98" width="2.29" height="1.13" fill="#111" opacity="0.22"/>
<rect x="27.46" y="191.11" width="2.02" height="1.45" fill="#111" opacity="0.32"/>
<rect x="27.76" y="192.56" width="1.78" height="0.87" fill="#111" opacity="0.22"/>
<rect x="27.33" y="193.43" width="2.13" height="1.54" fill="#111" opacity="0.31"/>
<rect x="27.31" y="194.97" width="1.74" height="1.67" fill="#111" opacity="0.27"/>
<rect x="27.44" y="196.64" width="1.92" height="1.57" fill="#111" opacity="0.23"/>
<rect x="27.80" y="198.21" width="1.78" height="1.34" fill="#111" opacity="0.27"/>
<rect x="27.45" y="199.55" width="1.79" height="0.91" fill="#111" opacity="0.38"/>
<rect x="27.87" y="200.46" width="1.58" height="1.58" fill="#111" opacity="0.19"/>
<rect x="27.85" y="202.04" width="1.64" height="1.22" fill="#111" opacity="0.21"/>
<rect x="27.18" y="203.26" width="2.14" height="1.39" fill="#111" opacity="0.35"/>
<rect x="27.65" y="204.65" width="1.80" height="1.33" fill="#111" opacity="0.21"/>
<rect x="27.35" y="205.98" width="1.64" height="1.58" fill="#111" opacity="0.22"/>
<rect x="27.36" y="207.56" width="2.11" height="1.75" fill="#111" opacity="0.38"/>
<rect x="27.88" y="209.31" width="1.90" height="1.43" fill="#111" opacity="0.30"/>
<rect x="27.49" y="210.74" width="2.00" height="1.66" fill="#111" opacity="0.23"/>
<rect x="27.72" y="212.40" width="1.93" height="0.80" fill="#111" opacity="0.33"/>
<rect x="27.49" y="213.20" width="1.97" height="1.32" fill="#111" opacity="0.27"/>
<rect x="27.70" y="214.53" width="1.59" height="0.84" fill="#111" opacity="0.28"/>
<rect x="27.85" y="215.37" width="1.95" height="1.37" fill="#111" opacity="0.26"/>
<rect x="27.51" y="216.73" width="2.14" height="1.59" fill="#111" opacity="0.18"/>
<rect x="27.47" y="218.32" width="1.46" height="1.03" fill="#111" opacity="0.23"/>
<rect x="27.83" y="219.36" width="1.85" height="1.12" fill="#111" opacity="0.37"/>
<rect x="27.59" y="220.48" width="1.97" height="1.66" fill="#111" opacity="0.17"/>
<rect x="27.32" y="222.14" width="2.15" height="1.54" fill="#111" opacity="0.31"/>
<rect x="27.43" y="223.68" width="2.04" height="1.66" fill="#111" opacity="0.37"/>
<rect x="27.18" y="225.34" width="2.00" height="0.91" fill="#111" opacity="0.25"/>
<rect x="27.77" y="226.25" width="1.45" height="0.96" fill="#111" opacity="0.18"/>
<rect x="27.63" y="227.21" width="1.94" height="1.22" fill="#111" opacity="0.26"/>
<rect x="27.62" y="228.43" width="1.62" height="1.56" fill="#111" opacity="0.24"/>
<rect x="27.65" y="229.99" width="1.52" height="1.52" fill="#111" opacity="0.35"/>
<rect x="27.48" y="231.51" width="1.66" height="1.40" fill="#111" opacity="0.25"/>
<rect x="27.57" y="232.91" width="1.36" height="1.58" fill="#111" opacity="0.17"/>
<rect x="27.41" y="234.49" width="1.72" height="1.01" fill="#111" opacity="0.17"/>
<rect x="27.39" y="235.50" width="1.67" height="0.83" fill="#111" opacity="0.16"/>
<rect x="27.43" y="236.33" width="1.48" height="0.86" fill="#111" opacity="0.24"/>
<rect x="27.34" y="237.18" width="1.70" height="1.50" fill="#111" opacity="0.22"/>
<rect x="28.00" y="238.69" width="1.66" height="0.83" fill="#111" opacity="0.21"/>
<rect x="27.51" y="239.51" width="1.51" height="1.27" fill="#111" opacity="0.13"/>
<rect x="27.27" y="240.79" width="1.82" height="0.92" fill="#111" opacity="0.19"/>
<rect x="27.52" y="241.71" width="1.90" height="1.59" fill="#111" opacity="0.18"/>
<rect x="27.31" y="243.30" width="2.06" height="1.05" fill="#111" opacity="0.18"/>
<rect x="27.23" y="244.35" width="1.96" height="1.14" fill="#111" opacity="0.26"/>
<rect x="27.23" y="245.50" width="1.85" height="1.39" fill="#111" opacity="0.34"/>
<rect x="13.20" y="38.20" width="30.50" height="1.60" fill="url(#topband)"/>
<rect x="13.20" y="38.20" width="30.50" height="208.40" fill="none" stroke="#444" stroke-width="1"/>
<rect x="155.40" y="38.20" width="30.90" height="208.40" fill="#f6f6f6"/>
<g mask="url(#nmask7)"><rect x="155.4" y="38.2" width="30.900000000000006" height="208.39999999999998" filter="url(#noise7)"/></g>
<rect x="155.40" y="38.20" width="30.90" height="208.40" fill="url(#hmtop7)"/>
<polygon points="164.0,38.2 178.0,38.2 172.2,121.56 169.8,121.56" fill="url(#halo7)"/>
<rect x="168.29" y="38.20" width="4.82" height="1.45" fill="#111" opacity="0.77"/>
<rect x="168.53" y="39.65" width="4.95" height="0.86" fill="#111" opacity="0.82"/>
<rect x="168.52" y="40.51" width="4.39" height="0.87" fill="#111" opacity="0.84"/>
<rect x="168.44" y="41.38" width="4.73" height="0.92" fill="#111" opacity="0.95"/>
<rect x="168.49" y="42.30" width="4.87" height="1.38" fill="#111" opacity="0.95"/>
<rect x="168.29" y="43.68" width="5.13" height="1.66" fill="#111" opacity="0.70"/>
<rect x="169.12" y="45.34" width="4.20" height="1.11" fill="#111" opacity="0.71"/>
<rect x="168.83" y="46.45" width="4.17" height="1.44" fill="#111" opacity="0.85"/>
<rect x="168.57" y="47.89" width="4.44" height="0.86" fill="#111" opacity="0.68"/>
<rect x="168.80" y="48.75" width="4.52" height="1.11" fill="#111" opacity="0.79"/>
<rect x="169.03" y="49.86" width="4.23" height="1.59" fill="#111" opacity="0.74"/>
<rect x="169.30" y="51.45" width="3.92" height="1.33" fill="#111" opacity="0.82"/>
<rect x="168.57" y="52.78" width="4.32" height="1.78" fill="#111" opacity="0.72"/>
<rect x="169.04" y="54.56" width="3.90" height="0.95" fill="#111" opacity="0.85"/>
<rect x="169.32" y="55.51" width="3.46" height="1.56" fill="#111" opacity="0.82"/>
<rect x="168.97" y="57.08" width="4.20" height="1.50" fill="#111" opacity="0.71"/>
<rect x="169.41" y="58.57" width="3.81" height="1.64" fill="#111" opacity="0.74"/>
<rect x="169.34" y="60.21" width="3.60" height="0.86" fill="#111" opacity="0.79"/>
<rect x="168.99" y="61.07" width="3.72" height="1.62" fill="#111" opacity="0.89"/>
<rect x="169.29" y="62.69" width="3.36" height="0.82" fill="#111" opacity="0.78"/>
<rect x="169.64" y="63.52" width="3.09" height="0.86" fill="#111" opacity="0.61"/>
<rect x="169.76" y="64.37" width="3.00" height="1.19" fill="#111" opacity="0.64"/>
<rect x="169.83" y="65.57" width="2.87" height="1.35" fill="#111" opacity="0.70"/>
<rect x="169.18" y="66.92" width="3.53" height="1.08" fill="#111" opacity="0.81"/>
<rect x="169.26" y="67.99" width="3.00" height="1.76" fill="#111" opacity="0.81"/>
<rect x="169.64" y="69.75" width="2.71" height="1.03" fill="#111" opacity="0.61"/>
<rect x="169.42" y="70.78" width="3.06" height="0.80" fill="#111" opacity="0.61"/>
<rect x="169.74" y="71.59" width="2.79" height="1.75" fill="#111" opacity="0.70"/>
<rect x="169.28" y="73.34" width="2.82" height="1.48" fill="#111" opacity="0.70"/>
<rect x="169.65" y="74.82" width="3.12" height="1.67" fill="#111" opacity="0.74"/>
<rect x="169.84" y="76.49" width="2.50" height="0.90" fill="#111" opacity="0.62"/>
<rect x="169.71" y="77.40" width="2.12" height="1.01" fill="#111" opacity="0.51"/>
<rect x="169.59" y="78.41" width="2.33" height="0.80" fill="#111" opacity="0.50"/>
<rect x="170.24" y="79.21" width="2.04" height="0.83" fill="#111" opacity="0.59"/>
<rect x="169.77" y="80.03" width="2.25" height="1.05" fill="#111" opacity="0.52"/>
<rect x="170.35" y="81.08" width="2.00" height="1.65" fill="#111" opacity="0.51"/>
<rect x="169.67" y="82.73" width="2.10" height="0.89" fill="#111" opacity="0.61"/>
<rect x="169.78" y="83.62" width="1.97" height="1.63" fill="#111" opacity="0.54"/>
<rect x="169.93" y="85.25" width="1.64" height="1.33" fill="#111" opacity="0.73"/>
<rect x="170.26" y="86.57" width="2.16" height="1.33" fill="#111" opacity="0.45"/>
<rect x="169.67" y="87.90" width="2.47" height="1.06" fill="#111" opacity="0.64"/>
<rect x="170.31" y="88.96" width="1.77" height="1.33" fill="#111" opacity="0.66"/>
<rect x="170.37" y="90.30" width="1.93" height="1.61" fill="#111" opacity="0.49"/>
<rect x="169.94" y="91.91" width="2.45" height="1.62" fill="#111" opacity="0.64"/>
<rect x="169.76" y="93.53" width="1.81" height="1.16" fill="#111" opacity="0.55"/>
<rect x="170.33" y="94.68" width="1.61" height="1.06" fill="#111" opacity="0.48"/>
<rect x="170.07" y="95.74" width="2.54" height="1.74" fill="#111" opacity="0.52"/>
<rect x="169.55" y="97.48" width="2.53" height="1.02" fill="#111" opacity="0.50"/>
<rect x="170.40" y="98.50" width="1.77" height="1.42" fill="#111" opacity="0.45"/>
<rect x="170.01" y="99.92" width="2.40" height="1.45" fill="#111" opacity="0.53"/>
<rect x="170.38" y="101.38" width="1.64" height="1.71" fill="#111" opacity="0.58"/>
<rect x="170.05" y="103.09" width="2.30" height="0.98" fill="#111" opacity="0.52"/>
<rect x="169.99" y="104.06" width="1.88" height="1.77" fill="#111" opacity="0.61"/>
<rect x="169.80" y="105.84" width="1.94" height="1.52" fill="#111" opacity="0.65"/>
<rect x="170.38" y="107.36" width="1.66" height="1.70" fill="#111" opacity="0.41"/>
<rect x="170.27" y="109.07" width="1.67" height="1.78" fill="#111" opacity="0.61"/>
<rect x="169.72" y="110.85" width="1.87" height="0.93" fill="#111" opacity="0.53"/>
<rect x="170.06" y="111.78" width="2.49" height="1.33" fill="#111" opacity="0.55"/>
<rect x="169.82" y="113.10" width="1.95" height="1.63" fill="#111" opacity="0.62"/>
<rect x="170.18" y="114.73" width="1.76" height="1.04" fill="#111" opacity="0.44"/>
<rect x="170.41" y="115.77" width="1.76" height="0.93" fill="#111" opacity="0.48"/>
<rect x="170.36" y="116.70" width="1.85" height="1.38" fill="#111" opacity="0.49"/>
<rect x="170.07" y="118.08" width="1.91" height="1.30" fill="#111" opacity="0.62"/>
<rect x="169.77" y="119.39" width="2.01" height="1.24" fill="#111" opacity="0.35"/>
<rect x="170.24" y="120.63" width="1.49" height="0.97" fill="#111" opacity="0.58"/>
<rect x="169.91" y="121.60" width="2.21" height="1.13" fill="#111" opacity="0.51"/>
<rect x="170.03" y="122.72" width="2.03" height="0.91" fill="#111" opacity="0.57"/>
<rect x="170.15" y="123.63" width="1.72" height="1.57" fill="#111" opacity="0.42"/>
<rect x="169.95" y="125.20" width="2.03" height="1.71" fill="#111" opacity="0.56"/>
<rect x="170.10" y="126.92" width="2.07" height="1.31" fill="#111" opacity="0.48"/>
<rect x="170.36" y="128.23" width="1.91" height="1.28" fill="#111" opacity="0.49"/>
<rect x="169.76" y="129.51" width="2.15" height="1.74" fill="#111" opacity="0.59"/>
<rect x="169.74" y="131.25" width="2.00" height="1.64" fill="#111" opacity="0.60"/>
<rect x="170.04" y="132.89" width="1.56" height="0.87" fill="#111" opacity="0.45"/>
<rect x="170.52" y="133.76" width="1.51" height="1.58" fill="#111" opacity="0.52"/>
<rect x="169.96" y="135.34" width="1.58" height="1.46" fill="#111" opacity="0.53"/>
<rect x="170.16" y="136.80" width="2.30" height="1.02" fill="#111" opacity="0.60"/>
<rect x="170.32" y="137.82" width="1.82" height="1.79" fill="#111" opacity="0.45"/>
<rect x="170.10" y="139.61" width="1.57" height="1.32" fill="#111" opacity="0.43"/>
<rect x="169.86" y="140.93" width="1.60" height="1.52" fill="#111" opacity="0.40"/>
<rect x="169.91" y="142.45" width="1.95" height="0.82" fill="#111" opacity="0.43"/>
<rect x="170.33" y="143.27" width="2.02" height="0.86" fill="#111" opacity="0.45"/>
<rect x="169.75" y="144.13" width="2.18" height="0.90" fill="#111" opacity="0.59"/>
<rect x="170.03" y="145.04" width="1.43" height="1.07" fill="#111" opacity="0.53"/>
<rect x="169.93" y="146.11" width="1.81" height="1.62" fill="#111" opacity="0.57"/>
<rect x="170.38" y="147.73" width="1.53" height="1.37" fill="#111" opacity="0.57"/>
<rect x="170.22" y="149.10" width="1.46" height="1.49" fill="#111" opacity="0.30"/>
<rect x="170.49" y="150.59" width="1.44" height="1.43" fill="#111" opacity="0.57"/>
<rect x="170.53" y="152.02" width="1.45" height="0.87" fill="#111" opacity="0.54"/>
<rect x="170.39" y="152.89" width="1.81" height="1.35" fill="#111" opacity="0.38"/>
<rect x="170.01" y="154.24" width="1.62" height="1.33" fill="#111" opacity="0.32"/>
<rect x="170.06" y="155.57" width="1.46" height="0.85" fill="#111" opacity="0.32"/>
<rect x="170.02" y="156.42" width="1.66" height="1.56" fill="#111" opacity="0.36"/>
<rect x="169.74" y="157.98" width="1.84" height="1.15" fill="#111" opacity="0.32"/>
<rect x="170.24" y="159.13" width="1.59" height="1.53" fill="#111" opacity="0.27"/>
<rect x="169.96" y="160.66" width="1.52" height="1.73" fill="#111" opacity="0.41"/>
<rect x="170.16" y="162.39" width="2.14" height="1.30" fill="#111" opacity="0.39"/>
<rect x="170.48" y="163.69" width="1.71" height="1.49" fill="#111" opacity="0.41"/>
<rect x="170.27" y="165.18" width="1.66" height="1.51" fill="#111" opacity="0.51"/>
<rect x="169.89" y="166.68" width="1.71" height="0.85" fill="#111" opacity="0.36"/>
<rect x="170.06" y="167.54" width="1.40" height="1.06" fill="#111" opacity="0.47"/>
<rect x="170.42" y="168.59" width="1.40" height="1.67" fill="#111" opacity="0.50"/>
<rect x="170.18" y="170.26" width="1.57" height="1.09" fill="#111" opacity="0.32"/>
<rect x="170.60" y="171.36" width="1.45" height="1.06" fill="#111" opacity="0.38"/>
<rect x="170.20" y="172.42" width="2.26" height="1.04" fill="#111" opacity="0.41"/>
<rect x="170.12" y="173.46" width="1.59" height="0.80" fill="#111" opacity="0.35"/>
<rect x="170.13" y="174.26" width="1.75" height="1.00" fill="#111" opacity="0.39"/>
<rect x="170.23" y="175.27" width="1.40" height="0.89" fill="#111" opacity="0.32"/>
<rect x="170.11" y="176.16" width="1.40" height="1.10" fill="#111" opacity="0.24"/>
<rect x="170.18" y="177.26" width="1.85" height="1.55" fill="#111" opacity="0.39"/>
<rect x="169.89" y="178.81" width="1.98" height="1.19" fill="#111" opacity="0.49"/>
<rect x="169.98" y="180.00" width="2.24" height="1.52" fill="#111" opacity="0.27"/>
<rect x="170.39" y="181.52" width="1.40" height="1.69" fill="#111" opacity="0.48"/>
<rect x="170.03" y="183.22" width="1.98" height="0.94" fill="#111" opacity="0.47"/>
<rect x="170.36" y="184.16" width="1.74" height="1.60" fill="#111" opacity="0.47"/>
<rect x="170.23" y="185.76" width="1.82" height="1.48" fill="#111" opacity="0.48"/>
<rect x="170.17" y="187.24" width="1.46" height="0.93" fill="#111" opacity="0.22"/>
<rect x="170.39" y="188.18" width="1.40" height="1.36" fill="#111" opacity="0.46"/>
<rect x="169.73" y="189.53" width="1.85" height="1.29" fill="#111" opacity="0.41"/>
<rect x="170.02" y="190.82" width="2.01" height="1.30" fill="#111" opacity="0.43"/>
<rect x="169.89" y="192.13" width="1.87" height="1.54" fill="#111" opacity="0.22"/>
<rect x="170.09" y="193.66" width="1.40" height="1.53" fill="#111" opacity="0.28"/>
<rect x="169.95" y="195.19" width="1.94" height="1.29" fill="#111" opacity="0.49"/>
<rect x="170.25" y="196.49" width="1.67" height="1.57" fill="#111" opacity="0.40"/>
<rect x="169.91" y="198.05" width="1.83" height="0.95" fill="#111" opacity="0.22"/>
<rect x="169.70" y="199.00" width="1.93" height="1.37" fill="#111" opacity="0.28"/>
<rect x="170.43" y="200.37" width="1.40" height="1.47" fill="#111" opacity="0.27"/>
<rect x="170.05" y="201.84" width="1.85" height="1.32" fill="#111" opacity="0.27"/>
<rect x="169.97" y="203.16" width="1.63" height="1.69" fill="#111" opacity="0.22"/>
<rect x="169.90" y="204.85" width="2.14" height="0.82" fill="#111" opacity="0.46"/>
<rect x="169.85" y="205.67" width="1.98" height="1.25" fill="#111" opacity="0.47"/>
<rect x="170.36" y="206.92" width="1.40" height="1.01" fill="#111" opacity="0.46"/>
<rect x="170.04" y="207.93" width="1.40" height="1.75" fill="#111" opacity="0.33"/>
<rect x="170.16" y="209.68" width="1.96" height="1.69" fill="#111" opacity="0.32"/>
<rect x="169.97" y="211.37" width="1.40" height="1.29" fill="#111" opacity="0.44"/>
<rect x="170.16" y="212.65" width="1.40" height="1.25" fill="#111" opacity="0.31"/>
<rect x="170.54" y="213.91" width="1.40" height="1.12" fill="#111" opacity="0.27"/>
<rect x="170.03" y="215.02" width="1.40" height="1.64" fill="#111" opacity="0.39"/>
<rect x="169.83" y="216.66" width="2.04" height="1.70" fill="#111" opacity="0.37"/>
<rect x="170.32" y="218.36" width="1.48" height="1.80" fill="#111" opacity="0.27"/>
<rect x="169.95" y="220.16" width="1.46" height="1.08" fill="#111" opacity="0.28"/>
<rect x="170.60" y="221.24" width="1.40" height="1.09" fill="#111" opacity="0.40"/>
<rect x="170.08" y="222.32" width="1.40" height="1.31" fill="#111" opacity="0.23"/>
<rect x="170.49" y="223.63" width="1.46" height="1.68" fill="#111" opacity="0.43"/>
<rect x="170.18" y="225.32" width="1.71" height="1.74" fill="#111" opacity="0.41"/>
<rect x="170.07" y="227.06" width="1.79" height="1.53" fill="#111" opacity="0.15"/>
<rect x="169.77" y="228.59" width="1.82" height="1.09" fill="#111" opacity="0.33"/>
<rect x="169.89" y="229.68" width="1.99" height="1.27" fill="#111" opacity="0.17"/>
<rect x="170.13" y="230.95" width="1.40" height="1.78" fill="#111" opacity="0.35"/>
<rect x="170.07" y="232.72" width="1.71" height="1.36" fill="#111" opacity="0.22"/>
<rect x="170.58" y="234.08" width="1.40" height="1.01" fill="#111" opacity="0.17"/>
<rect x="170.58" y="235.09" width="1.54" height="1.71" fill="#111" opacity="0.19"/>
<rect x="169.97" y="236.80" width="1.49" height="0.99" fill="#111" opacity="0.16"/>
<rect x="170.13" y="237.79" width="1.40" height="1.04" fill="#111" opacity="0.14"/>
<rect x="170.14" y="238.83" width="1.60" height="1.55" fill="#111" opacity="0.38"/>
<rect x="170.17" y="240.38" width="1.44" height="1.18" fill="#111" opacity="0.27"/>
<rect x="170.04" y="241.55" width="1.40" height="1.77" fill="#111" opacity="0.19"/>
<rect x="170.04" y="243.32" width="1.52" height="1.66" fill="#111" opacity="0.30"/>
<rect x="170.26" y="244.98" width="1.40" height="1.20" fill="#111" opacity="0.18"/>
<rect x="155.40" y="38.20" width="30.90" height="1.60" fill="url(#topband)"/>
<rect x="155.40" y="38.20" width="30.90" height="208.40" fill="none" stroke="#444" stroke-width="1"/>
<path d="M12.5,252.4 V249.4 H43.7 V252.4 M28.0,249.4 V252.4" fill="none" stroke="#222" stroke-width="0.9"/>
<text x="12.80" y="261.00" font-size="6.4" fill="#222" text-anchor="middle">–2kb</text>
<text x="28.00" y="261.00" font-size="6.4" fill="#222" text-anchor="middle">0</text>
<text x="43.40" y="261.00" font-size="6.4" fill="#222" text-anchor="middle">2kb</text>
<text x="29.40" y="272.50" font-size="7.4" fill="#333" text-anchor="middle" textLength="30.6" lengthAdjust="spacingAndGlyphs">Distance from</text>
<text x="29.40" y="280.40" font-size="7.4" fill="#333" text-anchor="middle" textLength="24.8" lengthAdjust="spacingAndGlyphs">peak center</text>
<path d="M155.5,252.4 V249.4 H186.7 V252.4 M171.0,249.4 V252.4" fill="none" stroke="#222" stroke-width="0.9"/>
<text x="155.80" y="261.00" font-size="6.4" fill="#222" text-anchor="middle">–2kb</text>
<text x="171.00" y="261.00" font-size="6.4" fill="#222" text-anchor="middle">0</text>
<text x="186.40" y="261.00" font-size="6.4" fill="#222" text-anchor="middle">2kb</text>
<text x="172.40" y="272.50" font-size="7.4" fill="#333" text-anchor="middle" textLength="30.6" lengthAdjust="spacingAndGlyphs">Distance from</text>
<text x="172.40" y="280.40" font-size="7.4" fill="#333" text-anchor="middle" textLength="24.8" lengthAdjust="spacingAndGlyphs">peak center</text>
<path d="M43.4,246.3 H48.5 V236" fill="none" stroke="#222" stroke-width="0.9"/>
<text x="46.40" y="179.00" font-size="6.5" fill="#222" textLength="54" lengthAdjust="spacingAndGlyphs" transform="rotate(90 46.40 179.00)">40,881 binding sites</text>
<path d="M186.6,246.3 H190.6 V236" fill="none" stroke="#222" stroke-width="0.9"/>
<text x="188.60" y="178.60" font-size="6.5" fill="#222" textLength="57" lengthAdjust="spacingAndGlyphs" transform="rotate(90 188.60 178.60)">31,202 binding sites</text>
<rect x="6.80" y="287.90" width="4.20" height="3.90" fill="#c8102e"/>
<text x="14.00" y="292.60" font-size="7.6" fill="#222" textLength="45.8" lengthAdjust="spacingAndGlyphs">Promoter-TSS</text>
<rect x="6.80" y="297.30" width="4.20" height="3.90" fill="#4a1466"/>
<text x="14.00" y="301.60" font-size="7.6" fill="#222" textLength="34.5" lengthAdjust="spacingAndGlyphs">Intergenic</text>
<rect x="78.20" y="287.90" width="4.20" height="3.90" fill="#1a5a96"/>
<text x="85.70" y="292.60" font-size="7.6" fill="#222" textLength="19.3" lengthAdjust="spacingAndGlyphs">Intron</text>
<rect x="78.20" y="297.30" width="4.20" height="3.90" fill="#c0c0c0"/>
<text x="85.70" y="301.60" font-size="7.6" fill="#222" textLength="19" lengthAdjust="spacingAndGlyphs">Other</text>
<text x="148.80" y="292.00" font-size="7" fill="#222" textLength="44.2" lengthAdjust="spacingAndGlyphs">Rel. enrichment</text>
<rect x="158.00" y="295.00" width="26.00" height="3.80" fill="url(#cbar)" stroke="#333" stroke-width="0.5"/>
<text x="158.00" y="306.00" font-size="6.6" fill="#222" text-anchor="middle">0</text>
<text x="184.00" y="306.00" font-size="6.6" fill="#222" text-anchor="middle">8</text>
<line x1="86.90" y1="38.50" x2="116.50" y2="38.50" stroke="#222" stroke-width="0.9"/>
<rect x="92.75" y="38.50" width="6.80" height="28.40" fill="#fff" stroke="#c8102e" stroke-width="0.75"/>
<rect x="92.75" y="66.90" width="6.80" height="22.30" fill="#fff" stroke="#c8102e" stroke-width="0.75"/>
<rect x="92.75" y="89.20" width="6.80" height="24.60" fill="#fff" stroke="#f5a623" stroke-width="0.75"/>
<rect x="92.75" y="113.80" width="6.80" height="5.70" fill="#fff" stroke="#f5a623" stroke-width="0.75"/>
<rect x="92.75" y="119.50" width="6.80" height="5.90" fill="#fff" stroke="#f5a623" stroke-width="0.75"/>
<rect x="92.75" y="125.40" width="6.80" height="16.90" fill="#fff" stroke="#b58050" stroke-width="0.75"/>
<rect x="92.75" y="142.30" width="6.80" height="5.20" fill="#fff" stroke="#b58050" stroke-width="0.75"/>
<rect x="92.75" y="147.50" width="6.80" height="3.00" fill="#fff" stroke="#f5c445" stroke-width="0.75"/>
<rect x="92.75" y="150.50" width="6.80" height="3.00" fill="#fff" stroke="#f5c445" stroke-width="0.75"/>
<rect x="92.75" y="153.50" width="6.80" height="9.50" fill="#fff" stroke="#f5c445" stroke-width="0.75"/>
<rect x="92.75" y="163.00" width="6.80" height="9.00" fill="#fff" stroke="#f5c445" stroke-width="0.75"/>
<rect x="92.75" y="172.00" width="6.80" height="4.00" fill="#fff" stroke="#f5c445" stroke-width="0.75"/>
<rect x="92.75" y="176.00" width="6.80" height="21.20" fill="#fff" stroke="#f5c445" stroke-width="0.75"/>
<rect x="92.75" y="197.20" width="6.80" height="1.50" fill="#fff" stroke="#1f7a6a" stroke-width="0.75"/>
<rect x="92.75" y="198.70" width="6.80" height="1.60" fill="#fff" stroke="#1f7a6a" stroke-width="0.75"/>
<rect x="92.75" y="200.30" width="6.80" height="1.70" fill="#fff" stroke="#4cb050" stroke-width="0.75"/>
<rect x="92.75" y="202.00" width="6.80" height="2.50" fill="#fff" stroke="#4cb050" stroke-width="0.75"/>
<rect x="92.75" y="204.50" width="6.80" height="3.50" fill="#fff" stroke="#4cb050" stroke-width="0.75"/>
<rect x="92.75" y="208.30" width="6.80" height="10.90" fill="#fff" stroke="#a99ae0" stroke-width="0.75"/>
<rect x="92.75" y="219.20" width="6.80" height="1.80" fill="#fff" stroke="#666" stroke-width="0.75"/>
<rect x="92.75" y="221.00" width="6.80" height="8.80" fill="#fff" stroke="#3b6db0" stroke-width="0.75"/>
<rect x="92.75" y="229.80" width="6.80" height="8.20" fill="#fff" stroke="#111" stroke-width="0.75"/>
<rect x="92.75" y="238.00" width="6.80" height="9.60" fill="#fff" stroke="#111" stroke-width="0.75"/>
<rect x="103.40" y="38.50" width="7.40" height="209.30" fill="#111"/>
<rect x="104.40" y="39.00" width="5.40" height="87.50" fill="#c8102e"/>
<rect x="104.40" y="127.50" width="5.40" height="70.40" fill="#f5b91e"/>
<rect x="104.40" y="198.90" width="5.40" height="9.20" fill="#3cb44b"/>
<rect x="104.40" y="209.10" width="5.40" height="10.80" fill="#c4c4c4"/>
<rect x="104.40" y="220.90" width="5.40" height="7.80" fill="#1a5a96"/>
<rect x="104.40" y="229.70" width="5.40" height="0.80" fill="#3a1050"/>
<rect x="104.40" y="231.50" width="5.40" height="15.80" fill="#333"/>
<line x1="221.80" y1="38.50" x2="251.50" y2="38.50" stroke="#222" stroke-width="0.9"/>
<rect x="227.95" y="38.50" width="6.40" height="54.50" fill="#fff" stroke="#c8102e" stroke-width="0.75"/>
<rect x="227.95" y="93.00" width="6.40" height="51.30" fill="#fff" stroke="#c8102e" stroke-width="0.75"/>
<rect x="227.95" y="144.30" width="6.40" height="16.50" fill="#fff" stroke="#f5a623" stroke-width="0.75"/>
<rect x="227.95" y="160.80" width="6.40" height="12.70" fill="#fff" stroke="#b58050" stroke-width="0.75"/>
<rect x="227.95" y="173.50" width="6.40" height="25.50" fill="#fff" stroke="#b58050" stroke-width="0.75"/>
<rect x="227.95" y="199.00" width="6.40" height="1.30" fill="#fff" stroke="#f5c445" stroke-width="0.75"/>
<rect x="227.95" y="200.30" width="6.40" height="3.70" fill="#fff" stroke="#1f7a6a" stroke-width="0.75"/>
<rect x="227.95" y="204.00" width="6.40" height="4.00" fill="#fff" stroke="#1f7a6a" stroke-width="0.75"/>
<rect x="227.95" y="208.30" width="6.40" height="1.30" fill="#fff" stroke="#888" stroke-width="0.75"/>
<rect x="227.95" y="209.60" width="6.40" height="1.20" fill="#fff" stroke="#9a7ab0" stroke-width="0.75"/>
<rect x="227.95" y="210.80" width="6.40" height="36.90" fill="#fff" stroke="#111" stroke-width="0.75"/>
<rect x="238.50" y="38.50" width="6.90" height="209.30" fill="#111"/>
<rect x="239.50" y="39.00" width="4.90" height="121.80" fill="#c8102e"/>
<rect x="239.50" y="161.80" width="4.90" height="37.50" fill="#f5b91e"/>
<rect x="239.50" y="200.30" width="4.90" height="7.60" fill="#3cb44b"/>
<rect x="239.50" y="208.90" width="4.90" height="1.00" fill="#c4c4c4"/>
<rect x="239.50" y="210.90" width="4.90" height="0.60" fill="#3a1050"/>
<rect x="239.50" y="212.50" width="4.90" height="34.80" fill="#333"/>
<text x="88.90" y="55.20" font-size="7" fill="#c8102e" text-anchor="end" textLength="13.5" lengthAdjust="spacingAndGlyphs">TssA</text>
<text x="88.90" y="80.60" font-size="7" fill="#c8102e" text-anchor="end" textLength="25.96" lengthAdjust="spacingAndGlyphs">TssA_Wk</text>
<text x="88.90" y="103.60" font-size="7" fill="#f5a623" text-anchor="end" textLength="19.38" lengthAdjust="spacingAndGlyphs">PromU</text>
<text x="88.90" y="117.80" font-size="7" fill="#f5a623" text-anchor="end" textLength="22.85" lengthAdjust="spacingAndGlyphs">PromD1</text>
<text x="88.90" y="125.40" font-size="7" fill="#f5a623" text-anchor="end" textLength="22.85" lengthAdjust="spacingAndGlyphs">PromD2</text>
<text x="88.90" y="135.90" font-size="7" fill="#b58050" text-anchor="end" textLength="18.7" lengthAdjust="spacingAndGlyphs">EnhA1</text>
<text x="88.90" y="147.80" font-size="7" fill="#b58050" text-anchor="end" textLength="18.7" lengthAdjust="spacingAndGlyphs">EnhA2</text>
<text x="88.90" y="153.20" font-size="7" fill="#f5c445" text-anchor="end" textLength="20.42" lengthAdjust="spacingAndGlyphs">WkReg</text>
<text x="88.90" y="160.40" font-size="7" fill="#f5c445" text-anchor="end" textLength="20.43" lengthAdjust="spacingAndGlyphs">EnhW1</text>
<text x="88.90" y="169.40" font-size="7" fill="#f5c445" text-anchor="end" textLength="20.43" lengthAdjust="spacingAndGlyphs">EnhW2</text>
<text x="88.90" y="177.00" font-size="7" fill="#f5c445" text-anchor="end" textLength="37.03" lengthAdjust="spacingAndGlyphs">WkRegCTCF</text>
<text x="88.90" y="184.70" font-size="7" fill="#f5c445" text-anchor="end" textLength="19.04" lengthAdjust="spacingAndGlyphs">DNase</text>
<text x="88.90" y="189.80" font-size="6.0" fill="#1f7a6a" text-anchor="end" textLength="9.5" lengthAdjust="spacingAndGlyphs">Tx3</text>
<text x="88.90" y="195.10" font-size="6.0" fill="#1f7a6a" text-anchor="end" textLength="6.33" lengthAdjust="spacingAndGlyphs">Tx</text>
<text x="88.90" y="199.50" font-size="6.0" fill="#1f7a6a" text-anchor="end" textLength="9.5" lengthAdjust="spacingAndGlyphs">Tx5</text>
<text x="88.90" y="204.10" font-size="6.0" fill="#1f7a6a" text-anchor="end" textLength="14.56" lengthAdjust="spacingAndGlyphs">TxWk</text>
<text x="88.90" y="209.10" font-size="6.0" fill="#4cb050" text-anchor="end" textLength="19.64" lengthAdjust="spacingAndGlyphs">TxEnh5</text>
<text x="88.90" y="213.60" font-size="6.0" fill="#4cb050" text-anchor="end" textLength="16.79" lengthAdjust="spacingAndGlyphs">TxReg</text>
<text x="88.90" y="218.10" font-size="6.0" fill="#a99ae0" text-anchor="end" textLength="21.54" lengthAdjust="spacingAndGlyphs">PromBiv</text>
<text x="88.90" y="223.60" font-size="6.0" fill="#8a8a8a" text-anchor="end" textLength="28.5" lengthAdjust="spacingAndGlyphs">ReprPCWk</text>
<text x="88.90" y="228.70" font-size="6.0" fill="#8a8a8a" text-anchor="end" textLength="20.27" lengthAdjust="spacingAndGlyphs">ReprPC</text>
<text x="88.90" y="233.30" font-size="6.0" fill="#3b6db0" text-anchor="end" textLength="12.04" lengthAdjust="spacingAndGlyphs">Insul</text>
<text x="88.90" y="238.30" font-size="6.0" fill="#7a4a9a" text-anchor="end" textLength="8.87" lengthAdjust="spacingAndGlyphs">Het</text>
<text x="88.90" y="243.30" font-size="6.0" fill="#222" text-anchor="end" textLength="18.06" lengthAdjust="spacingAndGlyphs">Quies1</text>
<text x="88.90" y="247.80" font-size="6.0" fill="#222" text-anchor="end" textLength="18.06" lengthAdjust="spacingAndGlyphs">Quies2</text>
<text x="223.70" y="68.10" font-size="7" fill="#c8102e" text-anchor="end" textLength="16.97" lengthAdjust="spacingAndGlyphs">TssA2</text>
<text x="223.70" y="120.90" font-size="7" fill="#c8102e" text-anchor="end" textLength="16.97" lengthAdjust="spacingAndGlyphs">TssA1</text>
<text x="223.70" y="155.20" font-size="7" fill="#f5a623" text-anchor="end" textLength="19.38" lengthAdjust="spacingAndGlyphs">PromU</text>
<text x="223.70" y="169.60" font-size="7" fill="#b58050" text-anchor="end" textLength="20.09" lengthAdjust="spacingAndGlyphs">EnhAct</text>
<text x="223.70" y="188.40" font-size="7" fill="#b58050" text-anchor="end" textLength="11.08" lengthAdjust="spacingAndGlyphs">Enh</text>
<text x="223.70" y="195.20" font-size="7" fill="#f5c445" text-anchor="end" textLength="16.97" lengthAdjust="spacingAndGlyphs">EnhW</text>
<text x="223.70" y="200.20" font-size="6.4" fill="#1f7a6a" text-anchor="end" textLength="9.92" lengthAdjust="spacingAndGlyphs">TxL</text>
<text x="223.70" y="205.70" font-size="6.4" fill="#1f7a6a" text-anchor="end" textLength="10.91" lengthAdjust="spacingAndGlyphs">TxH</text>
<text x="223.70" y="213.00" font-size="6.4" fill="#8a8a8a" text-anchor="end" textLength="24.48" lengthAdjust="spacingAndGlyphs">ReprPCL</text>
<text x="223.70" y="218.70" font-size="6.4" fill="#8a8a8a" text-anchor="end" textLength="25.47" lengthAdjust="spacingAndGlyphs">ReprPCH</text>
<text x="223.70" y="225.60" font-size="6.4" fill="#7a4a9a" text-anchor="end" textLength="9.26" lengthAdjust="spacingAndGlyphs">Het</text>
<text x="223.70" y="231.40" font-size="6.4" fill="#222" text-anchor="end" textLength="15.55" lengthAdjust="spacingAndGlyphs">Quies</text>
<line x1="89.50" y1="186.00" x2="92.30" y2="197.80" stroke="#222" stroke-width="0.5"/>
<line x1="89.50" y1="192.00" x2="92.30" y2="199.20" stroke="#222" stroke-width="0.5"/>
<line x1="89.50" y1="197.00" x2="92.30" y2="200.80" stroke="#222" stroke-width="0.5"/>
<line x1="89.50" y1="201.50" x2="92.30" y2="202.50" stroke="#222" stroke-width="0.5"/>
<line x1="89.50" y1="206.00" x2="92.30" y2="204.50" stroke="#222" stroke-width="0.5"/>
<line x1="89.50" y1="211.00" x2="92.30" y2="206.80" stroke="#222" stroke-width="0.5"/>
<line x1="89.50" y1="220.50" x2="92.30" y2="219.80" stroke="#222" stroke-width="0.5"/>
<line x1="89.50" y1="226.00" x2="92.30" y2="222.00" stroke="#222" stroke-width="0.5"/>
<line x1="89.50" y1="231.00" x2="92.30" y2="230.50" stroke="#222" stroke-width="0.5"/>
<line x1="89.50" y1="236.00" x2="92.30" y2="234.00" stroke="#222" stroke-width="0.5"/>
<line x1="224.20" y1="192.50" x2="227.50" y2="199.50" stroke="#222" stroke-width="0.5"/>
<line x1="224.20" y1="197.50" x2="227.50" y2="201.50" stroke="#222" stroke-width="0.5"/>
<line x1="224.20" y1="203.00" x2="227.50" y2="205.50" stroke="#222" stroke-width="0.5"/>
<line x1="224.20" y1="210.50" x2="227.50" y2="208.80" stroke="#222" stroke-width="0.5"/>
<line x1="224.20" y1="216.00" x2="227.50" y2="209.80" stroke="#222" stroke-width="0.5"/>
<line x1="224.20" y1="223.00" x2="227.50" y2="210.50" stroke="#222" stroke-width="0.5"/>
<text x="125.80" y="83.00" font-size="7.2" fill="#c8102e" text-anchor="middle" textLength="18.63" lengthAdjust="spacingAndGlyphs">Active</text>
<text x="125.80" y="89.50" font-size="7.2" fill="#c8102e" text-anchor="middle" textLength="27.37" lengthAdjust="spacingAndGlyphs">promoter</text>
<text x="125.80" y="95.90" font-size="7.2" fill="#c8102e" text-anchor="middle" textLength="18.24" lengthAdjust="spacingAndGlyphs">(42%)</text>
<text x="125.80" y="146.30" font-size="7.2" fill="#b58050" text-anchor="middle" textLength="18.63" lengthAdjust="spacingAndGlyphs">Active</text>
<text x="125.80" y="152.90" font-size="7.2" fill="#b58050" text-anchor="middle" textLength="28.52" lengthAdjust="spacingAndGlyphs">enhancer</text>
<text x="125.80" y="160.10" font-size="7.2" fill="#b58050" text-anchor="middle" textLength="18.24" lengthAdjust="spacingAndGlyphs">(35%)</text>
<text x="114.40" y="177.10" font-size="7.2" fill="#4cb050" textLength="22.44" lengthAdjust="spacingAndGlyphs">Transcr</text>
<text x="114.40" y="184.80" font-size="7.2" fill="#4cb050" textLength="14.14" lengthAdjust="spacingAndGlyphs">(5%)</text>
<text x="114.40" y="192.20" font-size="7.2" fill="#8a8a8a" textLength="24.93" lengthAdjust="spacingAndGlyphs">Repress</text>
<text x="114.40" y="200.20" font-size="7.2" fill="#8a8a8a" textLength="14.14" lengthAdjust="spacingAndGlyphs">(6%)</text>
<text x="114.40" y="207.50" font-size="7.2" fill="#3b6db0" textLength="14.14" lengthAdjust="spacingAndGlyphs">Insul</text>
<text x="114.40" y="215.30" font-size="7.2" fill="#3b6db0" textLength="14.14" lengthAdjust="spacingAndGlyphs">(4%)</text>
<text x="114.40" y="222.50" font-size="7.2" fill="#7a4a9a" textLength="16.37" lengthAdjust="spacingAndGlyphs">Heter</text>
<text x="114.40" y="230.20" font-size="7.2" fill="#7a4a9a" textLength="14.14" lengthAdjust="spacingAndGlyphs">(0%)</text>
<text x="114.40" y="238.30" font-size="7.2" fill="#222" textLength="30.15" lengthAdjust="spacingAndGlyphs">Quiescent</text>
<text x="114.40" y="244.80" font-size="7.2" fill="#222" textLength="14.14" lengthAdjust="spacingAndGlyphs">(8%)</text>
<text x="249.50" y="94.50" font-size="7.2" fill="#c8102e" textLength="18.23" lengthAdjust="spacingAndGlyphs">Active</text>
<text x="249.50" y="100.80" font-size="7.2" fill="#c8102e" textLength="26.79" lengthAdjust="spacingAndGlyphs">promoter</text>
<text x="249.50" y="107.70" font-size="7.2" fill="#c8102e" textLength="17.86" lengthAdjust="spacingAndGlyphs">(59%)</text>
<text x="249.50" y="164.30" font-size="7.2" fill="#b58050" textLength="18.23" lengthAdjust="spacingAndGlyphs">Active</text>
<text x="249.50" y="170.70" font-size="7.2" fill="#b58050" textLength="27.92" lengthAdjust="spacingAndGlyphs">enhancer</text>
<text x="249.50" y="177.70" font-size="7.2" fill="#b58050" textLength="17.86" lengthAdjust="spacingAndGlyphs">(19%)</text>
<text x="249.50" y="189.70" font-size="7.2" fill="#4cb050" textLength="22.44" lengthAdjust="spacingAndGlyphs">Transcr</text>
<text x="249.50" y="197.50" font-size="7.2" fill="#4cb050" textLength="14.14" lengthAdjust="spacingAndGlyphs">(4%)</text>
<text x="249.50" y="205.30" font-size="7.2" fill="#8a8a8a" textLength="24.93" lengthAdjust="spacingAndGlyphs">Repress</text>
<text x="249.50" y="212.80" font-size="7.2" fill="#8a8a8a" textLength="14.14" lengthAdjust="spacingAndGlyphs">(1%)</text>
<text x="249.50" y="221.00" font-size="7.2" fill="#7a4a9a" textLength="16.37" lengthAdjust="spacingAndGlyphs">Heter</text>
<text x="249.50" y="228.70" font-size="7.2" fill="#7a4a9a" textLength="14.14" lengthAdjust="spacingAndGlyphs">(0%)</text>
<text x="249.50" y="235.50" font-size="7.2" fill="#222" textLength="30.15" lengthAdjust="spacingAndGlyphs">Quiescent</text>
<text x="249.50" y="243.50" font-size="7.2" fill="#222" textLength="17.86" lengthAdjust="spacingAndGlyphs">(17%)</text>
<line x1="113.50" y1="178.00" x2="111.20" y2="190.00" stroke="#222" stroke-width="0.5"/>
<line x1="113.50" y1="190.00" x2="111.20" y2="205.00" stroke="#222" stroke-width="0.5"/>
<line x1="113.50" y1="205.00" x2="111.20" y2="214.00" stroke="#222" stroke-width="0.5"/>
<line x1="113.50" y1="219.00" x2="111.20" y2="229.50" stroke="#222" stroke-width="0.5"/>
<line x1="113.50" y1="228.00" x2="111.20" y2="232.00" stroke="#222" stroke-width="0.5"/>
<line x1="248.50" y1="190.00" x2="246.00" y2="199.50" stroke="#222" stroke-width="0.5"/>
<line x1="248.50" y1="205.00" x2="246.00" y2="208.60" stroke="#222" stroke-width="0.5"/>
<line x1="248.50" y1="217.00" x2="246.00" y2="211.00" stroke="#222" stroke-width="0.5"/>
<line x1="248.50" y1="228.00" x2="246.00" y2="211.80" stroke="#222" stroke-width="0.5"/>
<text x="96.50" y="251.50" font-size="7.2" fill="#222" text-anchor="end" textLength="29.83" lengthAdjust="spacingAndGlyphs" transform="rotate(-45 96.50 251.50)">25_States</text>
<text x="107.00" y="251.00" font-size="7.2" fill="#222" text-anchor="end" textLength="37.18" lengthAdjust="spacingAndGlyphs" transform="rotate(-45 107.00 251.00)">Summarized</text>
<text x="231.50" y="251.50" font-size="7.2" fill="#222" text-anchor="end" textLength="29.83" lengthAdjust="spacingAndGlyphs" transform="rotate(-45 231.50 251.50)">12_States</text>
<text x="242.50" y="251.00" font-size="7.2" fill="#222" text-anchor="end" textLength="37.18" lengthAdjust="spacingAndGlyphs" transform="rotate(-45 242.50 251.00)">Summarized</text>
<text x="280.40" y="15.00" font-size="10.5" fill="#000" font-weight="bold">B</text>
<rect x="330.00" y="10.00" width="4.20" height="4.20" fill="#5c1f6e"/>
<text x="336.50" y="14.60" font-size="7.5" fill="#222" textLength="32" lengthAdjust="spacingAndGlyphs">Total SEs</text>
<rect x="330.00" y="19.70" width="4.20" height="4.20" fill="#c8102e"/>
<text x="336.50" y="24.30" font-size="7.5" fill="#222" textLength="56" lengthAdjust="spacingAndGlyphs">PBX1-bound SEs</text>
<line x1="323.60" y1="24.50" x2="323.60" y2="78.20" stroke="#222" stroke-width="1"/>
<line x1="320.60" y1="77.60" x2="323.60" y2="77.60" stroke="#222" stroke-width="0.9"/>
<text x="316.80" y="80.10" font-size="7" fill="#222" text-anchor="end" textLength="4.4" lengthAdjust="spacingAndGlyphs">0</text>
<line x1="320.60" y1="69.40" x2="323.60" y2="69.40" stroke="#222" stroke-width="0.9"/>
<text x="316.80" y="71.90" font-size="7" fill="#222" text-anchor="end" textLength="13.2" lengthAdjust="spacingAndGlyphs">100</text>
<line x1="320.60" y1="61.20" x2="323.60" y2="61.20" stroke="#222" stroke-width="0.9"/>
<text x="316.80" y="63.70" font-size="7" fill="#222" text-anchor="end" textLength="13.2" lengthAdjust="spacingAndGlyphs">200</text>
<line x1="320.60" y1="53.00" x2="323.60" y2="53.00" stroke="#222" stroke-width="0.9"/>
<text x="316.80" y="55.50" font-size="7" fill="#222" text-anchor="end" textLength="13.2" lengthAdjust="spacingAndGlyphs">300</text>
<line x1="320.60" y1="44.80" x2="323.60" y2="44.80" stroke="#222" stroke-width="0.9"/>
<text x="316.80" y="47.30" font-size="7" fill="#222" text-anchor="end" textLength="13.2" lengthAdjust="spacingAndGlyphs">400</text>
<line x1="320.60" y1="36.60" x2="323.60" y2="36.60" stroke="#222" stroke-width="0.9"/>
<text x="316.80" y="39.10" font-size="7" fill="#222" text-anchor="end" textLength="13.2" lengthAdjust="spacingAndGlyphs">500</text>
<line x1="320.60" y1="28.40" x2="323.60" y2="28.40" stroke="#222" stroke-width="0.9"/>
<text x="316.80" y="30.90" font-size="7" fill="#222" text-anchor="end" textLength="13.2" lengthAdjust="spacingAndGlyphs">600</text>
<text x="286.60" y="53.50" font-size="9" fill="#222" text-anchor="middle" textLength="17.3" lengthAdjust="spacingAndGlyphs" transform="rotate(-90 286.60 53.50)">No of</text>
<text x="296.90" y="53.10" font-size="9" fill="#222" text-anchor="middle" textLength="52.5" lengthAdjust="spacingAndGlyphs" transform="rotate(-90 296.90 53.10)">superenhancers</text>
<rect x="323.90" y="48.00" width="5.90" height="29.70" fill="#5c1f6e"/>
<rect x="323.90" y="50.50" width="5.90" height="27.20" fill="#c8102e"/>
<rect x="330.56" y="48.90" width="5.90" height="28.80" fill="#5c1f6e"/>
<rect x="330.56" y="51.50" width="5.90" height="26.20" fill="#c8102e"/>
<rect x="337.22" y="45.80" width="5.90" height="31.90" fill="#5c1f6e"/>
<rect x="337.22" y="51.20" width="5.90" height="26.50" fill="#c8102e"/>
<rect x="343.88" y="45.40" width="5.90" height="32.30" fill="#5c1f6e"/>
<rect x="343.88" y="51.00" width="5.90" height="26.70" fill="#c8102e"/>
<rect x="350.54" y="45.40" width="5.90" height="32.30" fill="#5c1f6e"/>
<rect x="350.54" y="50.50" width="5.90" height="27.20" fill="#c8102e"/>
<rect x="357.20" y="44.90" width="5.90" height="32.80" fill="#5c1f6e"/>
<rect x="357.20" y="51.00" width="5.90" height="26.70" fill="#c8102e"/>
<rect x="363.86" y="43.80" width="5.90" height="33.90" fill="#5c1f6e"/>
<rect x="363.86" y="51.00" width="5.90" height="26.70" fill="#c8102e"/>
<rect x="370.52" y="41.80" width="5.90" height="35.90" fill="#5c1f6e"/>
<rect x="370.52" y="50.50" width="5.90" height="27.20" fill="#c8102e"/>
<rect x="386.20" y="43.80" width="5.85" height="33.90" fill="#5c1f6e"/>
<rect x="386.20" y="52.00" width="5.85" height="25.70" fill="#c8102e"/>
<rect x="392.78" y="45.40" width="5.85" height="32.30" fill="#5c1f6e"/>
<rect x="392.78" y="51.50" width="5.85" height="26.20" fill="#c8102e"/>
<rect x="399.36" y="45.40" width="5.85" height="32.30" fill="#5c1f6e"/>
<rect x="399.36" y="52.30" width="5.85" height="25.40" fill="#c8102e"/>
<rect x="405.94" y="48.20" width="5.85" height="29.50" fill="#5c1f6e"/>
<rect x="405.94" y="52.30" width="5.85" height="25.40" fill="#c8102e"/>
<rect x="412.52" y="45.10" width="5.85" height="32.60" fill="#5c1f6e"/>
<rect x="412.52" y="52.00" width="5.85" height="25.70" fill="#c8102e"/>
<rect x="419.10" y="45.10" width="5.85" height="32.60" fill="#5c1f6e"/>
<rect x="419.10" y="52.00" width="5.85" height="25.70" fill="#c8102e"/>
<rect x="425.68" y="36.50" width="5.85" height="41.20" fill="#5c1f6e"/>
<rect x="425.68" y="52.00" width="5.85" height="25.70" fill="#c8102e"/>
<rect x="432.26" y="38.00" width="5.85" height="39.70" fill="#5c1f6e"/>
<rect x="432.26" y="52.00" width="5.85" height="25.70" fill="#c8102e"/>
<rect x="438.84" y="32.80" width="5.85" height="44.90" fill="#5c1f6e"/>
<rect x="438.84" y="43.40" width="5.85" height="34.30" fill="#c8102e"/>
<line x1="322.80" y1="77.90" x2="445.60" y2="77.90" stroke="#222" stroke-width="1"/>
<polygon points="445.4,77.5 445.4,32.6 474.8,18.3 474.8,77.5" fill="url(#trap)"/>
<line x1="475.70" y1="13.50" x2="475.70" y2="78.20" stroke="#222" stroke-width="1"/>
<line x1="473.00" y1="17.40" x2="475.70" y2="17.40" stroke="#222" stroke-width="0.9"/>
<text x="469.30" y="20.10" font-size="7.4" fill="#222" text-anchor="end" textLength="19.5" lengthAdjust="spacingAndGlyphs">2,400</text>
<rect x="480.30" y="16.90" width="5.90" height="18.50" fill="#5c1f6e"/>
<rect x="480.30" y="35.40" width="5.90" height="42.30" fill="#c8102e"/>
<line x1="472.30" y1="78.00" x2="490.80" y2="78.00" stroke="#222" stroke-width="1"/>
<text x="489.00" y="56.00" font-size="7.4" fill="#222" textLength="21" lengthAdjust="spacingAndGlyphs">~69%</text>
<text x="489.00" y="65.20" font-size="7.4" fill="#222" textLength="24" lengthAdjust="spacingAndGlyphs">(1,655)</text>
<text x="347.00" y="88.50" font-size="8" fill="#222" text-anchor="middle" textLength="43.2" lengthAdjust="spacingAndGlyphs">Primary MM</text>
<text x="347.00" y="97.80" font-size="8" fill="#222" text-anchor="middle">samples</text>
<text x="347.00" y="106.80" font-size="7.4" fill="#333" text-anchor="middle">(n=8)</text>
<text x="415.90" y="88.30" font-size="8" fill="#222" text-anchor="middle" textLength="45.8" lengthAdjust="spacingAndGlyphs">MM cell lines</text>
<text x="415.80" y="97.80" font-size="7.4" fill="#333" text-anchor="middle">(n=9)</text>
<text x="482.80" y="88.30" font-size="8" fill="#222" text-anchor="middle">All</text>
<text x="483.10" y="97.80" font-size="7.4" fill="#333" text-anchor="middle">(n=17)</text>
<text x="280.00" y="126.30" font-size="10.5" fill="#000" font-weight="bold">C</text>
<line x1="349.50" y1="127.50" x2="349.50" y2="194.50" stroke="#222" stroke-width="1"/>
<line x1="346.50" y1="193.75" x2="349.50" y2="193.75" stroke="#222" stroke-width="0.9"/>
<text x="344.60" y="196.35" font-size="7.5" fill="#222" text-anchor="end" textLength="4.7" lengthAdjust="spacingAndGlyphs">0</text>
<line x1="346.50" y1="184.54" x2="349.50" y2="184.54" stroke="#222" stroke-width="0.9"/>
<text x="344.60" y="187.14" font-size="7.5" fill="#222" text-anchor="end" textLength="4.7" lengthAdjust="spacingAndGlyphs">2</text>
<line x1="346.50" y1="175.32" x2="349.50" y2="175.32" stroke="#222" stroke-width="0.9"/>
<text x="344.60" y="177.92" font-size="7.5" fill="#222" text-anchor="end" textLength="4.7" lengthAdjust="spacingAndGlyphs">4</text>
<line x1="346.50" y1="166.11" x2="349.50" y2="166.11" stroke="#222" stroke-width="0.9"/>
<text x="344.60" y="168.71" font-size="7.5" fill="#222" text-anchor="end" textLength="4.7" lengthAdjust="spacingAndGlyphs">6</text>
<line x1="346.50" y1="156.89" x2="349.50" y2="156.89" stroke="#222" stroke-width="0.9"/>
<text x="344.60" y="159.49" font-size="7.5" fill="#222" text-anchor="end" textLength="4.7" lengthAdjust="spacingAndGlyphs">8</text>
<line x1="346.50" y1="147.68" x2="349.50" y2="147.68" stroke="#222" stroke-width="0.9"/>
<text x="344.60" y="150.28" font-size="7.5" fill="#222" text-anchor="end" textLength="9.4" lengthAdjust="spacingAndGlyphs">10</text>
<line x1="346.50" y1="138.46" x2="349.50" y2="138.46" stroke="#222" stroke-width="0.9"/>
<text x="344.60" y="141.06" font-size="7.5" fill="#222" text-anchor="end" textLength="9.4" lengthAdjust="spacingAndGlyphs">12</text>
<line x1="346.50" y1="129.25" x2="349.50" y2="129.25" stroke="#222" stroke-width="0.9"/>
<text x="344.60" y="131.85" font-size="7.5" fill="#222" text-anchor="end" textLength="9.4" lengthAdjust="spacingAndGlyphs">14</text>
<text x="318.60" y="161.80" font-size="9" fill="#222" text-anchor="middle" textLength="58.5" lengthAdjust="spacingAndGlyphs" transform="rotate(-90 318.60 161.80)">Normal. H3K27ac</text>
<text x="328.60" y="161.80" font-size="9" fill="#222" text-anchor="middle" textLength="41.5" lengthAdjust="spacingAndGlyphs" transform="rotate(-90 328.60 161.80)">signal (log2)</text>
<line x1="372.50" y1="142.00" x2="372.50" y2="154.20" stroke="#111" stroke-width="0.9" stroke-dasharray="1.3 1.3"/>
<line x1="372.50" y1="162.80" x2="372.50" y2="174.50" stroke="#111" stroke-width="0.9" stroke-dasharray="1.3 1.3"/>
<line x1="364.70" y1="142.00" x2="380.30" y2="142.00" stroke="#111" stroke-width="1.2"/>
<line x1="364.70" y1="174.50" x2="380.30" y2="174.50" stroke="#111" stroke-width="1.2"/>
<line x1="372.50" y1="137.50" x2="372.50" y2="142.00" stroke="#111" stroke-width="1.4"/>
<line x1="372.50" y1="174.50" x2="372.50" y2="193.80" stroke="#111" stroke-width="1.6"/>
<rect x="356.80" y="154.20" width="31.60" height="8.60" fill="#0f6b55" stroke="#111" stroke-width="0.9"/>
<line x1="356.80" y1="157.80" x2="388.40" y2="157.80" stroke="#111" stroke-width="1.0"/>
<line x1="423.30" y1="140.80" x2="423.30" y2="154.20" stroke="#111" stroke-width="0.9" stroke-dasharray="1.3 1.3"/>
<line x1="423.30" y1="163.80" x2="423.30" y2="178.00" stroke="#111" stroke-width="0.9" stroke-dasharray="1.3 1.3"/>
<line x1="415.50" y1="140.80" x2="431.10" y2="140.80" stroke="#111" stroke-width="1.2"/>
<line x1="415.50" y1="178.00" x2="431.10" y2="178.00" stroke="#111" stroke-width="1.2"/>
<line x1="423.30" y1="136.80" x2="423.30" y2="140.80" stroke="#111" stroke-width="1.4"/>
<line x1="423.30" y1="178.00" x2="423.30" y2="194.30" stroke="#111" stroke-width="1.6"/>
<rect x="407.60" y="154.20" width="31.60" height="9.60" fill="#c97a30" stroke="#111" stroke-width="0.9"/>
<line x1="407.60" y1="159.60" x2="439.20" y2="159.60" stroke="#111" stroke-width="1.0"/>
<path d="M372.5,134 V131.8 H423.3 V134" fill="none" stroke="#222" stroke-width="0.9"/>
<path d="M372.5,196.3 V199.5 H423.3 V196.3" fill="none" stroke="#222" stroke-width="0.9"/>
<text x="372.4" y="128.8" font-size="9" font-weight="bold" font-style="italic" fill="#111">P = 1.6 × 10<tspan dy="-3.2" font-size="6.4">–8</tspan></text>
<text x="369.80" y="210.60" font-size="8.4" fill="#111" text-anchor="middle" font-weight="bold">1q-amp(+)</text>
<text x="371.70" y="219.90" font-size="7.5" fill="#333" text-anchor="middle">(n=10)</text>
<text x="423.30" y="210.60" font-size="8.4" fill="#111" text-anchor="middle" font-weight="bold">1q-amp(–)</text>
<text x="423.30" y="219.90" font-size="7.5" fill="#333" text-anchor="middle">(n=7)</text>
<text x="280.00" y="251.50" font-size="10.5" fill="#000" font-weight="bold">D</text>
<text x="363.40" y="253.30" font-size="7.7" fill="#111" text-anchor="middle" font-weight="bold">1q-amp(+)</text>
<rect x="345.00" y="262.00" width="10.50" height="6.60" fill="#0e5e48"/>
<text x="342.00" y="267.20" font-size="6.4" fill="#222" text-anchor="end">G2-M checkpoint</text>
<rect x="345.00" y="270.00" width="10.50" height="6.60" fill="#0e5e48"/>
<text x="342.00" y="275.20" font-size="6.4" fill="#222" text-anchor="end">Unfold. Protein response</text>
<rect x="345.00" y="278.00" width="12.00" height="6.60" fill="#0e5e48"/>
<text x="342.00" y="283.20" font-size="6.4" fill="#222" text-anchor="end">p53 pathway</text>
<rect x="345.00" y="286.00" width="14.20" height="6.60" fill="#0e5e48"/>
<text x="342.00" y="291.20" font-size="6.4" fill="#222" text-anchor="end">mTORC1 signaling</text>
<rect x="345.00" y="294.00" width="14.20" height="6.60" fill="#0e5e48"/>
<text x="342.00" y="299.20" font-size="6.4" fill="#222" text-anchor="end">IL-2/STAT5 signaling</text>
<rect x="345.00" y="302.00" width="15.00" height="6.60" fill="#0e5e48"/>
<text x="342.00" y="307.20" font-size="6.4" fill="#222" text-anchor="end">Hypoxia</text>
<rect x="345.00" y="310.00" width="15.00" height="6.60" fill="#0e5e48"/>
<text x="342.00" y="315.20" font-size="6.4" fill="#222" text-anchor="end">TNFα signal. via NF-kB</text>
<line x1="344.60" y1="257.50" x2="344.60" y2="318.40" stroke="#111" stroke-width="1"/>
<line x1="360.30" y1="261.00" x2="360.30" y2="317.80" stroke="#111" stroke-width="1"/>
<line x1="344.20" y1="318.20" x2="380.00" y2="318.20" stroke="#111" stroke-width="1"/>
<line x1="344.80" y1="318.20" x2="344.80" y2="321.00" stroke="#111" stroke-width="0.9"/>
<text x="344.80" y="330.20" font-size="8.6" fill="#222" text-anchor="middle">0</text>
<line x1="360.50" y1="318.20" x2="360.50" y2="321.00" stroke="#111" stroke-width="0.9"/>
<text x="360.50" y="330.20" font-size="8.6" fill="#222" text-anchor="middle">2</text>
<line x1="376.20" y1="318.20" x2="376.20" y2="321.00" stroke="#111" stroke-width="0.9"/>
<text x="376.20" y="330.20" font-size="8.6" fill="#222" text-anchor="middle">4</text>
<text x="361.50" y="339.50" font-size="9" fill="#222" text-anchor="middle" textLength="52" lengthAdjust="spacingAndGlyphs">Rel. enrichment</text>
<text x="361.5" y="349.6" font-size="9" fill="#222" text-anchor="middle" textLength="52" lengthAdjust="spacingAndGlyphs">q-value (–log<tspan font-size="6.5" dy="1.5">10</tspan><tspan dy="-1.5">)</tspan></text>
<text x="421.80" y="253.60" font-size="7.7" fill="#111" text-anchor="middle" font-weight="bold">1q-amp(–)</text>
<rect x="433.90" y="263.00" width="5.40" height="6.00" fill="#d08a3a"/>
<text x="442.50" y="268.00" font-size="6.4" fill="#222">IL-2/STAT5 signaling</text>
<rect x="432.80" y="271.60" width="6.50" height="6.00" fill="#d08a3a"/>
<text x="442.50" y="276.60" font-size="6.4" fill="#222">p53 pathway</text>
<rect x="432.80" y="280.10" width="6.50" height="6.00" fill="#d08a3a"/>
<text x="442.50" y="285.10" font-size="6.4" fill="#222">PI3K/AKT/mTOR signaling</text>
<rect x="430.40" y="288.60" width="8.90" height="6.00" fill="#d08a3a"/>
<text x="442.50" y="293.60" font-size="6.4" fill="#222">Hypoxia</text>
<rect x="419.60" y="297.10" width="19.70" height="6.50" fill="#d08a3a"/>
<text x="442.50" y="302.10" font-size="6.4" fill="#222">TNFα signaling via NF-kB</text>
<line x1="439.40" y1="260.00" x2="439.40" y2="305.60" stroke="#111" stroke-width="1"/>
<line x1="423.10" y1="261.50" x2="423.10" y2="305.00" stroke="#111" stroke-width="1"/>
<line x1="405.00" y1="305.30" x2="439.90" y2="305.30" stroke="#111" stroke-width="1"/>
<line x1="407.20" y1="305.30" x2="407.20" y2="308.00" stroke="#111" stroke-width="0.9"/>
<text x="407.20" y="316.90" font-size="8.6" fill="#222" text-anchor="middle">10</text>
<line x1="423.10" y1="305.30" x2="423.10" y2="308.00" stroke="#111" stroke-width="0.9"/>
<text x="423.10" y="316.90" font-size="8.6" fill="#222" text-anchor="middle">5</text>
<line x1="439.10" y1="305.30" x2="439.10" y2="308.00" stroke="#111" stroke-width="0.9"/>
<text x="439.10" y="316.90" font-size="8.6" fill="#222" text-anchor="middle">0</text>
<text x="422.70" y="328.60" font-size="9" fill="#222" text-anchor="middle" textLength="52" lengthAdjust="spacingAndGlyphs">Rel. enrichment</text>
<text x="422.3" y="338.4" font-size="9" fill="#222" text-anchor="middle" textLength="52" lengthAdjust="spacingAndGlyphs">q-value (–log<tspan font-size="6.5" dy="1.5">10</tspan><tspan dy="-1.5">)</tspan></text>
<text x="389.50" y="380.60" font-size="10.5" fill="#000" font-weight="bold">F</text>
<text x="455.20" y="380.20" font-size="8.2" fill="#111" text-anchor="middle" font-weight="bold" textLength="25" lengthAdjust="spacingAndGlyphs">MM.1S</text>
<text x="444.90" y="527.50" font-size="8.2" fill="#111" text-anchor="middle" font-weight="bold">U266</text>
<text x="432.00" y="392.00" font-size="6.8" fill="#222" text-anchor="middle">ChEA</text>
<text x="432.00" y="399.70" font-size="6.8" fill="#222" text-anchor="middle">datasets</text>
<text x="487.30" y="392.00" font-size="6.8" fill="#222" text-anchor="middle">NCI-nature</text>
<text x="487.30" y="399.70" font-size="6.8" fill="#222" text-anchor="middle">pathways</text>
<line x1="415.20" y1="404.90" x2="415.20" y2="439.10" stroke="#111" stroke-width="1"/>
<line x1="414.70" y1="438.60" x2="445.80" y2="438.60" stroke="#111" stroke-width="1"/>
<text x="412.60" y="411.50" font-size="7.2" fill="#222" text-anchor="end" textLength="7.61" lengthAdjust="spacingAndGlyphs">80</text>
<text x="412.60" y="418.90" font-size="7.2" fill="#222" text-anchor="end" textLength="7.61" lengthAdjust="spacingAndGlyphs">60</text>
<text x="412.60" y="426.30" font-size="7.2" fill="#222" text-anchor="end" textLength="7.61" lengthAdjust="spacingAndGlyphs">40</text>
<text x="412.60" y="433.70" font-size="7.2" fill="#222" text-anchor="end" textLength="7.61" lengthAdjust="spacingAndGlyphs">20</text>
<text x="412.60" y="441.10" font-size="7.2" fill="#222" text-anchor="end" textLength="3.8" lengthAdjust="spacingAndGlyphs">0</text>
<rect x="416.00" y="415.10" width="6.70" height="23.50" fill="#1f4e7a"/>
<rect x="423.40" y="418.40" width="6.70" height="20.20" fill="#1f4e7a"/>
<rect x="430.80" y="423.00" width="6.70" height="15.60" fill="#1f4e7a"/>
<rect x="438.20" y="429.20" width="6.70" height="9.40" fill="#1f4e7a"/>
<text x="421.55" y="441.60" font-size="7" fill="#d0203a" text-anchor="end" textLength="62.67" lengthAdjust="spacingAndGlyphs" transform="rotate(-90 421.55 441.60)">FOXM1_OE33&amp;U2OS</text>
<text x="428.95" y="441.60" font-size="7" fill="#d0203a" text-anchor="end" textLength="42.36" lengthAdjust="spacingAndGlyphs" transform="rotate(-90 428.95 441.60)">FOXM1_U2OS</text>
<text x="436.35" y="441.60" font-size="7" fill="#d0203a" text-anchor="end" textLength="42.59" lengthAdjust="spacingAndGlyphs" transform="rotate(-90 436.35 441.60)">E2F4_JURKAT</text>
<text x="443.75" y="441.60" font-size="7" fill="#d0203a" text-anchor="end" textLength="37.81" lengthAdjust="spacingAndGlyphs" transform="rotate(-90 443.75 441.60)">E2F1_MCF-7</text>
<line x1="463.90" y1="404.90" x2="463.90" y2="439.10" stroke="#111" stroke-width="1"/>
<line x1="463.40" y1="438.60" x2="507.22" y2="438.60" stroke="#111" stroke-width="1"/>
<text x="461.30" y="411.50" font-size="7.2" fill="#222" text-anchor="end" textLength="7.61" lengthAdjust="spacingAndGlyphs">20</text>
<text x="461.30" y="426.30" font-size="7.2" fill="#222" text-anchor="end" textLength="7.61" lengthAdjust="spacingAndGlyphs">10</text>
<text x="461.30" y="441.10" font-size="7.2" fill="#222" text-anchor="end" textLength="3.8" lengthAdjust="spacingAndGlyphs">0</text>
<rect x="464.30" y="417.00" width="6.50" height="21.60" fill="#1f4e7a"/>
<rect x="471.42" y="417.00" width="6.50" height="21.60" fill="#1f4e7a"/>
<rect x="478.54" y="417.00" width="6.50" height="21.60" fill="#1f4e7a"/>
<rect x="485.66" y="417.60" width="6.50" height="21.00" fill="#1f4e7a"/>
<rect x="492.78" y="419.20" width="6.50" height="19.40" fill="#1f4e7a"/>
<rect x="499.90" y="423.00" width="6.50" height="15.60" fill="#1f4e7a"/>
<text x="469.75" y="441.60" font-size="7" fill="#222" text-anchor="end" textLength="42.03" lengthAdjust="spacingAndGlyphs" transform="rotate(-90 469.75 441.60)">PLK1 signaling</text>
<text x="476.87" y="441.60" font-size="7" fill="#d0203a" text-anchor="end" textLength="44.69" lengthAdjust="spacingAndGlyphs" transform="rotate(-90 476.87 441.60)">E2F TF network</text>
<text x="483.99" y="441.60" font-size="7" fill="#222" text-anchor="end" textLength="70.04" lengthAdjust="spacingAndGlyphs" transform="rotate(-90 483.99 441.60)">Fanconi anemia pathway</text>
<text x="491.11" y="441.60" font-size="7" fill="#222" text-anchor="end" textLength="63.96" lengthAdjust="spacingAndGlyphs" transform="rotate(-90 491.11 441.60)">ATR signaling pathway</text>
<text x="498.23" y="441.60" font-size="7" fill="#d0203a" text-anchor="end" textLength="51.48" lengthAdjust="spacingAndGlyphs" transform="rotate(-90 498.23 441.60)">Aurora B signaling</text>
<text x="505.35" y="441.60" font-size="7" fill="#d0203a" text-anchor="end" textLength="54.84" lengthAdjust="spacingAndGlyphs" transform="rotate(-90 505.35 441.60)">FOXM1 TF network</text>
<text x="389.00" y="423.80" font-size="7.8" fill="#222" text-anchor="middle" textLength="40" lengthAdjust="spacingAndGlyphs" transform="rotate(-90 389.00 423.80)">Rel. enrichment</text>
<text x="396.2" y="424.2" font-size="7.8" fill="#222" text-anchor="middle" transform="rotate(-90 396.2 424.2)" textLength="41" lengthAdjust="spacingAndGlyphs">q-value (–log<tspan font-size="5.4" dy="1.2">10</tspan><tspan dy="-1.2">)</tspan></text>
<text x="427.20" y="535.60" font-size="6.8" fill="#222" text-anchor="middle">ChEA</text>
<text x="427.20" y="543.20" font-size="6.8" fill="#222" text-anchor="middle">datasets</text>
<text x="483.20" y="535.60" font-size="6.8" fill="#222" text-anchor="middle">NCI-nature</text>
<text x="483.20" y="543.20" font-size="6.8" fill="#222" text-anchor="middle">pathways</text>
<line x1="408.40" y1="549.10" x2="408.40" y2="586.50" stroke="#111" stroke-width="1"/>
<line x1="407.90" y1="586.00" x2="438.90" y2="586.00" stroke="#111" stroke-width="1"/>
<text x="405.80" y="554.80" font-size="7.2" fill="#222" text-anchor="end" textLength="7.61" lengthAdjust="spacingAndGlyphs">40</text>
<text x="405.80" y="563.20" font-size="7.2" fill="#222" text-anchor="end" textLength="7.61" lengthAdjust="spacingAndGlyphs">30</text>
<text x="405.80" y="571.70" font-size="7.2" fill="#222" text-anchor="end" textLength="7.61" lengthAdjust="spacingAndGlyphs">20</text>
<text x="405.80" y="580.10" font-size="7.2" fill="#222" text-anchor="end" textLength="7.61" lengthAdjust="spacingAndGlyphs">10</text>
<text x="405.80" y="588.50" font-size="7.2" fill="#222" text-anchor="end" textLength="3.8" lengthAdjust="spacingAndGlyphs">0</text>
<rect x="408.90" y="561.80" width="6.80" height="24.20" fill="#1a6650"/>
<rect x="416.35" y="564.50" width="6.80" height="21.50" fill="#1a6650"/>
<rect x="423.80" y="570.70" width="6.80" height="15.30" fill="#1a6650"/>
<rect x="431.25" y="573.90" width="6.80" height="12.10" fill="#1a6650"/>
<text x="414.50" y="588.80" font-size="7" fill="#d0203a" text-anchor="end" textLength="60.92" lengthAdjust="spacingAndGlyphs" transform="rotate(-90 414.50 588.80)">FOXM1 OE33&amp;U2OS</text>
<text x="421.95" y="588.80" font-size="7" fill="#d0203a" text-anchor="end" textLength="42.36" lengthAdjust="spacingAndGlyphs" transform="rotate(-90 421.95 588.80)">FOXM1_U2OS</text>
<text x="429.40" y="588.80" font-size="7" fill="#d0203a" text-anchor="end" textLength="42.59" lengthAdjust="spacingAndGlyphs" transform="rotate(-90 429.40 588.80)">E2F4_JURKAT</text>
<text x="436.85" y="588.80" font-size="7" fill="#d0203a" text-anchor="end" textLength="57.76" lengthAdjust="spacingAndGlyphs" transform="rotate(-90 436.85 588.80)">MYC MESCs mouse</text>
<line x1="453.40" y1="549.10" x2="453.40" y2="586.50" stroke="#111" stroke-width="1"/>
<line x1="452.90" y1="586.00" x2="509.69" y2="586.00" stroke="#111" stroke-width="1"/>
<text x="450.80" y="554.80" font-size="7.2" fill="#222" text-anchor="end" textLength="7.61" lengthAdjust="spacingAndGlyphs">20</text>
<text x="450.80" y="571.70" font-size="7.2" fill="#222" text-anchor="end" textLength="7.61" lengthAdjust="spacingAndGlyphs">10</text>
<text x="450.80" y="588.50" font-size="7.2" fill="#222" text-anchor="end" textLength="3.8" lengthAdjust="spacingAndGlyphs">0</text>
<rect x="453.70" y="561.00" width="7.30" height="25.00" fill="#1a6650"/>
<rect x="461.67" y="568.00" width="7.30" height="18.00" fill="#1a6650"/>
<rect x="469.64" y="569.00" width="7.30" height="17.00" fill="#1a6650"/>
<rect x="477.61" y="572.60" width="7.30" height="13.40" fill="#1a6650"/>
<rect x="485.58" y="574.70" width="7.30" height="11.30" fill="#1a6650"/>
<rect x="493.55" y="576.00" width="7.30" height="10.00" fill="#1a6650"/>
<rect x="501.52" y="576.90" width="7.30" height="9.10" fill="#1a6650"/>
<text x="459.55" y="588.80" font-size="7" fill="#d0203a" text-anchor="end" textLength="51.48" lengthAdjust="spacingAndGlyphs" transform="rotate(-90 459.55 588.80)">Aurora B signaling</text>
<text x="467.52" y="588.80" font-size="7" fill="#222" text-anchor="end" textLength="62.34" lengthAdjust="spacingAndGlyphs" transform="rotate(-90 467.52 588.80)">PLK1 signaling events</text>
<text x="475.49" y="588.80" font-size="7" fill="#d0203a" text-anchor="end" textLength="44.69" lengthAdjust="spacingAndGlyphs" transform="rotate(-90 475.49 588.80)">E2F TF network</text>
<text x="483.46" y="588.80" font-size="7" fill="#222" text-anchor="end" textLength="63.96" lengthAdjust="spacingAndGlyphs" transform="rotate(-90 483.46 588.80)">ATR signaling pathway</text>
<text x="491.43" y="588.80" font-size="7" fill="#d0203a" text-anchor="end" textLength="67.81" lengthAdjust="spacingAndGlyphs" transform="rotate(-90 491.43 588.80)">Validated c-MYC targets</text>
<text x="499.40" y="588.80" font-size="7" fill="#d0203a" text-anchor="end" textLength="54.84" lengthAdjust="spacingAndGlyphs" transform="rotate(-90 499.40 588.80)">FOXM1 TF network</text>
<text x="507.37" y="588.80" font-size="7" fill="#d0203a" text-anchor="end" textLength="54.51" lengthAdjust="spacingAndGlyphs" transform="rotate(-90 507.37 588.80)">Direct p53 effectors</text>
<text x="382.40" y="569.50" font-size="7.8" fill="#222" text-anchor="middle" textLength="40" lengthAdjust="spacingAndGlyphs" transform="rotate(-90 382.40 569.50)">Rel. enrichment</text>
<text x="389.8" y="569.5" font-size="7.8" fill="#222" text-anchor="middle" transform="rotate(-90 389.8 569.5)" textLength="41" lengthAdjust="spacingAndGlyphs">q-value (–log<tspan font-size="5.4" dy="1.2">10</tspan><tspan dy="-1.2">)</tspan></text>
</svg>
</body></html>
